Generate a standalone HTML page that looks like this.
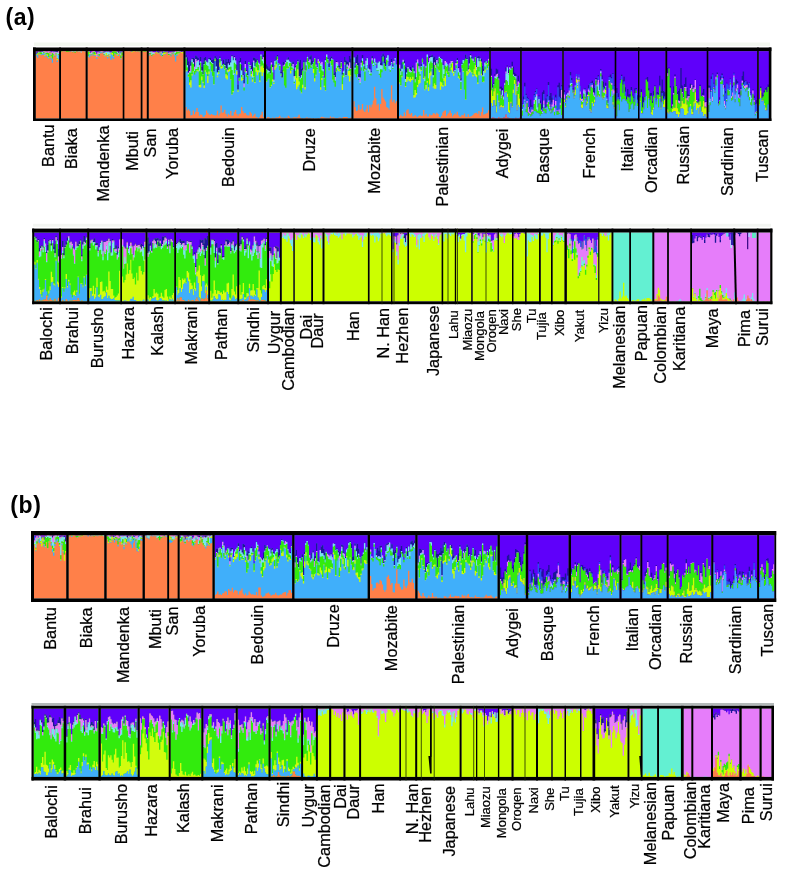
<!DOCTYPE html>
<html><head><meta charset="utf-8"><style>
html,body{margin:0;padding:0;background:#fff;width:785px;height:876px;overflow:hidden}
svg{display:block}
</style></head><body>
<svg width="785" height="876" viewBox="0 0 785 876">
<defs>
<filter id="bl" x="-2%" y="-10%" width="104%" height="120%"><feGaussianBlur stdDeviation="0.55"/></filter>
<filter id="bt" x="-5%" y="-5%" width="110%" height="110%"><feGaussianBlur stdDeviation="0.3"/></filter>
<filter id="bl2" x="-2%" y="-10%" width="104%" height="120%"><feGaussianBlur stdDeviation="0.3"/></filter>
</defs>
<g filter="url(#bl)">
<rect x="35.5" y="51.1" width="23.9" height="67.3" fill="#ff8048"/>
<rect x="60.7" y="51.1" width="25.2" height="67.3" fill="#ff8048"/>
<rect x="87.4" y="51.1" width="35.6" height="67.3" fill="#ff8048"/>
<rect x="124.1" y="51.1" width="16.9" height="67.3" fill="#ff8048"/>
<rect x="142.2" y="51.1" width="4.9" height="67.3" fill="#ff8048"/>
<rect x="148.5" y="51.1" width="35.2" height="67.3" fill="#ff8048"/>
<rect x="185.2" y="51.1" width="79.1" height="67.3" fill="#41affa"/>
<rect x="265.7" y="51.1" width="86.0" height="67.3" fill="#41affa"/>
<rect x="353.1" y="51.1" width="44.2" height="67.3" fill="#41affa"/>
<rect x="398.7" y="51.1" width="90.8" height="67.3" fill="#41affa"/>
<rect x="490.5" y="51.1" width="29.9" height="67.3" fill="#5f00fa"/>
<rect x="521.5" y="51.1" width="41.0" height="67.3" fill="#5f00fa"/>
<rect x="563.5" y="51.1" width="51.5" height="67.3" fill="#5f00fa"/>
<rect x="616.0" y="51.1" width="22.3" height="67.3" fill="#5f00fa"/>
<rect x="639.2" y="51.1" width="26.4" height="67.3" fill="#5f00fa"/>
<rect x="666.9" y="51.1" width="40.1" height="67.3" fill="#5f00fa"/>
<rect x="708.1" y="51.1" width="49.3" height="67.3" fill="#5f00fa"/>
<rect x="758.5" y="51.1" width="10.6" height="67.3" fill="#5f00fa"/>
<path d="M36.4 51.1v0.3M37.6 51.1v0.5M41.3 51.1v0.4M46.2 51.1v0.2M49.9 51.1v0.3M51.1 51.1v1.2M52.4 51.1v0.3M72.7 51.1v0.2M81.3 51.1v0.2M89.5 51.1v0.3M90.7 51.1v1.2M91.9 51.1v0.4M95.5 51.1v0.4M96.8 51.1v2.3M98.0 51.1v0.5M104.0 51.1v0.2M105.2 51.1v0.4M106.4 51.1v0.5M107.6 51.1v0.4M108.8 51.1v0.4M110.0 51.1v1.3M111.2 51.1v1.4M112.4 51.1v0.2M117.3 51.1v0.3M118.5 51.1v0.2M122.1 51.1v0.4M153.0 51.1v0.3M154.2 51.1v1.1M155.4 51.1v1.0M156.6 51.1v0.4M157.7 51.1v1.1M158.9 51.1v0.5M164.9 51.1v0.3M166.1 51.1v0.4M167.3 51.1v0.3M168.5 51.1v1.0M169.7 51.1v0.4M170.9 51.1v1.0M172.1 51.1v0.2M173.3 51.1v0.2M174.5 51.1v0.7M175.6 51.1v0.2M181.6 51.1v0.5M182.8 51.1v0.2M186.1 51.1v3.8M187.3 51.1v6.2M188.5 51.1v10.1M189.7 51.1v13.4M190.9 51.1v9.5M192.1 51.1v7.1M193.3 51.1v6.8M194.6 51.1v7.7M195.8 51.1v4.5M197.0 51.1v5.5M198.2 51.1v7.0M199.4 51.1v11.6M200.6 51.1v5.8M201.8 51.1v15.9M203.0 51.1v11.7M204.2 51.1v6.9M205.4 51.1v5.9M206.6 51.1v9.3M207.8 51.1v11.2M209.0 51.1v6.9M210.3 51.1v6.5M211.5 51.1v8.8M212.7 51.1v8.9M213.9 51.1v8.0M215.1 51.1v4.8M216.3 51.1v6.5M217.5 51.1v7.9M218.7 51.1v8.1M219.9 51.1v5.1M221.1 51.1v9.5M222.3 51.1v13.1M223.5 51.1v8.4M224.8 51.1v12.3M226.0 51.1v8.0M227.2 51.1v10.8M228.4 51.1v8.0M229.6 51.1v10.8M230.8 51.1v9.3M232.0 51.1v4.0M233.2 51.1v5.7M234.4 51.1v4.7M235.6 51.1v7.1M236.8 51.1v13.3M238.0 51.1v33.3M239.2 51.1v9.8M240.4 51.1v6.6M241.7 51.1v13.4M242.9 51.1v19.5M244.1 51.1v23.5M245.3 51.1v10.0M246.5 51.1v19.0M247.7 51.1v19.4M248.9 51.1v10.5M250.1 51.1v13.3M251.3 51.1v14.7M252.5 51.1v11.1M253.7 51.1v6.4M254.9 51.1v7.0M256.2 51.1v8.2M257.4 51.1v8.2M258.6 51.1v11.4M259.8 51.1v12.4M261.0 51.1v2.9M262.2 51.1v7.0M263.4 51.1v3.4M266.6 51.1v13.2M267.8 51.1v15.2M269.0 51.1v17.4M270.2 51.1v15.4M271.4 51.1v10.2M272.6 51.1v13.1M273.8 51.1v28.0M275.0 51.1v8.6M276.2 51.1v5.4M277.4 51.1v3.9M278.6 51.1v11.8M279.8 51.1v13.1M281.0 51.1v20.9M282.2 51.1v18.8M283.4 51.1v11.0M284.6 51.1v12.8M285.8 51.1v9.7M287.0 51.1v7.7M288.3 51.1v6.2M289.5 51.1v9.5M290.7 51.1v10.4M291.9 51.1v12.6M293.1 51.1v10.7M294.3 51.1v17.3M295.5 51.1v14.6M296.7 51.1v13.2M297.9 51.1v8.4M299.1 51.1v11.5M300.3 51.1v8.6M301.5 51.1v17.7M302.7 51.1v16.4M303.9 51.1v9.2M305.1 51.1v19.0M306.3 51.1v10.2M307.5 51.1v4.7M308.7 51.1v8.9M309.9 51.1v5.3M311.1 51.1v4.2M312.3 51.1v9.4M313.5 51.1v10.6M314.7 51.1v6.8M315.9 51.1v13.0M317.1 51.1v15.5M318.3 51.1v7.3M319.5 51.1v10.3M320.7 51.1v12.2M321.9 51.1v10.7M323.1 51.1v17.0M324.3 51.1v26.0M325.5 51.1v8.2M326.7 51.1v3.3M327.9 51.1v6.8M329.1 51.1v12.2M330.4 51.1v6.5M331.6 51.1v5.5M332.8 51.1v7.8M334.0 51.1v22.1M335.2 51.1v20.2M336.4 51.1v9.6M337.6 51.1v10.8M338.8 51.1v14.1M340.0 51.1v15.0M341.2 51.1v9.9M342.4 51.1v21.4M343.6 51.1v18.3M344.8 51.1v5.8M346.0 51.1v9.3M347.2 51.1v10.3M348.4 51.1v11.1M349.6 51.1v5.0M350.8 51.1v7.5M354.0 51.1v6.4M355.2 51.1v14.8M356.4 51.1v5.4M357.6 51.1v3.3M358.8 51.1v11.6M360.1 51.1v22.5M361.3 51.1v9.0M362.5 51.1v4.0M363.7 51.1v12.2M364.9 51.1v15.0M366.1 51.1v7.7M367.3 51.1v6.4M368.5 51.1v16.7M369.8 51.1v13.1M371.0 51.1v19.8M372.2 51.1v4.8M373.4 51.1v10.6M374.6 51.1v6.8M375.8 51.1v11.1M377.0 51.1v16.8M378.2 51.1v10.7M379.4 51.1v9.8M380.6 51.1v11.6M381.9 51.1v4.6M383.1 51.1v2.4M384.3 51.1v4.5M385.5 51.1v10.9M386.7 51.1v5.8M387.9 51.1v4.0M389.1 51.1v14.4M390.3 51.1v13.9M391.6 51.1v7.6M392.8 51.1v14.2M394.0 51.1v9.7M395.2 51.1v6.4M396.4 51.1v13.5M399.6 51.1v13.7M400.8 51.1v17.9M402.0 51.1v11.3M403.2 51.1v7.7M404.4 51.1v9.5M405.6 51.1v15.4M406.8 51.1v16.6M408.0 51.1v15.2M409.2 51.1v17.2M410.4 51.1v16.0M411.6 51.1v18.1M412.8 51.1v14.4M414.0 51.1v17.9M415.2 51.1v21.8M416.4 51.1v10.2M417.6 51.1v8.0M418.8 51.1v12.1M420.0 51.1v16.6M421.2 51.1v12.9M422.5 51.1v6.7M423.7 51.1v12.7M424.9 51.1v25.4M426.1 51.1v14.7M427.3 51.1v3.3M428.5 51.1v10.1M429.7 51.1v4.9M430.9 51.1v5.0M432.1 51.1v3.7M433.3 51.1v6.5M434.5 51.1v5.4M435.7 51.1v8.4M436.9 51.1v7.7M438.1 51.1v10.6M439.3 51.1v5.1M440.5 51.1v6.2M441.7 51.1v7.6M442.9 51.1v13.6M444.1 51.1v17.8M445.3 51.1v9.5M446.5 51.1v11.3M447.7 51.1v13.3M448.9 51.1v20.3M450.1 51.1v12.0M451.3 51.1v9.5M452.5 51.1v10.0M453.7 51.1v20.2M454.9 51.1v18.8M456.1 51.1v10.8M457.3 51.1v7.0M458.5 51.1v15.5M459.7 51.1v20.3M460.9 51.1v26.8M462.1 51.1v11.2M463.3 51.1v8.3M464.5 51.1v8.5M465.7 51.1v3.5M467.0 51.1v6.8M468.2 51.1v16.7M469.4 51.1v5.5M470.6 51.1v2.6M471.8 51.1v5.3M473.0 51.1v6.6M474.2 51.1v11.0M475.4 51.1v5.5M476.6 51.1v14.4M477.8 51.1v5.4M479.0 51.1v5.0M480.2 51.1v6.5M481.4 51.1v7.8M482.6 51.1v14.7M483.8 51.1v17.5M485.0 51.1v9.9M486.2 51.1v10.1M487.4 51.1v11.8M488.6 51.1v7.7" stroke="#5f00fa" stroke-width="1.35"/>
<path d="M36.4 51.4v1.2M37.6 51.6v0.9M38.9 51.2v0.4M40.1 51.2v0.7M41.3 51.5v0.3M46.2 51.3v0.2M47.5 51.1v0.2M54.8 51.1v0.3M56.0 51.1v0.7M57.3 51.1v1.0M58.5 51.1v0.2M70.2 51.1v0.2M90.7 52.3v0.3M98.0 51.6v0.2M99.2 51.1v0.2M100.4 51.1v0.2M116.1 51.2v0.2M117.3 51.4v0.3M118.5 51.3v1.4M119.7 51.1v0.4M149.4 51.2v0.2M153.0 51.4v0.6M157.7 52.2v0.2M158.9 51.6v1.1M160.1 51.2v0.6M161.3 51.1v0.4M162.5 51.1v0.5M163.7 51.1v0.2M169.7 51.5v0.7M170.9 52.1v0.2M172.1 51.3v0.4M173.3 51.3v0.4M176.8 51.1v0.2M181.6 51.6v0.4M182.8 51.3v0.3M186.1 54.9v2.7M187.3 57.3v7.7M188.5 61.2v11.5M189.7 64.5v6.5M190.9 60.6v5.1M192.1 58.2v1.1M193.3 57.9v4.2M194.6 58.8v7.9M195.8 55.6v3.5M197.0 56.6v4.3M198.2 58.1v2.1M199.4 62.7v2.6M200.6 56.9v4.5M201.8 67.0v3.5M203.0 62.8v11.3M204.2 58.0v6.0M205.4 57.0v3.7M206.6 60.4v1.3M207.8 62.3v0.3M209.0 58.0v1.0M210.3 57.6v2.5M211.5 59.9v2.2M212.7 60.0v3.1M213.9 59.1v12.3M215.1 55.9v2.5M216.3 57.6v8.9M217.5 59.0v13.5M218.7 59.2v11.2M219.9 56.2v1.7M221.1 60.6v0.3M222.3 64.2v1.0M223.5 59.5v4.4M224.8 63.4v1.7M226.0 59.1v9.0M227.2 61.9v7.8M228.4 59.1v4.4M229.6 61.9v3.1M230.8 60.4v2.1M232.0 55.1v1.1M233.2 56.8v3.5M234.4 55.8v1.3M235.6 58.2v2.4M236.8 64.4v5.7M238.0 84.4v5.0M239.2 60.9v16.8M240.4 57.7v4.9M241.7 64.5v6.0M242.9 70.6v4.3M244.1 74.6v9.0M245.3 61.1v3.0M246.5 70.1v1.0M247.7 70.5v4.7M248.9 61.6v0.8M250.1 64.4v0.5M251.3 65.8v3.4M252.5 62.2v9.2M253.7 57.5v3.1M254.9 58.1v7.9M256.2 59.3v3.3M257.4 59.3v1.3M258.6 62.5v0.3M259.8 63.5v0.6M261.0 54.0v0.5M262.2 58.1v0.8M263.4 54.5v2.8M266.6 64.3v4.5M267.8 66.3v3.8M269.0 68.5v2.6M270.2 66.5v6.9M271.4 61.3v1.2M272.6 64.2v2.8M273.8 79.1v0.5M275.0 59.7v1.0M276.2 56.5v4.0M277.4 55.0v1.5M278.6 62.9v0.4M279.8 64.2v0.3M281.0 72.0v1.6M282.2 69.9v7.6M283.4 62.1v3.6M284.6 63.9v0.5M285.8 60.8v1.3M287.0 58.8v1.0M288.3 57.3v2.5M289.5 60.6v0.8M290.7 61.5v0.9M291.9 63.7v2.6M293.1 61.8v2.2M294.3 68.4v7.7M295.5 65.7v1.7M297.9 59.5v1.8M299.1 62.6v13.6M300.3 59.7v18.0M301.5 68.8v6.2M302.7 67.5v3.2M303.9 60.3v1.8M305.1 70.1v0.4M306.3 61.3v0.5M307.5 55.8v1.0M308.7 60.0v0.8M309.9 56.4v3.1M311.1 55.3v9.9M312.3 60.5v4.0M313.5 61.7v0.7M314.7 57.9v0.3M315.9 64.1v0.4M317.1 66.6v0.5M318.3 58.4v0.9M319.5 61.4v0.2M323.1 68.1v1.0M324.3 77.1v0.7M325.5 59.3v0.7M326.7 54.4v0.2M327.9 57.9v1.3M329.1 63.3v3.8M330.4 57.6v3.7M331.6 56.6v1.9M332.8 58.9v0.6M334.0 73.2v1.8M335.2 71.3v5.6M336.4 60.7v1.2M337.6 61.9v0.4M338.8 65.2v2.3M340.0 66.1v2.8M341.2 61.0v1.0M342.4 72.5v2.2M343.6 69.4v1.3M344.8 56.9v5.1M346.0 60.4v14.5M347.2 61.4v3.2M348.4 62.2v3.6M349.6 56.1v6.4M350.8 58.6v9.4M355.2 65.9v1.8M356.4 56.5v6.8M357.6 54.4v10.9M358.8 62.7v14.4M360.1 73.6v3.9M361.3 60.1v2.6M362.5 55.1v3.1M363.7 63.3v1.0M364.9 66.1v2.9M366.1 58.8v2.0M367.3 57.5v0.6M368.5 67.8v0.8M369.8 64.2v5.3M371.0 70.9v1.5M372.2 55.9v2.5M373.4 61.7v1.0M374.6 57.9v0.6M375.8 62.2v0.2M377.0 67.9v0.4M378.2 61.8v0.9M379.4 60.9v0.7M380.6 62.7v2.4M381.9 55.7v9.7M383.1 53.5v3.1M384.3 55.6v8.0M385.5 62.0v3.9M386.7 56.9v0.9M389.1 65.5v0.4M390.3 65.0v0.6M391.6 58.7v3.4M392.8 65.3v1.1M394.0 60.8v0.3M395.2 57.5v0.6M400.8 69.0v1.9M402.0 62.4v6.3M403.2 58.8v1.0M404.4 60.6v2.6M405.6 66.5v12.5M406.8 67.7v4.8M408.0 66.3v0.8M409.2 68.3v0.5M410.4 67.1v3.1M411.6 69.2v1.9M412.8 65.5v2.2M414.0 69.0v2.2M415.2 72.9v6.3M416.4 61.3v1.3M417.6 59.1v0.4M418.8 63.2v3.0M420.0 67.7v1.0M421.2 64.0v2.2M422.5 57.8v0.8M423.7 63.8v0.6M428.5 61.2v1.1M429.7 56.0v2.1M430.9 56.1v1.0M432.1 54.8v2.3M433.3 57.6v17.5M434.5 56.5v6.0M435.7 59.5v5.4M436.9 58.8v1.3M438.1 61.7v1.7M439.3 56.2v0.5M440.5 57.3v0.9M441.7 58.7v0.3M442.9 64.7v0.2M444.1 68.9v0.2M445.3 60.6v0.4M446.5 62.4v0.2M448.9 71.4v0.2M450.1 63.1v0.2M451.3 60.6v0.3M453.7 71.3v0.2M454.9 69.9v0.2M456.1 61.9v1.3M457.3 58.1v1.8M458.5 66.6v1.7M459.7 71.4v0.8M460.9 77.9v2.6M462.1 62.3v1.8M463.3 59.4v0.5M464.5 59.6v1.1M465.7 54.6v4.1M467.0 57.9v1.0M468.2 67.8v1.7M469.4 56.6v7.1M470.6 53.7v1.5M471.8 56.4v2.3M473.0 57.7v0.9M475.4 56.6v0.3M476.6 65.5v1.6M477.8 56.5v1.4M479.0 56.1v5.1M480.2 57.6v1.0M481.4 58.9v2.8M482.6 65.8v9.5M483.8 68.6v2.4M485.0 61.0v1.6M486.2 61.2v0.2M491.4 68.7v7.1M492.6 84.2v3.5M493.9 82.6v1.5M495.1 73.9v2.0M496.3 68.8v5.7M497.5 69.4v4.5M498.7 73.9v4.6M500.0 86.8v1.9M501.2 86.4v8.4M502.4 88.1v2.1M503.6 95.9v0.6M504.8 81.5v1.3M506.1 67.5v4.1M507.3 65.5v1.2M508.5 70.1v3.0M509.7 66.4v0.6M510.9 67.3v1.3M512.2 61.8v4.8M513.4 66.8v7.7M514.6 72.8v3.3M515.8 73.9v2.1M517.0 84.7v1.3M518.3 75.7v5.8M519.5 82.2v0.6M522.4 103.5v0.5M523.6 96.4v3.1M524.8 82.8v3.6M526.0 93.8v1.3M527.1 96.8v1.6M528.3 97.9v0.9M529.5 106.9v2.1M530.7 99.8v7.5M531.9 105.5v1.3M533.1 107.6v0.6M534.3 94.0v1.2M535.5 91.1v0.8M536.7 88.6v0.4M537.8 99.1v0.7M539.0 95.4v1.0M540.2 100.6v2.3M541.4 104.2v4.7M542.6 92.3v15.9M543.8 90.3v3.8M545.0 106.9v0.9M546.2 98.4v8.5M547.3 94.7v1.8M548.5 82.0v3.1M549.7 95.9v4.1M550.9 92.9v14.7M552.1 97.7v4.7M554.5 104.5v0.7M555.7 94.7v2.9M556.9 100.1v0.6M558.0 85.3v1.9M559.2 82.8v14.0M560.4 88.8v9.3M561.6 85.3v1.2M564.4 90.3v1.9M565.6 96.9v0.7M566.8 92.4v1.2M568.0 91.5v0.9M569.3 85.2v2.5M570.5 72.0v3.6M571.7 77.9v2.3M572.9 88.1v1.4M574.1 91.4v0.2M581.4 95.3v0.2M582.6 96.4v1.5M583.8 88.9v0.3M585.0 88.3v0.7M586.2 93.6v2.9M587.4 91.6v2.5M588.6 85.2v2.9M589.9 82.9v0.7M591.1 82.4v0.7M592.3 80.7v2.2M593.5 83.1v8.9M594.7 87.9v5.7M595.9 78.1v0.9M597.1 78.3v3.9M598.3 75.0v1.5M599.6 81.8v0.7M600.8 69.0v1.2M602.0 75.4v3.5M603.2 81.7v5.5M604.4 86.2v2.1M605.6 82.7v3.0M606.8 96.4v0.6M608.0 100.6v0.4M609.2 76.6v0.5M610.5 74.5v2.9M611.7 76.9v1.6M612.9 73.3v0.7M614.1 85.1v0.6M616.9 87.9v5.0M618.1 93.2v3.8M619.3 98.6v0.5M620.5 79.2v0.6M621.7 74.8v1.2M622.9 79.7v5.0M624.1 76.7v4.8M625.3 87.2v4.6M626.5 96.5v2.7M627.8 88.9v7.7M629.0 94.4v2.8M630.2 94.1v2.3M631.4 86.9v3.0M632.6 94.7v0.7M633.8 96.6v1.4M635.0 88.4v4.9M636.2 88.0v1.3M637.4 95.2v4.6M640.1 95.6v1.9M641.3 89.2v2.9M642.6 96.5v11.0M643.8 97.6v4.5M645.0 96.3v0.5M646.3 78.6v0.9M647.5 77.0v4.4M648.7 88.3v1.9M649.9 93.2v6.5M651.2 93.1v2.6M652.4 101.3v1.6M653.6 91.2v4.3M654.9 85.3v0.6M656.1 99.5v0.4M657.3 92.1v2.2M658.5 92.7v1.9M659.8 75.8v9.7M661.0 91.2v10.5M662.2 79.5v13.4M663.5 90.9v7.5M664.7 92.3v4.2M667.8 68.1v5.2M669.0 67.6v0.9M670.2 86.0v1.8M671.4 105.8v2.1M672.6 94.5v9.9M673.8 86.2v6.7M675.0 74.5v2.0M676.2 85.3v0.7M677.4 92.3v2.0M678.6 91.0v9.6M679.8 88.4v12.7M681.0 67.9v20.7M682.2 85.6v6.5M683.4 96.8v0.5M684.6 84.1v3.1M685.8 77.6v9.4M687.0 88.0v10.1M688.1 94.2v2.1M689.3 95.1v1.1M690.5 83.7v4.3M691.7 83.9v0.8M692.9 85.7v3.4M694.1 85.6v2.0M695.3 79.5v0.5M697.7 101.8v0.6M698.9 98.4v3.2M700.1 84.7v1.3M701.3 95.7v0.3M702.5 92.8v2.7M703.7 88.9v6.7M704.9 100.9v1.7M706.1 101.8v0.3M709.0 85.4v1.9M710.2 85.7v6.4M711.4 76.6v2.4M712.6 73.5v1.0M713.7 82.7v1.1M714.9 88.7v0.9M716.1 75.5v1.0M717.3 72.4v2.1M718.5 102.3v1.1M719.7 97.2v2.6M720.9 76.2v3.7M722.1 73.6v1.3M723.2 76.7v1.9M724.4 85.6v2.1M725.6 91.1v2.3M726.8 82.7v0.8M729.2 87.8v0.2M730.4 78.5v0.4M731.6 89.7v0.5M732.8 85.6v1.9M733.9 72.8v0.8M735.1 89.3v2.2M736.3 79.6v5.0M737.5 81.2v1.7M738.7 92.7v1.3M739.9 92.2v4.8M741.1 87.3v1.9M742.3 75.9v4.7M743.4 71.5v12.5M744.6 80.5v2.0M745.8 80.5v0.6M747.0 81.7v2.3M748.2 84.0v3.8M749.4 82.4v0.7M750.6 92.4v0.9M751.8 97.2v0.4M752.9 89.6v0.7M754.1 95.7v2.4M755.3 103.6v1.0M756.5 100.1v3.6M760.7 86.6v1.5M761.9 92.7v5.3M763.2 94.8v1.6M764.4 90.5v2.1M765.7 88.3v1.5M766.9 86.9v5.1M768.2 84.6v2.3" stroke="#1c1498" stroke-width="1.35"/>
<path d="M36.4 52.6v1.7M37.6 52.5v0.3M38.9 51.6v0.2M42.5 51.3v0.8M43.8 51.1v0.2M47.5 51.3v0.2M48.7 51.2v0.2M51.1 52.3v0.3M52.4 51.4v0.3M53.6 51.2v1.2M54.8 51.4v0.5M57.3 52.1v0.2M75.1 51.1v0.2M88.3 51.2v0.3M89.5 51.4v0.2M90.7 52.5v0.6M95.5 51.6v0.4M96.8 53.5v0.7M98.0 51.8v0.4M99.2 51.3v1.4M100.4 51.3v0.2M102.8 51.2v0.3M104.0 51.3v1.5M105.2 51.5v0.4M107.6 51.5v0.2M108.8 51.5v0.2M110.0 52.4v0.2M119.7 51.6v0.3M120.9 51.2v2.0M122.1 51.5v0.4M130.8 51.1v0.2M132.0 51.1v0.3M145.2 51.1v0.2M149.4 51.4v0.6M150.6 51.2v0.9M151.8 51.3v0.4M161.3 51.5v0.3M162.5 51.6v1.6M163.7 51.4v0.3M164.9 51.4v0.5M166.1 51.5v0.8M167.3 51.4v0.4M168.5 52.3v0.9M169.7 52.3v0.3M170.9 52.3v0.2M172.1 51.7v0.7M173.3 51.7v0.3M179.2 51.2v0.5M180.4 51.3v0.4M182.8 51.6v0.2M522.4 104.0v4.9M523.6 99.5v4.4M524.8 86.4v13.0M526.0 95.1v8.3M527.1 98.3v2.7M528.3 98.7v8.3M529.5 109.0v2.7M530.7 107.3v5.0M531.9 106.8v2.7M533.1 108.2v1.6M534.3 95.2v4.7M535.5 91.9v5.2M536.7 89.0v5.2M537.8 99.8v7.3M539.0 96.5v2.4M540.2 102.9v0.2M541.4 109.0v1.2M542.6 108.2v3.1M543.8 94.1v6.6M545.0 107.7v0.8M546.2 106.8v0.9M547.3 96.6v5.9M548.5 85.0v15.6M549.7 100.0v4.2M550.9 107.6v2.2M552.1 102.5v1.9M553.3 95.6v4.0M554.5 105.2v2.9M555.7 97.6v3.3M556.9 100.7v9.6M558.0 87.2v23.5M559.2 96.7v12.7M560.4 98.0v4.8M561.6 86.4v3.6M564.4 92.2v2.3M565.6 97.6v4.6M566.8 93.7v1.1M568.0 92.5v0.2M569.3 87.7v2.9M570.5 75.6v7.3M571.7 80.2v2.7M572.9 89.5v0.4M574.1 91.6v0.9M575.3 84.9v0.5M576.5 74.1v2.2M577.7 78.8v1.2M578.9 74.5v3.2M580.2 85.7v5.9M581.4 95.5v3.4M582.6 97.9v1.2M583.8 89.2v0.3M585.0 89.0v1.6M586.2 96.5v4.1M587.4 94.1v1.0M588.6 88.1v1.4M589.9 83.6v7.2M591.1 83.1v2.3M592.3 82.9v1.8M593.5 92.0v0.6M594.7 93.6v1.7M595.9 79.0v0.5M597.1 82.2v2.3M598.3 76.6v3.3M599.6 82.5v7.4M600.8 70.2v0.9M602.0 78.9v0.7M603.2 87.2v3.3M604.4 88.3v0.9M605.6 85.7v0.3M606.8 97.0v1.4M608.0 101.0v1.7M609.2 77.1v2.8M610.5 77.4v5.5M611.7 78.5v4.5M612.9 74.0v15.2M614.1 85.7v4.9M616.9 93.0v7.5M618.1 97.1v1.7M619.3 99.1v1.2M620.5 79.9v3.1M621.7 76.0v3.6M622.9 84.7v8.2M624.1 81.5v2.8M625.3 91.8v4.2M626.5 99.2v0.8M627.8 96.7v0.2M629.0 97.2v0.6M630.2 96.4v5.4M631.4 89.9v1.5M632.6 95.4v1.0M633.8 98.0v4.1M635.0 93.3v6.1M636.2 89.3v1.3M637.4 99.8v3.5M643.8 102.2v0.4M647.5 81.4v0.2M649.9 99.7v0.4M651.2 95.7v0.2M652.4 102.9v0.2M653.6 95.5v0.9M654.9 86.0v0.5M656.1 99.9v1.5M657.3 94.3v0.4M658.5 94.7v0.2M659.8 85.4v1.2M661.0 101.7v0.7M662.2 92.9v2.9M663.5 98.4v2.5M664.7 96.5v2.6M709.0 87.3v0.7M710.2 92.1v6.6M711.4 79.0v10.9M712.6 74.4v22.2M713.7 83.8v3.7M714.9 89.6v1.0M716.1 76.5v0.3M718.5 103.5v0.2M719.7 99.8v0.6M720.9 79.8v0.6M722.1 74.9v3.2M723.2 78.5v6.5M724.4 87.7v13.4M725.6 93.4v12.0M726.8 83.4v15.5M728.0 84.8v4.3M729.2 87.9v1.9M730.4 79.0v3.8M731.6 90.2v5.8M732.8 87.6v4.9M733.9 73.6v1.7M735.1 91.4v2.9M736.3 84.5v3.9M737.5 82.9v1.6M738.7 94.0v0.7M739.9 97.0v0.5M742.3 80.6v0.2M743.4 84.0v1.3M744.6 82.5v3.4M745.8 81.2v4.0M747.0 84.0v1.0M748.2 87.8v0.9M749.4 83.1v4.7M750.6 93.3v1.8M751.8 97.6v0.3M752.9 90.2v0.4M754.1 98.0v2.0M755.3 104.5v7.8M756.5 103.7v7.2" stroke="#2a50f0" stroke-width="1.35"/>
<path d="M40.1 52.0v0.2M43.8 51.4v0.3M45.0 51.4v1.4M46.2 51.6v0.7M47.5 51.5v1.2M48.7 51.3v1.9M49.9 51.5v0.9M51.1 52.5v2.5M52.4 51.7v1.0M53.6 52.3v1.2M54.8 52.0v3.7M56.0 51.9v0.6M57.3 52.3v0.2M58.5 51.4v1.6M81.3 51.4v0.2M90.7 53.1v0.3M91.9 51.7v1.4M93.1 51.2v0.7M95.5 51.9v0.4M96.8 54.1v2.6M98.0 52.3v1.8M99.2 52.7v0.2M100.4 51.6v0.2M101.6 51.2v0.8M102.8 51.5v0.2M105.2 51.9v0.7M117.3 51.8v0.2M118.5 52.8v0.8M119.7 51.9v0.2M149.4 51.9v1.0M150.6 52.1v0.5M151.8 51.6v0.2M153.0 52.0v0.9M154.2 52.3v1.1M155.4 52.2v0.2M157.7 52.4v0.3M160.1 51.9v0.6M161.3 51.8v0.8M162.5 53.3v0.2M168.5 53.2v0.4M169.7 52.6v1.1M170.9 52.5v1.0M172.1 52.4v0.6M173.3 52.0v0.2M174.5 52.0v0.2M175.6 51.4v0.5M180.4 51.7v0.2M181.6 52.1v0.4M186.1 57.6v0.4M187.3 65.0v0.8M188.5 72.8v1.1M189.7 71.0v0.9M190.9 65.7v5.3M192.1 59.3v0.9M193.3 62.1v0.8M194.6 66.8v3.5M195.8 59.1v8.5M197.0 60.9v1.3M198.2 60.1v0.8M199.4 65.3v2.4M200.6 61.4v0.5M201.8 70.4v0.6M203.0 74.1v0.3M205.4 60.6v0.3M207.8 62.7v0.2M209.0 59.0v0.3M212.7 63.1v0.3M213.9 71.4v0.2M215.1 58.3v0.3M216.3 66.5v0.2M218.7 70.3v0.2M219.9 57.9v0.4M221.1 60.9v0.3M226.0 68.1v0.6M227.2 69.7v1.8M228.4 63.5v0.9M230.8 62.4v0.3M232.0 56.3v0.8M233.2 60.3v0.2M234.4 57.1v1.0M235.6 60.6v0.6M238.0 89.4v0.4M239.2 77.7v0.4M240.4 62.6v0.6M241.7 70.4v0.4M242.9 74.9v1.7M244.1 83.6v3.5M245.3 64.1v3.1M246.5 71.1v1.3M247.7 75.2v0.6M248.9 62.4v0.2M250.1 64.9v1.2M251.3 69.2v1.0M252.5 71.3v2.6M253.7 60.7v1.8M254.9 65.9v0.5M258.6 62.8v0.5M259.8 64.1v3.8M261.0 54.5v1.1M262.2 58.9v0.8M263.4 57.3v2.5M267.8 70.1v0.4M269.0 71.1v0.3M270.2 73.4v0.9M271.4 62.5v1.4M272.6 67.0v3.6M273.8 79.7v1.0M279.8 64.5v0.6M281.0 73.6v0.2M283.4 65.6v0.4M284.6 64.4v1.7M285.8 62.2v1.0M287.0 59.8v0.6M288.3 59.8v0.4M289.5 61.4v0.2M291.9 66.3v0.7M293.1 64.0v2.4M294.3 76.2v1.2M295.5 67.4v2.5M296.7 64.4v0.7M297.9 61.3v0.4M299.1 76.2v0.2M301.5 75.0v0.8M306.3 61.9v0.3M307.5 56.7v0.6M308.7 60.9v0.9M309.9 59.6v2.3M311.1 65.2v0.6M312.3 64.4v0.2M313.5 62.4v0.2M314.7 58.3v0.4M315.9 64.5v1.5M317.1 67.1v0.8M318.3 59.3v1.5M319.5 61.6v1.0M320.7 63.3v1.0M321.9 61.9v2.8M323.1 69.1v0.7M325.5 60.0v0.5M326.7 54.6v0.3M330.4 61.3v0.2M331.6 58.5v0.4M332.8 59.5v0.2M334.0 75.0v0.4M335.2 76.9v2.9M336.4 61.9v1.3M337.6 62.3v2.2M338.8 67.5v0.6M340.0 68.9v0.8M341.2 62.1v0.6M342.4 74.7v0.3M343.6 70.7v0.8M344.8 61.9v0.2M346.0 74.9v0.5M347.2 64.6v0.6M348.4 65.8v3.7M349.6 62.5v5.2M350.8 67.9v1.0M355.2 67.7v0.4M356.4 63.2v0.8M357.6 65.3v0.3M358.8 77.2v1.0M360.1 77.6v4.6M361.3 62.7v2.1M362.5 58.3v0.2M363.7 64.3v0.2M364.9 69.0v1.5M366.1 60.7v2.7M367.3 58.1v0.6M368.5 68.5v0.4M369.8 69.5v0.9M371.0 72.4v0.5M372.2 58.3v1.4M373.4 62.7v0.5M374.6 58.5v0.4M379.4 61.6v0.4M380.6 65.0v0.4M381.9 65.4v0.7M385.5 65.9v0.5M386.7 57.8v0.3M387.9 55.2v0.4M389.1 65.9v0.5M390.3 65.6v0.6M391.6 62.1v0.2M392.8 66.4v0.7M394.0 61.1v1.9M395.2 58.1v0.3M396.4 64.7v0.2M399.6 64.8v3.1M400.8 71.0v0.9M402.0 68.7v0.4M403.2 59.8v1.6M404.4 63.2v0.4M408.0 67.1v1.2M409.2 68.8v2.6M410.4 70.2v0.8M411.6 71.1v0.8M415.2 79.3v2.0M416.4 62.7v10.3M417.6 59.5v2.5M418.8 66.2v2.0M420.0 68.6v1.1M421.2 66.2v0.2M422.5 58.7v0.6M423.7 64.3v1.4M424.9 76.6v1.5M426.1 65.9v0.9M427.3 54.6v0.2M428.5 62.3v0.9M429.7 58.0v3.1M430.9 57.1v0.7M433.3 75.1v0.4M434.5 62.5v2.2M435.7 65.0v2.7M436.9 60.1v2.0M438.1 63.4v0.6M439.3 56.7v0.4M440.5 58.2v0.2M444.1 69.1v1.0M445.3 61.0v3.8M446.5 62.6v0.5M447.7 64.5v0.2M448.9 71.6v0.3M450.1 63.3v2.1M451.3 60.9v2.2M452.5 61.2v0.7M454.9 70.2v0.6M456.1 63.1v2.2M457.3 59.9v0.6M458.5 68.3v1.4M459.7 72.2v0.4M460.9 80.5v0.5M463.3 59.9v0.2M467.0 58.9v0.3M468.2 69.6v1.7M469.4 63.6v0.9M470.6 55.2v1.0M471.8 58.7v0.4M473.0 58.7v2.0M474.2 62.2v0.3M475.4 56.9v0.4M476.6 67.1v1.8M477.8 57.9v0.4M479.0 61.2v0.2M480.2 58.6v0.7M481.4 61.7v0.7M485.0 62.7v0.4M486.2 61.4v0.2M487.4 63.0v1.2M488.6 58.9v1.3M491.4 75.8v1.3M492.6 87.7v0.8M495.1 75.9v0.6M496.3 74.5v2.4M497.5 73.8v2.0M498.7 78.6v0.9M500.0 88.7v2.1M501.2 94.8v1.5M502.4 90.3v0.3M503.6 96.6v1.5M504.8 82.8v0.9M506.1 71.6v2.0M507.3 66.8v1.0M508.5 73.0v1.3M509.7 67.0v0.7M510.9 68.6v0.3M512.2 66.6v1.1M513.4 74.5v0.5M515.8 76.0v0.5M517.0 86.0v3.2M518.3 81.6v3.1M519.5 82.8v0.3M523.6 104.0v0.2M524.8 99.4v0.6M526.0 103.4v4.7M527.1 101.0v1.8M528.3 107.0v5.6M529.5 111.7v1.7M530.7 112.4v1.9M531.9 109.5v2.8M533.1 109.8v1.2M534.3 100.0v1.9M535.5 97.1v0.6M536.7 94.2v1.7M537.8 107.1v0.4M539.0 98.9v0.2M541.4 110.2v0.7M542.6 111.4v0.7M543.8 100.6v3.6M545.0 108.5v0.5M546.2 107.7v0.3M547.3 102.4v1.5M548.5 100.6v1.0M549.7 104.2v2.4M550.9 109.8v1.2M552.1 104.4v2.2M553.3 99.7v7.1M554.5 108.1v3.7M555.7 100.9v4.1M556.9 110.3v0.8M558.0 110.7v0.4M559.2 109.4v2.8M560.4 102.8v2.5M561.6 90.0v7.7M564.4 94.5v4.1M565.6 102.2v0.6M568.0 92.7v0.7M569.3 90.6v4.1M570.5 82.9v0.4M572.9 89.9v0.2M574.1 92.5v1.0M575.3 85.4v1.0M576.5 76.4v1.1M577.7 80.0v3.2M578.9 77.6v0.6M580.2 91.6v2.4M581.4 98.9v2.4M582.6 99.1v1.5M583.8 89.5v1.2M585.0 90.6v2.0M586.2 100.6v0.5M587.4 95.1v0.8M588.6 89.5v2.1M589.9 90.8v2.6M591.1 85.4v1.1M592.3 84.7v3.1M593.5 92.5v1.9M594.7 95.3v1.6M595.9 79.6v0.8M597.1 84.5v0.9M598.3 79.9v5.1M599.6 89.9v1.3M600.8 71.1v0.6M602.0 79.6v0.5M603.2 90.5v2.1M604.4 89.2v2.7M605.6 86.0v0.5M606.8 98.4v0.3M610.5 82.8v0.2M611.7 83.0v2.0M612.9 89.2v5.6M614.1 90.6v2.5M667.8 73.2v3.1M669.0 68.5v0.3M671.4 107.9v0.3M672.6 104.4v1.5M673.8 92.9v1.8M675.0 76.5v1.7M676.2 86.0v0.4M677.4 94.3v0.4M678.6 100.6v2.2M679.8 101.1v2.6M681.0 88.6v0.4M682.2 92.1v1.3M683.4 97.3v0.9M684.6 87.2v0.9M685.8 87.0v4.0M687.0 98.2v1.7M688.1 96.3v5.2M689.3 96.2v1.3M690.5 88.0v2.2M691.7 84.7v3.7M692.9 89.0v3.3M694.1 87.6v4.3M695.3 80.1v9.1M696.5 99.9v1.2M700.1 85.9v0.4M702.5 95.6v0.5M703.7 95.6v1.3M704.9 102.6v3.8M706.1 102.1v5.0M709.0 88.0v10.1M710.2 98.7v2.0M711.4 89.9v0.9M712.6 96.7v4.6M713.7 87.5v0.8M714.9 90.6v1.0M716.1 76.8v2.4M717.3 74.6v0.4M718.5 103.7v0.4M719.7 100.4v0.2M720.9 80.4v0.2M722.1 78.1v1.0M723.2 85.0v3.5M724.4 101.1v3.0M725.6 105.5v2.2M726.8 98.9v0.2M730.4 82.7v0.3M731.6 96.0v2.2M732.8 92.5v2.9M733.9 75.4v1.9M735.1 94.4v3.7M736.3 88.4v2.8M737.5 84.5v4.0M738.7 94.6v3.0M739.9 97.5v0.4M741.1 89.3v0.8M742.3 80.8v1.7M743.4 85.3v0.6M744.6 86.0v1.9M745.8 85.2v2.9M747.0 85.0v2.1M748.2 88.7v0.6M751.8 97.8v0.6M752.9 90.6v3.0M754.1 100.0v1.7M755.3 112.3v1.3M756.5 110.9v0.7" stroke="#e67dfa" stroke-width="1.35"/>
<path d="M37.6 52.9v0.5M38.9 52.0v0.9M40.1 52.1v0.2M41.3 52.0v0.4M42.5 52.1v1.6M43.8 51.7v0.5M45.0 52.7v1.7M46.2 52.2v0.7M51.1 55.1v0.2M52.4 52.7v0.5M53.6 53.5v0.8M54.8 55.6v0.2M56.0 52.5v1.0M57.3 52.5v5.8M58.5 53.0v1.1M71.5 51.2v0.2M72.7 51.3v0.6M73.9 51.2v0.4M75.1 51.3v0.7M78.8 51.3v0.5M80.1 51.3v0.3M81.3 51.6v0.8M89.5 51.6v0.3M90.7 53.5v0.4M91.9 53.1v1.4M93.1 51.9v0.7M94.3 51.6v0.5M95.5 52.4v0.3M96.8 56.8v0.2M98.0 54.1v0.3M99.2 52.9v1.2M100.4 51.7v0.3M101.6 52.0v0.2M102.8 51.8v0.2M104.0 52.9v1.2M105.2 52.6v3.1M106.4 51.8v1.2M107.6 51.7v3.3M108.8 51.7v2.3M110.0 52.7v3.3M111.2 52.6v0.6M116.1 51.4v0.3M117.3 52.0v1.5M118.5 53.6v0.3M119.7 52.1v0.4M120.9 53.2v2.3M122.1 51.9v0.5M128.5 51.2v0.2M132.0 51.4v0.3M150.6 52.5v0.7M151.8 51.9v3.3M153.0 53.0v0.9M154.2 53.5v0.7M155.4 52.5v0.2M157.7 52.7v0.4M160.1 52.5v0.2M161.3 52.7v0.7M162.5 53.4v1.4M163.7 51.7v0.6M166.1 52.4v0.2M168.5 53.6v0.3M169.7 53.7v0.4M170.9 53.4v1.2M172.1 53.0v0.3M173.3 52.1v0.3M174.5 52.2v1.5M175.6 51.9v1.3M176.8 51.4v0.4M178.0 51.4v0.9M179.2 51.7v0.2M186.1 58.0v0.5M187.3 65.7v1.7M188.5 73.8v0.7M189.7 71.9v0.9M190.9 71.0v1.7M192.1 60.2v2.0M193.3 62.9v1.2M194.6 70.3v0.7M195.8 67.5v1.5M197.0 62.2v6.8M198.2 60.9v6.1M199.4 67.7v3.6M200.6 61.9v0.8M201.8 71.1v0.9M203.0 74.4v0.3M204.2 64.1v0.6M205.4 61.0v0.5M206.6 61.8v3.0M207.8 62.9v3.3M209.0 59.3v10.0M210.3 60.2v1.9M211.5 62.2v1.1M212.7 63.4v0.6M213.9 71.6v0.2M216.3 66.8v1.2M217.5 72.5v3.2M218.7 70.5v0.8M219.9 58.3v0.8M221.1 61.2v4.3M222.3 65.2v0.7M223.5 63.9v0.3M224.8 65.1v1.0M226.0 68.7v0.3M227.2 71.5v0.9M228.4 64.4v3.2M229.6 65.1v2.1M230.8 62.7v4.1M232.0 57.1v12.8M233.2 60.5v14.6M234.4 58.1v4.7M235.6 61.2v3.2M236.8 70.2v0.5M239.2 78.0v0.2M240.4 63.2v0.8M241.7 70.8v4.1M242.9 76.6v1.1M244.1 87.1v0.4M245.3 67.2v1.1M246.5 72.4v1.2M247.7 75.8v0.3M248.9 62.6v0.3M251.3 70.2v0.9M252.5 74.0v3.8M253.7 62.5v5.0M254.9 66.4v1.3M256.2 62.7v0.3M257.4 60.6v0.2M258.6 63.3v1.4M259.8 67.9v4.6M261.0 55.6v0.7M262.2 59.7v1.6M263.4 59.8v3.8M266.6 68.9v0.6M267.8 70.5v3.1M269.0 71.3v1.0M270.2 74.3v0.2M271.4 63.9v0.7M272.6 70.5v2.0M273.8 80.7v1.6M275.0 60.9v4.7M276.2 60.6v0.7M278.6 63.4v0.3M279.8 65.1v0.8M281.0 73.8v0.6M283.4 66.0v0.2M284.6 66.0v0.3M285.8 63.2v0.2M287.0 60.3v1.8M288.3 60.2v6.2M289.5 61.6v1.4M290.7 62.6v0.5M291.9 67.0v0.5M293.1 66.4v2.3M294.3 77.3v4.4M295.5 69.9v0.8M296.7 65.1v0.2M299.1 76.4v0.6M300.3 77.8v1.7M301.5 75.8v2.1M302.7 70.8v0.3M305.1 70.6v0.7M306.3 62.2v3.4M307.5 57.3v1.0M308.7 61.7v0.4M309.9 61.9v0.9M311.1 65.8v0.6M312.3 64.6v0.8M313.5 62.6v0.3M314.7 58.6v0.2M315.9 66.0v0.5M319.5 62.6v0.3M320.7 64.3v1.6M321.9 64.7v5.7M323.1 69.8v1.8M324.3 77.8v0.8M325.5 60.5v1.5M326.7 54.9v2.2M327.9 59.2v0.7M329.1 67.2v0.2M330.4 61.5v0.3M331.6 58.9v0.9M332.8 59.8v0.2M335.2 79.8v1.0M336.4 63.2v5.1M337.6 64.5v1.3M338.8 68.1v0.5M342.4 75.0v0.3M343.6 71.5v1.5M344.8 62.1v0.2M346.0 75.4v0.3M347.2 65.3v1.4M348.4 69.4v0.9M349.6 67.8v0.7M354.0 57.6v4.9M355.2 68.1v1.5M356.4 64.1v0.3M357.6 65.6v0.2M358.8 78.1v0.7M360.1 82.1v1.4M361.3 64.8v2.8M362.5 58.5v2.5M363.7 64.5v2.0M364.9 70.5v1.1M366.1 63.4v5.0M367.3 58.7v6.2M368.5 68.9v1.9M369.8 70.4v3.7M371.0 72.9v0.8M372.2 59.7v0.7M373.4 63.2v1.8M374.6 58.9v3.5M375.8 62.5v1.3M377.0 68.3v1.9M378.2 62.8v7.3M379.4 62.0v11.8M380.6 65.4v3.8M381.9 66.0v3.4M383.1 56.7v0.6M384.3 63.7v0.2M385.5 66.4v0.2M386.7 58.1v1.7M387.9 55.6v5.4M389.1 66.4v2.9M390.3 66.2v3.9M391.6 62.3v1.1M392.8 67.1v0.9M394.0 63.0v0.4M395.2 58.4v1.0M396.4 64.9v0.2M399.6 67.9v0.5M400.8 71.8v3.2M402.0 69.1v2.5M403.2 61.4v0.5M404.4 63.6v1.7M405.6 79.1v2.8M406.8 72.6v1.6M408.0 68.3v0.5M409.2 71.3v0.8M410.4 71.1v1.5M411.6 71.9v0.4M412.8 67.8v0.6M414.0 71.3v2.1M415.2 81.2v1.2M416.4 73.0v4.2M417.6 62.0v1.4M418.8 68.2v3.6M420.0 69.7v4.5M421.2 66.4v0.8M423.7 65.7v0.9M424.9 78.1v3.2M426.1 66.8v1.0M427.3 54.7v2.5M428.5 63.2v15.4M429.7 61.1v2.3M430.9 57.8v3.8M432.1 57.2v5.8M433.3 75.4v2.2M434.5 64.7v0.3M435.7 67.7v0.3M436.9 62.1v1.5M438.1 64.1v2.6M439.3 57.1v1.0M440.5 58.4v0.7M441.7 59.1v3.5M442.9 64.9v13.6M444.1 70.1v4.0M445.3 64.8v1.0M446.5 63.1v3.6M447.7 64.7v0.9M448.9 71.8v0.3M450.1 65.4v2.0M451.3 63.1v0.7M452.5 61.9v0.3M453.7 71.7v1.4M454.9 70.7v0.6M457.3 60.5v0.7M458.5 69.7v2.7M459.7 72.6v2.7M460.9 81.0v1.1M462.1 64.2v0.9M463.3 60.1v3.1M464.5 60.8v0.3M467.0 59.2v0.7M468.2 71.2v0.3M469.4 64.5v1.1M470.6 56.1v1.5M471.8 59.1v0.4M473.0 60.6v0.4M474.2 62.5v0.6M476.6 68.8v1.4M477.8 58.3v8.8M479.0 61.4v5.3M480.2 59.4v0.5M482.6 75.4v1.0M483.8 71.1v5.3M485.0 63.1v3.5M486.2 61.6v0.7M487.4 64.2v0.3M488.6 60.2v0.6M492.6 88.5v0.2M493.9 84.2v1.3M495.1 76.5v1.8M496.3 77.0v1.9M497.5 75.8v1.0M498.7 79.5v0.3M500.0 90.8v0.4M501.2 96.3v2.1M502.4 90.6v5.0M503.6 98.0v1.7M504.8 83.7v1.5M506.1 73.6v6.4M507.3 67.7v13.9M508.5 74.3v10.8M509.7 67.7v1.7M510.9 68.9v1.0M512.2 67.7v0.3M513.4 75.0v1.3M514.6 76.3v0.8M515.8 76.5v2.3M517.0 89.3v1.6M518.3 84.7v2.3M519.5 83.1v0.3M522.4 109.0v1.7M523.6 104.2v0.5M524.8 100.0v0.8M526.0 108.1v1.3M527.1 102.8v0.5M529.5 113.4v0.3M530.7 114.2v0.3M533.1 111.0v0.4M534.3 101.8v2.2M535.5 97.7v2.5M536.7 95.9v13.8M537.8 107.5v3.4M539.0 99.1v4.3M540.2 103.2v0.4M541.4 110.9v0.4M542.6 112.0v1.6M543.8 104.2v3.3M545.0 109.0v0.5M546.2 108.1v0.7M547.3 104.0v0.6M548.5 101.6v0.5M549.7 106.6v1.9M550.9 111.1v1.3M552.1 106.6v2.1M553.3 106.8v0.3M554.5 111.7v0.2M555.7 105.0v0.8M559.2 112.2v0.7M560.4 105.3v0.2M561.6 97.7v0.6M564.4 98.7v0.4M565.6 102.8v0.5M566.8 94.8v1.5M568.0 93.3v2.1M569.3 94.7v1.1M570.5 83.3v2.1M571.7 82.9v1.1M572.9 90.1v0.2M575.3 86.3v0.4M576.5 77.5v1.0M577.7 83.2v1.9M578.9 78.3v1.0M580.2 94.0v0.2M581.4 101.3v0.3M582.6 100.6v1.5M583.8 90.7v3.1M585.0 92.6v4.1M586.2 101.1v0.7M587.4 96.0v0.3M588.6 91.6v0.5M589.9 93.4v0.3M591.1 86.5v0.2M592.3 87.8v0.4M593.5 94.5v1.3M594.7 96.8v0.3M595.9 80.4v0.3M597.1 85.4v1.1M598.3 84.9v6.1M599.6 91.2v3.1M600.8 71.7v1.9M602.0 80.2v0.7M603.2 92.6v0.2M604.4 91.9v1.4M605.6 86.5v1.1M606.8 98.7v1.7M608.0 102.8v1.2M609.2 80.0v1.1M610.5 83.1v0.3M611.7 85.0v0.2M612.9 94.8v1.3M614.1 93.2v1.4M709.0 98.1v6.9M710.2 100.7v1.7M711.4 90.9v0.2M716.1 79.2v0.5M717.3 74.9v0.7M718.5 104.1v0.3M719.7 100.5v0.6M720.9 80.5v1.5M722.1 79.1v1.3M723.2 88.5v6.3M724.4 104.1v1.8M725.6 107.6v0.9M726.8 99.1v0.9M728.0 89.1v0.3M729.2 89.9v1.2M730.4 83.1v0.2M732.8 95.3v1.1M733.9 77.2v5.2M735.1 98.1v0.9M736.3 91.3v0.2M738.7 97.7v0.4M739.9 97.9v1.2M741.1 90.1v0.4M742.3 82.5v0.7M743.4 85.9v0.2M744.6 87.9v0.2M745.8 88.0v1.0M747.0 87.0v0.6M748.2 89.3v1.8M749.4 87.8v9.1M750.6 95.2v7.3M751.8 98.5v0.8M752.9 93.6v0.6M754.1 101.8v0.3M755.3 113.6v0.5" stroke="#78e6ee" stroke-width="1.35"/>
<path d="M36.4 54.3v0.3M37.6 53.4v1.0M38.9 52.8v0.7M40.1 52.3v1.9M41.3 52.4v1.7M42.5 53.8v0.4M43.8 52.2v0.7M45.0 54.4v0.3M46.2 52.9v1.1M47.5 52.8v1.7M48.7 53.3v4.0M49.9 52.5v0.7M51.1 55.2v1.2M52.4 53.2v5.6M53.6 54.4v1.2M54.8 55.8v0.4M56.0 53.5v0.8M57.3 58.3v0.4M58.5 54.1v0.6M61.6 51.3v0.5M66.5 51.3v0.8M67.8 51.3v0.7M69.0 51.3v0.5M72.7 51.9v0.3M73.9 51.5v0.2M75.1 52.0v0.7M76.4 51.3v0.3M77.6 51.4v0.3M81.3 52.4v0.2M88.3 51.6v4.6M89.5 51.9v0.7M90.7 53.9v0.4M91.9 54.5v0.5M93.1 52.6v0.8M94.3 52.0v2.4M95.5 52.7v1.0M96.8 56.9v0.4M98.0 54.4v0.4M99.2 54.1v1.6M100.4 52.0v0.3M102.8 52.0v0.2M104.0 54.1v0.7M105.2 55.6v0.2M106.4 53.1v0.2M107.6 55.0v0.5M108.8 54.1v0.2M110.0 56.0v0.3M111.2 53.3v0.4M112.4 51.5v1.4M113.6 51.3v5.1M114.9 51.2v1.6M116.1 51.7v2.6M117.3 53.5v0.8M118.5 53.9v0.3M119.7 52.5v0.5M120.9 55.6v2.5M122.1 52.4v3.2M132.0 51.7v0.2M135.5 51.2v0.3M137.8 51.2v0.4M139.0 51.3v0.2M140.1 51.4v0.3M143.0 51.2v0.2M144.1 51.3v0.4M145.2 51.4v0.5M146.3 51.2v0.2M149.4 52.9v1.4M150.6 53.2v0.9M151.8 55.2v0.7M153.0 53.9v0.7M154.2 54.1v0.2M155.4 52.7v0.2M156.6 51.8v0.8M157.7 53.2v0.2M160.1 52.7v0.5M161.3 53.3v0.3M162.5 54.9v1.0M163.7 52.2v0.8M164.9 52.1v0.7M167.3 52.0v0.2M168.5 53.9v1.1M169.7 54.1v0.4M170.9 54.7v0.7M172.1 53.3v0.5M173.3 52.4v0.5M174.5 53.7v0.4M175.6 53.2v2.1M176.8 51.8v2.3M178.0 52.3v1.1M179.2 51.9v1.0M180.4 51.9v0.4M186.1 58.4v11.8M187.3 67.4v3.4M188.5 74.5v2.0M189.7 72.8v9.8M190.9 72.8v7.4M192.1 62.2v12.0M193.3 64.1v7.1M194.6 71.1v3.4M195.8 69.1v3.5M197.0 68.9v1.2M198.2 67.0v3.2M199.4 71.3v13.7M200.6 62.7v22.0M201.8 72.0v4.5M203.0 74.7v7.0M204.2 64.8v20.8M205.4 61.5v8.9M206.6 64.9v7.5M207.8 66.1v9.8M209.0 69.3v2.1M210.3 62.0v2.6M211.5 63.3v8.1M212.7 64.0v11.8M213.9 71.9v12.1M215.1 58.7v1.5M216.3 67.9v0.2M217.5 75.7v0.3M218.7 71.3v1.3M219.9 59.1v3.4M221.1 65.5v1.5M222.3 65.9v0.3M223.5 64.1v1.6M224.8 66.1v2.8M226.0 69.0v5.3M227.2 72.4v3.1M228.4 67.6v2.4M229.6 67.2v2.0M230.8 66.8v12.8M232.0 69.9v24.4M233.2 75.1v15.9M234.4 62.8v10.1M235.6 64.3v4.5M236.8 70.7v0.6M238.0 89.8v0.8M239.2 78.2v2.5M240.4 64.0v5.7M241.7 74.9v2.3M242.9 77.7v1.0M244.1 87.5v3.0M245.3 68.2v3.2M246.5 73.6v3.5M247.7 76.1v8.0M248.9 62.8v1.4M250.1 66.2v0.8M251.3 71.1v3.0M252.5 77.8v1.6M253.7 67.6v8.6M254.9 67.7v14.4M256.2 63.0v4.3M257.4 60.8v9.4M258.6 64.7v5.8M259.8 72.5v8.1M261.0 56.3v10.1M262.2 61.3v4.2M263.4 63.6v4.5M266.6 69.5v11.7M267.8 73.7v5.7M269.0 72.3v5.9M270.2 74.5v12.4M271.4 64.7v20.2M272.6 72.5v6.9M273.8 82.3v0.4M275.0 65.6v0.8M276.2 61.4v3.0M277.4 56.7v2.2M278.6 63.7v1.1M279.8 65.9v4.1M281.0 74.4v0.5M282.2 77.6v0.2M283.4 66.2v5.4M284.6 66.3v19.2M285.8 63.4v24.4M287.0 62.1v6.0M288.3 66.4v1.6M289.5 63.1v2.8M290.7 63.1v7.6M291.9 67.5v1.9M293.1 68.7v0.8M294.3 81.7v1.3M295.5 70.7v5.2M296.7 65.3v13.0M297.9 61.8v7.4M299.1 77.1v4.4M300.3 79.5v11.1M301.5 77.9v14.5M302.7 71.1v13.6M303.9 62.2v7.3M305.1 71.3v15.6M306.3 65.6v5.0M307.5 58.3v6.1M308.7 62.1v6.8M309.9 62.7v4.6M311.1 66.5v1.5M312.3 65.4v0.5M313.5 62.9v6.1M314.7 58.8v19.4M315.9 66.4v8.3M317.1 68.0v1.1M318.3 60.9v0.6M319.5 62.9v8.9M320.7 65.9v21.4M321.9 70.4v7.6M323.1 71.6v3.6M324.3 78.6v7.1M325.5 61.9v28.3M326.7 57.1v4.6M327.9 59.9v3.2M329.1 67.4v2.8M330.4 61.8v0.8M331.6 59.8v5.3M332.8 60.0v19.8M334.0 75.5v6.9M335.2 80.8v5.9M336.4 68.3v3.3M337.6 65.9v1.8M338.8 68.6v0.9M340.0 69.8v1.2M341.2 62.7v4.1M342.4 75.3v9.0M343.6 73.0v2.8M344.8 62.4v1.4M346.0 75.7v0.7M347.2 66.7v1.8M348.4 70.4v0.5M349.6 68.5v2.6M350.8 69.0v6.2M354.0 62.5v0.8M355.2 69.6v4.7M356.4 64.4v12.8M357.6 65.8v8.1M358.8 78.8v1.1M360.1 83.6v0.7M361.3 67.6v2.8M362.5 61.0v4.7M363.7 66.5v4.5M364.9 71.6v9.1M366.1 68.5v1.5M367.3 64.9v0.4M368.5 70.8v0.8M369.8 74.1v0.5M371.0 73.6v1.9M372.2 60.4v3.5M373.4 65.0v1.0M374.6 62.4v0.5M375.8 63.8v0.9M377.0 70.2v0.5M378.2 70.1v0.3M379.4 73.8v1.1M380.6 69.2v8.2M381.9 69.5v2.8M383.1 57.3v4.3M384.3 63.9v5.1M385.5 66.6v4.2M386.7 59.8v5.0M387.9 61.0v0.8M389.1 69.4v0.3M390.3 70.2v1.6M391.6 63.5v0.5M392.8 68.1v0.9M394.0 63.4v1.1M395.2 59.4v0.2M399.6 68.4v14.1M400.8 75.0v10.1M402.0 71.6v4.7M403.2 61.9v2.5M404.4 65.4v3.9M405.6 81.9v4.1M406.8 74.2v2.4M408.0 68.8v8.2M409.2 72.1v6.8M410.4 72.6v4.6M411.6 72.3v6.8M412.8 68.5v8.4M414.0 73.3v21.9M415.2 82.4v7.5M416.4 77.2v15.8M417.6 63.4v21.6M418.8 71.8v8.2M420.0 74.3v1.6M421.2 67.1v2.9M422.5 59.3v2.9M423.7 66.6v11.3M424.9 81.2v8.2M426.1 67.8v17.3M427.3 57.2v23.7M428.5 78.5v8.8M429.7 63.4v9.7M430.9 61.6v10.1M432.1 63.0v4.9M433.3 77.6v9.0M434.5 65.0v18.6M435.7 68.0v17.0M436.9 63.5v4.2M438.1 66.6v3.2M439.3 58.1v12.3M440.5 59.1v22.6M441.7 62.6v19.9M442.9 78.5v6.8M444.1 74.1v3.8M445.3 65.8v10.2M446.5 66.7v4.8M447.7 65.6v8.5M448.9 72.2v4.7M450.1 67.4v4.0M451.3 63.8v3.9M452.5 62.3v0.7M453.7 73.0v0.3M454.9 71.3v1.1M456.1 65.4v2.5M457.3 61.2v1.9M458.5 72.4v4.0M459.7 75.3v3.0M460.9 82.1v7.2M462.1 65.1v3.1M463.3 63.2v7.9M464.5 61.1v28.5M465.7 58.8v40.8M467.0 59.8v11.1M468.2 71.6v0.7M469.4 65.6v3.4M470.6 57.7v12.7M471.8 59.5v12.8M473.0 61.1v13.6M474.2 63.1v6.2M475.4 57.4v7.8M476.6 70.2v4.6M477.8 67.1v15.5M479.0 66.7v4.7M480.2 59.9v1.3M481.4 62.4v11.4M482.6 76.5v5.4M483.8 76.4v5.1M485.0 66.7v2.8M486.2 62.4v1.8M487.4 64.5v3.7M488.6 60.8v5.2M491.4 77.1v13.1M492.6 88.7v7.3M493.9 85.5v5.8M495.1 78.3v10.0M496.3 78.8v27.4M497.5 76.9v16.5M498.7 79.8v20.8M500.0 91.1v15.1M501.2 98.4v6.6M502.4 95.6v10.6M503.6 99.7v6.0M504.8 85.2v7.0M506.1 80.0v11.1M507.3 81.6v12.2M508.5 85.1v16.9M509.7 69.4v40.8M510.9 70.0v31.9M512.2 68.0v38.1M513.4 76.2v13.3M514.6 77.0v2.8M515.8 78.8v4.9M517.0 90.9v13.9M518.3 87.0v7.0M519.5 83.4v15.1M522.4 110.7v5.0M523.6 104.7v2.5M524.8 100.9v0.6M526.0 109.4v2.6M527.1 103.3v9.4M528.3 112.7v3.3M529.5 113.7v1.1M530.7 114.5v2.1M531.9 112.3v3.3M533.1 111.4v2.7M534.3 104.1v6.8M535.5 100.2v11.0M536.7 109.6v2.7M537.8 110.9v2.0M539.0 103.4v10.2M540.2 103.6v12.1M541.4 111.2v2.6M542.6 113.7v0.4M543.8 107.5v3.5M545.0 109.5v3.7M546.2 108.7v4.9M547.3 104.6v2.0M548.5 102.1v7.0M549.7 108.5v2.7M550.9 112.3v1.1M552.1 108.7v3.8M553.3 107.0v3.3M554.5 111.9v3.4M555.7 105.8v2.5M556.9 111.2v3.5M558.0 111.2v3.7M559.2 112.9v1.1M560.4 105.5v2.9M561.6 98.4v16.6M564.4 99.1v0.4M565.6 103.3v2.5M566.8 96.3v2.3M568.0 95.4v0.7M569.3 95.9v2.2M570.5 85.4v1.1M571.7 84.1v1.7M572.9 90.3v2.3M574.1 93.6v2.6M575.3 86.8v2.7M576.5 78.5v0.7M577.7 85.1v0.7M578.9 79.2v0.6M580.2 94.2v3.5M581.4 101.6v2.9M582.6 102.0v2.2M583.8 93.8v6.6M585.0 96.7v1.9M586.2 101.7v3.3M587.4 96.2v5.3M588.6 92.1v3.0M589.9 93.7v15.4M591.1 86.7v23.6M592.3 88.2v13.6M593.5 95.8v7.7M594.7 97.1v2.4M595.9 80.6v4.4M597.1 86.5v9.9M598.3 91.1v3.8M599.6 94.3v2.0M600.8 73.6v2.3M602.0 80.9v15.7M603.2 92.8v5.5M604.4 93.3v2.3M605.6 87.6v2.3M606.8 100.4v4.6M608.0 104.0v2.3M609.2 81.1v6.7M610.5 83.4v13.2M611.7 85.2v4.7M612.9 96.2v6.0M614.1 94.6v12.7M616.9 100.5v15.7M618.1 98.8v5.8M619.3 100.4v9.8M620.5 83.0v13.6M621.7 79.6v22.0M622.9 92.9v6.4M624.1 84.2v14.5M625.3 96.0v4.5M626.5 100.0v1.3M627.8 96.8v6.6M629.0 97.8v14.1M630.2 101.7v7.2M631.4 91.4v13.3M632.6 96.4v7.2M633.8 102.0v7.4M635.0 99.4v6.1M636.2 90.6v2.5M637.4 103.3v2.8M640.1 97.6v3.2M641.3 92.1v18.8M642.6 107.6v5.3M643.8 102.5v6.3M645.0 96.8v3.1M646.3 79.5v16.4M647.5 81.7v26.3M648.7 90.4v7.5M649.9 100.1v5.7M651.2 95.9v16.4M652.4 103.1v6.6M653.6 96.4v11.2M654.9 86.5v11.6M656.1 101.4v2.6M657.3 94.8v3.9M658.5 94.9v12.2M659.8 86.6v10.5M661.0 102.4v5.0M662.2 95.8v5.5M663.5 100.9v3.4M664.7 99.1v1.1M667.8 76.3v32.9M669.0 68.8v43.7M670.2 87.8v23.6M671.4 108.3v3.8M672.6 105.8v2.9M673.8 94.8v12.6M675.0 78.2v29.6M676.2 86.5v13.6M677.4 94.7v13.5M678.6 102.7v8.7M679.8 103.7v8.8M681.0 89.1v17.3M682.2 93.4v7.2M683.4 98.2v5.2M684.6 88.1v15.4M685.8 91.0v7.3M687.0 99.8v4.6M688.1 101.5v9.7M689.3 97.5v9.8M690.5 90.2v13.7M691.7 88.4v20.6M692.9 92.3v19.8M694.1 91.8v9.7M695.3 89.2v3.1M696.5 101.1v1.3M697.7 102.4v0.8M698.9 101.7v3.0M700.1 86.3v15.0M701.3 96.2v14.6M702.5 96.0v10.5M703.7 96.9v4.2M704.9 106.4v1.8M706.1 107.1v0.2M709.0 105.0v7.0M710.2 102.3v3.0M711.4 91.0v0.6M712.6 101.3v0.5M713.7 88.3v0.9M714.9 91.7v1.3M716.1 79.6v5.8M717.3 75.7v1.8M718.5 104.4v1.3M719.7 101.1v3.5M720.9 82.0v1.9M722.1 80.4v3.9M723.2 94.7v1.8M724.4 105.9v0.7M725.6 108.6v0.7M726.8 100.0v1.4M728.0 89.4v6.2M729.2 91.1v4.4M730.4 83.2v1.3M731.6 98.3v2.4M732.8 96.4v3.3M733.9 82.4v3.0M735.1 99.0v3.2M736.3 91.5v1.0M737.5 88.6v0.9M738.7 98.1v4.2M739.9 99.1v7.1M741.1 90.5v5.0M742.3 83.2v2.4M743.4 86.0v1.8M744.6 88.0v0.6M745.8 89.0v2.5M747.0 87.6v2.1M748.2 91.1v5.7M749.4 96.9v3.3M750.6 102.5v2.3M751.8 99.3v6.5M752.9 94.2v6.2M754.1 102.0v2.9M755.3 114.1v1.5M756.5 111.7v1.4M759.4 99.0v5.7M760.7 88.1v2.3M761.9 98.0v1.8M763.2 96.4v3.7M764.4 92.6v10.7M765.7 89.8v17.7M766.9 92.0v17.8M768.2 87.0v17.5" stroke="#32eb0a" stroke-width="1.35"/>
<path d="M36.4 54.6v0.2M37.6 54.3v0.8M38.9 53.5v0.4M40.1 54.2v0.7M43.8 52.9v0.2M45.0 54.7v1.2M46.2 54.1v0.6M47.5 54.5v1.5M48.7 57.3v1.0M49.9 53.2v1.0M51.1 56.4v1.2M52.4 58.8v0.3M53.6 55.6v0.3M56.0 54.3v0.5M57.3 58.7v1.7M58.5 54.7v0.3M88.3 56.2v0.3M89.5 52.7v1.6M90.7 54.3v0.3M91.9 55.0v0.2M93.1 53.4v0.2M94.3 54.5v0.5M95.5 53.7v1.9M96.8 57.3v0.4M98.0 54.8v0.2M105.2 55.8v0.4M106.4 53.3v1.8M107.6 55.4v1.4M108.8 54.3v0.4M110.0 56.2v0.5M111.2 53.6v0.6M112.4 52.9v2.4M113.6 56.4v0.5M116.1 54.2v0.2M117.3 54.3v1.5M118.5 54.2v0.6M120.9 58.1v0.3M122.1 55.6v0.5M132.0 51.9v0.5M133.1 51.4v0.6M134.3 51.3v0.2M140.1 51.7v0.3M150.6 54.2v0.2M151.8 55.9v0.2M154.2 54.3v0.3M155.4 52.9v0.2M156.6 52.6v0.4M157.7 53.4v0.5M158.9 53.2v0.3M160.1 53.2v0.5M162.5 55.9v0.3M163.7 53.0v1.3M164.9 52.8v1.2M166.1 52.7v0.6M168.5 55.0v0.2M174.5 54.1v0.5M175.6 55.3v0.2M176.8 54.0v0.2M178.0 53.4v1.3M179.2 52.8v0.5M180.4 52.4v0.3M181.6 52.6v0.4M182.8 51.9v1.7M186.1 70.2v1.2M187.3 70.8v0.3M188.5 76.5v0.5M189.7 82.6v2.5M190.9 80.2v7.3M192.1 74.2v1.4M193.3 71.2v1.1M194.6 74.4v0.2M195.8 72.6v0.2M197.0 70.2v0.7M198.2 70.2v1.3M199.4 85.0v2.3M200.6 84.7v2.8M201.8 76.4v3.9M203.0 81.7v1.3M204.2 85.6v2.5M205.4 70.4v1.0M206.6 72.4v1.7M207.8 75.9v7.1M209.0 71.4v2.9M210.3 64.7v0.9M211.5 71.4v0.7M212.7 75.9v0.3M213.9 84.0v0.4M215.1 60.3v0.8M216.3 68.1v0.4M217.5 76.0v1.2M218.7 72.6v1.3M219.9 62.5v4.3M221.1 67.0v1.7M222.3 66.2v1.9M223.5 65.7v0.3M224.8 68.9v0.5M226.0 74.3v4.0M227.2 75.5v4.1M228.4 70.0v2.1M229.6 69.2v1.8M230.8 79.6v0.5M232.0 94.3v0.4M233.2 91.0v1.3M234.4 72.9v0.7M235.6 68.8v1.0M236.8 71.3v3.5M238.0 90.6v1.1M239.2 80.7v0.3M240.4 69.7v0.6M241.7 77.2v3.6M242.9 78.8v1.0M244.1 90.4v0.2M245.3 71.4v0.7M250.1 67.0v0.8M251.3 74.1v2.3M252.5 79.5v2.3M253.7 76.1v0.7M254.9 82.1v0.8M256.2 67.3v4.4M257.4 70.2v5.1M258.6 70.5v1.8M259.8 80.6v1.5M261.0 66.4v5.5M262.2 65.5v10.4M263.4 68.1v4.4M266.6 81.2v0.5M269.0 78.2v0.2M270.2 86.9v0.7M271.4 84.8v1.0M272.6 79.5v1.9M273.8 82.7v1.4M275.0 66.4v3.3M276.2 64.3v3.1M277.4 58.9v0.9M279.8 70.0v0.2M281.0 74.9v0.5M282.2 77.8v0.3M283.4 71.6v0.6M287.0 68.1v0.5M288.3 68.0v0.2M289.5 65.9v0.8M290.7 70.7v2.8M291.9 69.3v0.7M294.3 83.0v0.5M295.5 76.0v3.5M296.7 78.2v11.1M297.9 69.2v17.5M299.1 81.5v3.2M301.5 92.4v0.9M302.7 84.7v3.2M303.9 69.5v1.1M305.1 86.9v2.6M306.3 70.7v0.5M307.5 64.4v0.3M309.9 67.4v0.2M312.3 65.9v0.4M313.5 68.9v4.0M314.7 78.2v3.3M315.9 74.8v0.6M317.1 69.1v0.4M318.3 61.5v1.6M319.5 71.8v0.9M320.7 87.3v2.4M321.9 77.9v2.1M323.1 75.2v0.7M324.3 85.7v1.2M325.5 90.2v0.6M327.9 63.1v0.2M329.1 70.2v0.2M330.4 62.6v0.4M331.6 65.1v0.3M332.8 79.7v0.5M336.4 71.6v0.5M337.6 67.7v1.9M338.8 69.5v1.5M340.0 71.0v0.5M341.2 66.8v1.1M342.4 84.3v5.8M343.6 75.8v1.4M344.8 63.8v0.7M346.0 76.4v0.2M347.2 68.4v0.7M348.4 70.9v4.8M349.6 71.1v10.3M350.8 75.2v1.1M399.6 82.5v0.9M400.8 85.1v0.5M402.0 76.3v1.0M403.2 64.4v0.2M405.6 86.0v0.9M406.8 76.6v5.4M408.0 77.0v2.5M409.2 78.9v2.2M410.4 77.2v4.9M411.6 79.1v1.2M412.8 76.8v3.0M414.0 95.3v2.5M415.2 90.0v7.2M416.4 93.0v1.7M417.6 85.1v1.8M418.8 80.0v4.4M420.0 75.8v7.1M421.2 70.0v1.1M422.5 62.2v0.3M423.7 77.9v1.0M424.9 89.4v0.8M426.1 85.1v4.0M427.3 80.9v1.9M428.5 87.3v3.6M429.7 73.1v11.5M430.9 71.6v3.8M432.1 67.9v0.5M433.3 86.6v0.8M434.5 83.6v5.2M435.7 85.0v3.7M436.9 67.8v0.5M438.1 69.8v0.2M439.3 70.4v1.5M440.5 81.7v8.1M441.7 82.6v3.4M442.9 85.3v1.7M444.1 78.0v3.1M445.3 76.1v9.9M446.5 71.5v1.3M447.7 74.2v0.7M448.9 76.9v0.2M450.1 71.5v0.3M451.3 67.7v2.1M452.5 63.0v10.1M453.7 73.3v2.4M454.9 72.4v0.3M456.1 67.9v0.3M457.3 63.0v0.7M458.5 76.4v1.6M459.7 78.3v0.9M460.9 89.3v0.6M462.1 68.2v0.2M463.3 71.1v0.6M465.7 99.5v0.6M467.0 71.0v4.7M468.2 72.3v1.9M469.4 69.0v3.4M470.6 70.4v1.3M471.8 72.3v1.0M473.0 74.7v1.8M474.2 69.3v4.6M475.4 65.2v10.9M476.6 74.8v2.4M477.8 82.6v1.3M479.0 71.4v3.8M480.2 61.2v5.8M481.4 73.8v1.6M483.8 81.5v0.8M485.0 69.5v3.2M486.2 64.2v0.7M487.4 68.2v1.6M488.6 66.0v0.3M491.4 90.2v12.8M492.6 96.0v10.3M493.9 91.3v8.6M495.1 88.3v17.1M496.3 106.3v6.5M497.5 93.4v1.5M498.7 100.5v2.1M500.0 106.2v3.1M501.2 105.0v1.9M502.4 106.2v1.6M503.6 105.8v1.9M504.8 92.2v0.9M506.1 91.1v1.2M507.3 93.8v3.5M508.5 102.0v10.3M509.7 110.2v3.1M510.9 101.8v1.7M512.2 106.1v1.4M513.4 89.5v3.9M514.6 79.9v4.4M515.8 83.7v11.3M517.0 104.8v5.7M518.3 94.0v11.3M519.5 98.5v8.6M564.4 99.5v2.8M565.6 105.8v1.7M566.8 98.6v1.3M568.0 96.1v0.7M571.7 85.7v0.6M572.9 92.6v0.5M574.1 96.2v2.4M575.3 89.4v5.9M576.5 79.2v3.6M577.7 85.7v2.3M578.9 79.8v1.9M580.2 97.7v2.2M581.4 104.5v3.2M582.6 104.2v4.0M583.8 100.4v2.2M585.0 98.6v0.5M586.2 105.0v0.9M587.4 101.6v1.8M588.6 95.1v1.1M589.9 109.1v1.4M591.1 110.3v2.3M592.3 101.8v1.3M593.5 103.4v3.1M594.7 99.5v3.1M595.9 85.1v0.5M597.1 96.4v0.7M598.3 94.9v0.7M599.6 96.3v0.6M600.8 75.9v0.6M602.0 96.6v1.1M603.2 98.3v1.3M604.4 95.6v1.9M605.6 89.9v4.0M606.8 105.0v3.1M608.0 106.2v2.6M609.2 87.8v0.6M610.5 96.6v0.2M611.7 89.9v0.9M612.9 102.1v2.6M614.1 107.3v1.4M640.1 100.8v1.4M641.3 110.9v2.6M642.6 112.9v0.4M643.8 108.8v0.5M645.0 99.9v0.7M646.3 95.9v0.2M647.5 107.9v0.2M648.7 97.9v0.9M649.9 105.8v0.5M651.2 112.2v2.0M652.4 109.7v5.4M653.6 107.6v1.6M654.9 98.1v0.2M656.1 104.0v0.4M658.5 107.1v0.2M659.8 97.1v1.6M661.0 107.5v2.1M662.2 101.4v0.9M663.5 104.3v2.9M664.7 100.1v7.4M667.8 109.2v3.6M669.0 112.6v1.3M670.2 111.4v0.3M671.4 112.0v0.6M672.6 108.7v3.4M673.8 107.4v3.9M675.0 107.7v3.5M676.2 100.1v14.3M677.4 108.2v6.2M678.6 111.4v5.8M679.8 112.5v1.8M681.0 106.4v2.4M682.2 100.7v7.5M683.4 103.4v5.6M684.6 103.4v11.7M685.8 98.3v16.8M687.0 104.4v10.3M688.1 111.2v1.9M689.3 107.3v0.3M690.5 103.9v2.2M691.7 109.0v5.6M692.9 112.1v2.4M694.1 101.5v5.2M695.3 92.3v11.0M696.5 102.4v7.5M697.7 103.2v4.9M698.9 104.7v9.2M700.1 101.3v5.5M701.3 110.8v0.9M702.5 106.5v6.0M703.7 101.1v15.0M704.9 108.2v6.1M706.1 107.3v9.7M759.4 104.6v1.0M760.7 90.4v7.7M761.9 99.8v1.7M763.2 100.0v0.6M764.4 103.2v2.0M765.7 107.5v3.0M766.9 109.9v0.7" stroke="#ccff00" stroke-width="1.35"/>
<path d="M36.4 54.8v1.3M37.6 55.2v2.6M38.9 53.9v0.7M40.1 54.9v0.2M41.3 54.2v1.1M42.5 54.2v0.8M43.8 53.1v1.8M45.0 56.0v0.8M46.2 54.6v1.5M47.5 56.0v1.8M48.7 58.3v0.8M49.9 54.3v1.6M51.1 57.6v1.9M52.4 59.1v3.6M53.6 55.9v0.7M56.0 54.8v0.6M57.3 60.4v1.7M58.5 55.1v4.2M64.1 51.2v0.2M69.0 51.9v0.2M70.2 51.4v0.7M71.5 51.4v0.2M77.6 51.6v0.2M85.0 51.4v0.6M88.3 56.5v0.6M89.5 54.3v3.3M90.7 54.6v1.0M91.9 55.1v0.4M93.1 53.6v0.9M94.3 54.9v1.1M95.5 55.5v0.4M96.8 57.7v1.2M98.0 55.0v0.7M99.2 55.8v0.8M100.4 52.3v0.9M101.6 52.3v0.9M102.8 52.2v0.3M104.0 54.7v0.3M105.2 56.2v0.2M106.4 55.1v0.5M107.6 56.8v1.6M108.8 54.7v0.5M110.0 56.7v1.1M111.2 54.2v5.9M112.4 55.3v2.4M113.6 56.9v2.1M114.9 52.9v1.1M116.1 54.5v0.4M117.3 55.8v0.3M118.5 54.8v1.2M119.7 53.0v1.0M120.9 58.4v1.0M122.1 56.2v0.8M136.6 51.3v0.2M139.0 51.5v0.2M140.1 51.9v0.3M149.4 54.5v1.1M150.6 54.3v0.2M151.8 56.0v0.3M158.9 53.5v0.2M160.1 53.6v0.6M161.3 53.7v2.0M162.5 56.2v0.4M164.9 54.1v0.7M166.1 53.3v0.2M169.7 54.5v0.2M170.9 55.4v1.0M172.1 53.9v0.6M173.3 53.0v0.7M174.5 54.6v1.7M175.6 55.5v6.0M176.8 54.3v1.6M178.0 54.7v0.2M179.2 53.4v0.5M491.4 103.0v15.0M492.6 106.4v11.2M493.9 99.9v17.8M495.1 105.4v12.6M496.3 112.7v5.6M497.5 94.8v23.3M498.7 102.6v14.7M500.0 109.3v8.6M501.2 106.9v11.0M502.4 107.8v10.2M503.6 107.7v9.9M504.8 93.1v24.5M506.1 92.3v22.1M507.3 97.3v20.1M508.5 112.2v5.5M509.7 113.3v4.7M510.9 103.6v14.5M512.2 107.5v10.9M513.4 93.4v25.0M514.6 84.3v33.9M515.8 94.9v22.8M517.0 110.5v7.7M518.3 105.3v12.9M519.5 107.1v10.7M522.4 115.8v2.6M523.6 107.2v11.2M524.8 101.5v16.9M526.0 112.1v6.3M527.1 112.7v5.7M528.3 116.0v2.4M529.5 114.8v3.6M530.7 116.6v1.8M531.9 115.6v2.8M533.1 114.1v4.3M534.3 110.9v7.5M535.5 111.2v7.2M536.7 112.4v6.0M537.8 112.9v5.5M539.0 113.7v4.7M540.2 115.7v2.7M541.4 113.9v4.5M542.6 114.1v4.3M543.8 111.0v7.4M545.0 113.2v5.2M546.2 113.6v4.8M547.3 106.6v11.8M548.5 109.2v9.2M549.7 111.2v7.2M550.9 113.4v5.0M552.1 112.5v5.9M553.3 110.3v8.1M554.5 115.3v3.1M555.7 108.3v10.1M556.9 114.7v3.7M558.0 114.9v3.5M559.2 114.0v4.4M560.4 108.4v10.0M561.6 115.0v3.4M564.4 102.3v16.1M565.6 107.5v10.9M566.8 99.9v18.5M568.0 96.8v21.6M569.3 98.2v20.2M570.5 86.6v31.8M571.7 86.4v32.0M572.9 93.1v25.3M574.1 98.6v19.8M575.3 95.3v23.1M576.5 82.7v35.7M577.7 88.0v30.4M578.9 81.7v36.7M580.2 99.9v18.5M581.4 107.7v10.7M582.6 108.2v10.2M583.8 102.6v15.8M585.0 99.2v19.2M586.2 106.0v12.4M587.4 103.4v15.0M588.6 96.2v22.2M589.9 110.5v7.9M591.1 112.7v5.7M592.3 103.1v15.3M593.5 106.5v11.9M594.7 102.7v15.7M595.9 85.6v32.8M597.1 97.0v21.4M598.3 95.6v22.8M599.6 97.0v21.4M600.8 76.5v41.9M602.0 97.7v20.7M603.2 99.6v18.8M604.4 97.5v20.9M605.6 93.8v24.6M606.8 108.1v10.3M608.0 108.8v9.6M609.2 88.3v30.1M610.5 96.8v21.6M611.7 90.8v27.6M612.9 104.7v13.7M614.1 108.7v9.7M616.9 116.2v2.2M618.1 104.5v13.9M619.3 110.2v8.2M620.5 96.6v21.8M621.7 101.6v16.8M622.9 99.3v19.1M624.1 98.8v19.6M625.3 100.5v17.9M626.5 101.2v17.2M627.8 103.5v14.9M629.0 112.0v6.4M630.2 108.9v9.5M631.4 104.6v13.8M632.6 103.6v14.8M633.8 109.4v9.0M635.0 105.5v12.9M636.2 93.1v25.3M637.4 106.1v12.3M640.1 102.2v16.2M641.3 113.5v4.9M642.6 113.4v5.0M643.8 109.3v9.1M645.0 100.5v17.9M646.3 96.0v22.4M647.5 108.1v10.3M648.7 98.8v19.6M649.9 106.3v12.1M651.2 114.2v4.2M652.4 115.1v3.3M653.6 109.2v9.2M654.9 98.3v20.1M656.1 104.5v13.9M657.3 98.8v19.6M658.5 107.4v11.0M659.8 98.7v19.7M661.0 109.5v8.9M662.2 102.3v16.1M663.5 107.2v11.2M664.7 107.5v10.9M667.8 112.8v5.6M669.0 113.9v4.5M670.2 111.8v6.6M671.4 112.6v5.8M672.6 112.2v6.2M673.8 111.2v7.2M675.0 111.2v7.2M676.2 114.4v4.0M677.4 114.3v4.1M678.6 117.2v1.2M679.8 114.2v4.2M681.0 108.8v9.6M682.2 108.2v10.2M683.4 109.0v9.4M684.6 115.2v3.2M685.8 115.1v3.3M687.0 114.7v3.7M688.1 113.1v5.3M689.3 107.6v10.8M690.5 106.1v12.3M691.7 114.6v3.8M692.9 114.5v3.9M694.1 106.7v11.7M695.3 103.3v15.1M696.5 110.0v8.4M697.7 108.1v10.3M698.9 113.9v4.5M700.1 106.9v11.5M701.3 111.7v6.7M702.5 112.5v5.9M703.7 116.2v2.2M704.9 114.3v4.1M706.1 117.0v1.4M709.0 111.9v6.5M710.2 105.3v13.1M711.4 91.6v26.8M712.6 101.8v16.6M713.7 89.1v29.3M714.9 93.0v25.4M716.1 85.4v33.0M717.3 77.5v40.9M718.5 105.6v12.8M719.7 104.6v13.8M720.9 83.9v34.5M722.1 84.3v34.1M723.2 96.6v21.8M724.4 106.5v11.9M725.6 109.2v9.2M726.8 101.4v17.0M728.0 95.6v22.8M729.2 95.6v22.8M730.4 84.5v33.9M731.6 100.8v17.6M732.8 99.7v18.7M733.9 85.4v33.0M735.1 102.2v16.2M736.3 92.5v25.9M737.5 89.5v28.9M738.7 102.3v16.1M739.9 106.2v12.2M741.1 95.5v22.9M742.3 85.6v32.8M743.4 87.9v30.5M744.6 88.7v29.7M745.8 91.5v26.9M747.0 89.6v28.8M748.2 96.7v21.7M749.4 100.2v18.2M750.6 104.8v13.6M751.8 105.7v12.7M752.9 100.3v18.1M754.1 104.9v13.5M755.3 115.5v2.9M756.5 113.1v5.3M759.4 105.6v12.8M760.7 98.0v20.4M761.9 101.5v16.9M763.2 100.7v17.7M764.4 105.3v13.1M765.7 110.5v7.9M766.9 110.6v7.8M768.2 104.5v13.9" stroke="#41affa" stroke-width="1.35"/>
<path d="M186.1 107.0v11.4M187.3 110.6v7.8M188.5 109.3v9.1M189.7 110.9v7.5M190.9 115.6v2.8M192.1 114.9v3.5M193.3 110.4v8.0M194.6 114.2v4.2M195.8 111.9v6.5M197.0 108.1v10.3M198.2 112.0v6.4M199.4 115.8v2.6M200.6 114.5v3.9M201.8 114.8v3.6M203.0 116.7v1.7M204.2 116.9v1.5M205.4 115.1v3.3M206.6 110.6v7.8M207.8 112.8v5.6M209.0 114.4v4.0M210.3 114.9v3.5M211.5 114.1v4.3M212.7 114.8v3.6M213.9 114.9v3.5M215.1 115.8v2.6M216.3 114.9v3.5M217.5 110.8v7.6M218.7 115.4v3.0M219.9 113.6v4.8M221.1 105.6v12.8M222.3 112.8v5.6M223.5 112.3v6.1M224.8 109.7v8.7M226.0 114.1v4.3M227.2 116.5v1.9M228.4 113.7v4.7M229.6 114.9v3.5M230.8 111.0v7.4M232.0 115.8v2.6M233.2 115.5v2.9M234.4 112.0v6.4M235.6 109.9v8.5M236.8 114.0v4.4M238.0 115.8v2.6M239.2 114.0v4.4M240.4 113.4v5.0M241.7 107.1v11.3M242.9 111.0v7.4M244.1 113.2v5.2M245.3 113.0v5.4M246.5 114.8v3.6M247.7 115.6v2.8M248.9 115.6v2.8M250.1 112.0v6.4M251.3 113.4v5.0M252.5 116.4v2.0M253.7 115.3v3.1M254.9 113.8v4.6M256.2 117.0v1.4M257.4 117.4v1.0M258.6 117.9v0.5M259.8 117.0v1.4M261.0 114.7v3.7M262.2 111.8v6.6M263.4 117.1v1.3M266.6 117.9v0.5M267.8 116.9v1.5M269.0 117.3v1.1M270.2 118.0v0.4M271.4 118.0v0.4M272.6 117.5v0.9M273.8 118.1v0.3M275.0 117.9v0.5M276.2 117.3v1.1M277.4 117.5v0.9M278.6 117.1v1.3M279.8 115.8v2.6M281.0 117.8v0.6M282.2 117.5v0.9M283.4 117.7v0.7M284.6 118.1v0.3M285.8 117.6v0.8M287.0 117.7v0.7M288.3 115.8v2.6M289.5 116.8v1.6M290.7 118.1v0.3M291.9 117.7v0.7M293.1 117.8v0.6M294.3 116.9v1.5M295.5 117.4v1.0M296.7 117.4v1.0M297.9 116.8v1.6M299.1 114.8v3.6M300.3 117.6v0.8M301.5 117.9v0.5M302.7 118.0v0.4M303.9 118.2v0.2M305.1 118.1v0.3M306.3 117.6v0.8M307.5 117.5v0.9M308.7 118.0v0.4M309.9 117.8v0.6M311.1 118.2v0.2M312.3 118.2v0.2M313.5 117.9v0.5M315.9 118.2v0.2M317.1 118.2v0.2M318.3 118.1v0.3M319.5 118.2v0.2M320.7 117.5v0.9M321.9 116.8v1.6M323.1 117.3v1.1M324.3 117.5v0.9M325.5 117.8v0.6M326.7 117.8v0.6M327.9 117.8v0.6M329.1 117.9v0.5M330.4 116.5v1.9M331.6 117.7v0.7M332.8 117.3v1.1M334.0 117.6v0.8M335.2 118.0v0.4M336.4 117.9v0.5M337.6 118.0v0.4M338.8 117.7v0.7M340.0 117.6v0.8M341.2 118.1v0.3M342.4 117.8v0.6M343.6 117.0v1.4M344.8 117.1v1.3M346.0 117.0v1.4M347.2 117.3v1.1M348.4 117.9v0.5M349.6 117.9v0.5M350.8 117.4v1.0M354.0 101.3v17.1M355.2 107.1v11.3M356.4 110.9v7.5M357.6 110.4v8.0M358.8 104.8v13.6M360.1 110.0v8.4M361.3 109.0v9.4M362.5 104.0v14.4M363.7 110.6v7.8M364.9 112.1v6.3M366.1 109.3v9.1M367.3 105.2v13.2M368.5 112.2v6.2M369.8 105.1v13.3M371.0 107.2v11.2M372.2 104.6v13.8M373.4 100.6v17.8M374.6 86.8v31.6M375.8 98.2v20.2M377.0 105.3v13.1M378.2 103.8v14.6M379.4 110.4v8.0M380.6 104.0v14.4M381.9 88.9v29.5M383.1 97.4v21.0M384.3 99.4v19.0M385.5 101.4v17.0M386.7 107.0v11.4M387.9 108.1v10.3M389.1 109.8v8.6M390.3 99.5v18.9M391.6 85.2v33.2M392.8 102.0v16.4M394.0 99.7v18.7M395.2 103.3v15.1M396.4 101.3v17.1M399.6 116.2v2.2M400.8 114.8v3.6M402.0 116.2v2.2M403.2 116.3v2.1M404.4 112.5v5.9M405.6 116.2v2.2M406.8 110.2v8.2M408.0 109.3v9.1M409.2 113.8v4.6M410.4 114.5v3.9M411.6 113.0v5.4M412.8 116.5v1.9M414.0 116.2v2.2M415.2 114.9v3.5M416.4 116.6v1.8M417.6 117.3v1.1M418.8 116.0v2.4M420.0 115.1v3.3M421.2 116.1v2.3M422.5 115.8v2.6M423.7 109.9v8.5M424.9 115.6v2.8M426.1 113.7v4.7M427.3 116.5v1.9M428.5 116.4v2.0M429.7 114.2v4.2M430.9 115.5v2.9M432.1 115.0v3.4M433.3 113.3v5.1M434.5 113.4v5.0M435.7 114.6v3.8M436.9 112.8v5.6M438.1 114.0v4.4M439.3 117.0v1.4M440.5 117.4v1.0M441.7 115.7v2.7M442.9 112.4v6.0M444.1 111.0v7.4M445.3 110.2v8.2M446.5 115.9v2.5M447.7 114.3v4.1M448.9 112.8v5.6M450.1 110.6v7.8M451.3 113.2v5.2M452.5 116.6v1.8M453.7 115.0v3.4M454.9 113.4v5.0M456.1 114.4v4.0M457.3 111.7v6.7M458.5 115.3v3.1M459.7 116.7v1.7M460.9 116.4v2.0M462.1 114.9v3.5M463.3 115.4v3.0M464.5 113.6v4.8M465.7 116.7v1.7M467.0 116.9v1.5M468.2 114.3v4.1M469.4 116.8v1.6M470.6 116.6v1.8M471.8 116.0v2.4M473.0 115.0v3.4M474.2 113.5v4.9M475.4 112.9v5.5M476.6 112.8v5.6M477.8 114.1v4.3M479.0 111.0v7.4M480.2 115.8v2.6M481.4 112.0v6.4M482.6 107.6v10.8M483.8 114.7v3.7M485.0 114.1v4.3M486.2 113.6v4.8M487.4 112.7v5.7M488.6 110.2v8.2M491.4 118.0v0.4M492.6 117.6v0.8M493.9 117.7v0.7M495.1 118.0v0.4M497.5 118.2v0.2M498.7 117.3v1.1M500.0 117.9v0.5M501.2 117.8v0.6M502.4 118.0v0.4M503.6 117.6v0.8M504.8 117.6v0.8M506.1 114.4v4.0M507.3 117.4v1.0M508.5 117.7v0.7M509.7 118.0v0.4M510.9 118.0v0.4M515.8 117.7v0.7M517.0 118.2v0.2M518.3 118.2v0.2M519.5 117.8v0.6" stroke="#ff8048" stroke-width="1.35"/>
</g>
<g filter="url(#bl2)"><rect x="33.0" y="47.5" width="738.4" height="3.6" fill="#000"/><rect x="33.0" y="118.4" width="738.4" height="2.6" fill="#000"/><rect x="33.0" y="47.5" width="2.8" height="73.5" fill="#000"/><rect x="768.8" y="47.5" width="2.6" height="73.5" fill="#000"/><rect x="59.1" y="47.5" width="1.9" height="73.5" fill="#000"/><rect x="85.6" y="47.5" width="2.1" height="73.5" fill="#000"/><rect x="122.7" y="47.5" width="1.7" height="73.5" fill="#000"/><rect x="140.7" y="47.5" width="1.8" height="73.5" fill="#000"/><rect x="146.8" y="47.5" width="2.0" height="73.5" fill="#000"/><rect x="183.4" y="47.5" width="2.1" height="73.5" fill="#000"/><rect x="264.0" y="47.5" width="2.0" height="73.5" fill="#000"/><rect x="351.4" y="47.5" width="2.0" height="73.5" fill="#000"/><rect x="397.0" y="47.5" width="2.0" height="73.5" fill="#000"/><rect x="489.2" y="47.5" width="1.6" height="73.5" fill="#000"/><rect x="520.1" y="47.5" width="1.7" height="73.5" fill="#000"/><rect x="562.2" y="47.5" width="1.6" height="73.5" fill="#000"/><rect x="614.7" y="47.5" width="1.6" height="73.5" fill="#000"/><rect x="638.0" y="47.5" width="1.5" height="73.5" fill="#000"/><rect x="665.3" y="47.5" width="1.9" height="73.5" fill="#000"/><rect x="706.7" y="47.5" width="1.7" height="73.5" fill="#000"/><rect x="757.1" y="47.5" width="1.7" height="73.5" fill="#000"/></g>
<g filter="url(#bl)">
<rect x="33.9" y="232.5" width="25.5" height="68.8" fill="#32eb0a"/>
<rect x="60.6" y="232.5" width="26.9" height="68.8" fill="#32eb0a"/>
<rect x="88.9" y="232.5" width="31.7" height="68.8" fill="#32eb0a"/>
<rect x="121.7" y="232.5" width="24.1" height="68.8" fill="#d2fc10"/>
<rect x="147.1" y="232.5" width="27.4" height="68.8" fill="#32eb0a"/>
<rect x="175.7" y="232.5" width="32.8" height="68.8" fill="#32eb0a"/>
<rect x="209.8" y="232.5" width="27.8" height="68.8" fill="#32eb0a"/>
<rect x="238.9" y="232.5" width="28.5" height="68.8" fill="#32eb0a"/>
<rect x="268.7" y="232.5" width="11.5" height="68.8" fill="#ccff00"/>
<rect x="281.5" y="232.5" width="12.1" height="68.8" fill="#ccff00"/>
<rect x="294.5" y="232.5" width="17.0" height="68.8" fill="#ccff00"/>
<rect x="312.7" y="232.5" width="10.1" height="68.8" fill="#ccff00"/>
<rect x="324.2" y="232.5" width="44.0" height="68.8" fill="#ccff00"/>
<rect x="369.3" y="232.5" width="22.0" height="68.8" fill="#ccff00"/>
<rect x="392.2" y="232.5" width="15.5" height="68.8" fill="#ccff00"/>
<rect x="408.7" y="232.5" width="33.2" height="68.8" fill="#ccff00"/>
<rect x="442.9" y="232.5" width="12.2" height="68.8" fill="#ccff00"/>
<rect x="455.9" y="232.5" width="15.6" height="68.8" fill="#ccff00"/>
<rect x="472.4" y="232.5" width="25.5" height="68.8" fill="#ccff00"/>
<rect x="498.6" y="232.5" width="13.7" height="68.8" fill="#ccff00"/>
<rect x="513.2" y="232.5" width="12.2" height="68.8" fill="#ccff00"/>
<rect x="526.3" y="232.5" width="13.0" height="68.8" fill="#ccff00"/>
<rect x="540.5" y="232.5" width="10.8" height="68.8" fill="#ccff00"/>
<rect x="552.4" y="232.5" width="12.3" height="68.8" fill="#ccff00"/>
<rect x="566.6" y="232.5" width="31.9" height="68.8" fill="#ccff00"/>
<rect x="599.1" y="232.5" width="12.7" height="68.8" fill="#ccff00"/>
<rect x="613.1" y="232.5" width="16.4" height="68.8" fill="#64f0d2"/>
<rect x="630.7" y="232.5" width="21.9" height="68.8" fill="#64f0d2"/>
<rect x="654.0" y="232.5" width="13.4" height="68.8" fill="#e67dfa"/>
<rect x="668.6" y="232.5" width="21.9" height="68.8" fill="#e67dfa"/>
<rect x="691.7" y="232.5" width="42.8" height="68.8" fill="#e67dfa"/>
<rect x="733.9" y="232.5" width="23.2" height="68.8" fill="#e67dfa"/>
<rect x="758.2" y="232.5" width="12.3" height="68.8" fill="#e67dfa"/>
<path d="M34.8 232.5v3.8M36.0 232.5v4.4M37.2 232.5v8.3M38.4 232.5v6.4M39.5 232.5v15.4M40.7 232.5v13.7M41.9 232.5v13.0M43.1 232.5v14.0M44.3 232.5v5.5M45.5 232.5v10.7M46.7 232.5v18.9M47.8 232.5v12.4M49.0 232.5v7.6M50.2 232.5v7.1M51.4 232.5v11.1M52.6 232.5v6.8M53.8 232.5v14.0M55.0 232.5v11.7M56.1 232.5v3.2M57.3 232.5v6.8M58.5 232.5v16.6M61.5 232.5v21.3M62.7 232.5v8.6M63.9 232.5v15.8M65.1 232.5v13.2M66.3 232.5v8.7M67.5 232.5v4.9M68.7 232.5v3.4M69.9 232.5v10.1M71.1 232.5v9.2M72.3 232.5v10.7M73.5 232.5v15.9M74.6 232.5v16.9M75.8 232.5v9.2M77.0 232.5v12.5M78.2 232.5v11.3M79.4 232.5v9.0M80.6 232.5v7.1M81.8 232.5v22.2M83.0 232.5v9.3M84.2 232.5v3.4M85.4 232.5v8.0M86.6 232.5v4.6M89.8 232.5v14.2M91.0 232.5v7.5M92.2 232.5v7.1M93.4 232.5v8.5M94.6 232.5v6.1M95.8 232.5v11.1M97.0 232.5v10.6M98.2 232.5v17.9M99.4 232.5v14.2M100.6 232.5v10.0M101.8 232.5v8.1M103.0 232.5v18.6M104.2 232.5v9.0M105.3 232.5v9.2M106.5 232.5v8.5M107.7 232.5v7.2M108.9 232.5v6.0M110.1 232.5v8.1M111.3 232.5v19.4M112.5 232.5v6.4M113.7 232.5v7.6M114.9 232.5v16.1M116.1 232.5v12.9M117.3 232.5v17.9M118.5 232.5v14.2M119.7 232.5v6.8M122.6 232.5v6.8M123.8 232.5v14.1M124.9 232.5v15.8M126.1 232.5v15.0M127.3 232.5v9.2M128.5 232.5v16.3M129.6 232.5v12.9M130.8 232.5v9.8M132.0 232.5v13.1M133.2 232.5v22.4M134.3 232.5v13.1M135.5 232.5v11.3M136.7 232.5v12.8M137.9 232.5v12.6M139.0 232.5v12.2M140.2 232.5v12.9M141.4 232.5v11.2M142.6 232.5v12.5M143.7 232.5v14.7M144.9 232.5v8.6M148.0 232.5v4.9M149.2 232.5v11.3M150.4 232.5v9.9M151.7 232.5v16.7M152.9 232.5v8.2M154.1 232.5v6.9M155.3 232.5v6.1M156.5 232.5v6.3M157.8 232.5v5.8M159.0 232.5v9.1M160.2 232.5v6.8M161.4 232.5v11.4M162.6 232.5v4.3M163.8 232.5v4.5M165.1 232.5v3.8M166.3 232.5v5.6M167.5 232.5v12.6M168.7 232.5v6.9M169.9 232.5v13.2M171.2 232.5v6.5M172.4 232.5v7.5M173.6 232.5v13.4M176.6 232.5v10.4M177.8 232.5v10.2M179.0 232.5v8.6M180.2 232.5v6.5M181.4 232.5v8.8M182.6 232.5v8.7M183.8 232.5v8.6M184.9 232.5v12.6M186.1 232.5v12.2M187.3 232.5v8.1M188.5 232.5v9.2M189.7 232.5v9.2M190.9 232.5v8.4M192.1 232.5v13.9M193.3 232.5v22.5M194.5 232.5v19.7M195.7 232.5v33.6M196.9 232.5v19.2M198.1 232.5v16.7M199.3 232.5v13.0M200.4 232.5v7.3M201.6 232.5v8.1M202.8 232.5v7.6M204.0 232.5v11.1M205.2 232.5v5.7M206.4 232.5v7.1M207.6 232.5v3.4M210.7 232.5v13.9M211.9 232.5v6.9M213.1 232.5v7.2M214.2 232.5v7.2M215.4 232.5v11.6M216.6 232.5v10.4M217.8 232.5v27.1M219.0 232.5v15.6M220.2 232.5v14.8M221.3 232.5v11.5M222.5 232.5v23.6M223.7 232.5v23.6M224.9 232.5v11.4M226.1 232.5v7.3M227.2 232.5v7.3M228.4 232.5v7.7M229.6 232.5v9.2M230.8 232.5v17.8M232.0 232.5v9.4M233.2 232.5v7.8M234.3 232.5v13.3M235.5 232.5v11.2M236.7 232.5v11.6M239.8 232.5v10.4M241.0 232.5v8.0M242.2 232.5v4.1M243.4 232.5v5.7M244.7 232.5v15.5M245.9 232.5v13.3M247.1 232.5v5.2M248.3 232.5v11.9M249.5 232.5v8.8M250.7 232.5v17.1M251.9 232.5v18.2M253.2 232.5v12.5M254.4 232.5v3.8M255.6 232.5v7.4M256.8 232.5v9.9M258.0 232.5v19.1M259.2 232.5v12.6M260.4 232.5v12.4M261.6 232.5v8.1M262.9 232.5v7.4M264.1 232.5v6.0M265.3 232.5v11.6M266.5 232.5v5.0M269.6 232.5v15.1M270.8 232.5v15.0M272.0 232.5v26.8M273.2 232.5v22.5M274.4 232.5v14.5M275.7 232.5v13.8M276.9 232.5v14.3M278.1 232.5v15.1M279.3 232.5v24.7M393.1 232.5v16.2M394.4 232.5v3.5M395.6 232.5v3.7M396.8 232.5v10.7M398.1 232.5v2.7M399.3 232.5v0.5M400.6 232.5v0.8M401.8 232.5v0.9M403.1 232.5v0.7M404.3 232.5v2.7M405.5 232.5v1.5M406.8 232.5v1.4M456.8 232.5v0.9M458.1 232.5v3.7M459.3 232.5v1.9M460.6 232.5v6.3M461.8 232.5v2.3M463.1 232.5v1.6M464.3 232.5v1.5M465.6 232.5v0.8M469.3 232.5v0.5M470.6 232.5v0.4M473.3 232.5v1.6M474.5 232.5v0.2M476.9 232.5v0.5M478.0 232.5v2.8M479.2 232.5v4.1M480.4 232.5v1.0M481.6 232.5v1.0M482.8 232.5v4.8M484.0 232.5v1.3M485.2 232.5v1.7M486.3 232.5v0.4M487.5 232.5v1.5M488.7 232.5v3.2M489.9 232.5v2.2M491.1 232.5v8.4M492.3 232.5v8.2M493.5 232.5v7.7M494.6 232.5v1.9M495.8 232.5v1.0M497.0 232.5v5.4M514.1 232.5v3.9M515.2 232.5v1.5M516.4 232.5v0.8M517.6 232.5v1.7M518.7 232.5v4.8M519.9 232.5v1.6M521.0 232.5v0.2M523.4 232.5v0.2M524.5 232.5v1.1M567.5 232.5v1.2M568.7 232.5v1.0M569.9 232.5v1.6M571.1 232.5v6.5M572.3 232.5v13.2M573.5 232.5v7.4M574.7 232.5v2.6M575.9 232.5v1.5M577.1 232.5v5.1M578.3 232.5v10.7M579.5 232.5v7.5M580.7 232.5v8.5M581.9 232.5v15.8M583.2 232.5v9.3M584.4 232.5v3.1M585.6 232.5v6.4M586.8 232.5v16.3M588.0 232.5v4.7M589.2 232.5v4.8M590.4 232.5v8.1M591.6 232.5v10.5M592.8 232.5v5.8M594.0 232.5v16.4M595.2 232.5v8.1M596.4 232.5v13.7M597.6 232.5v4.7M692.6 232.5v2.5M693.8 232.5v8.0M695.0 232.5v5.7M696.2 232.5v2.3M697.4 232.5v3.8M698.6 232.5v3.7M699.8 232.5v3.1M701.0 232.5v4.1M702.2 232.5v6.7M703.5 232.5v3.6M704.7 232.5v7.0M705.9 232.5v4.2M707.1 232.5v0.9M708.3 232.5v1.4M709.5 232.5v2.7M710.7 232.5v0.7M711.9 232.5v2.2M713.1 232.5v1.4M714.3 232.5v0.6M715.5 232.5v3.1M716.7 232.5v1.3M717.9 232.5v0.6M719.1 232.5v3.6M720.3 232.5v7.1M721.5 232.5v2.6M722.7 232.5v1.8M724.0 232.5v0.6M725.2 232.5v0.3M726.4 232.5v1.0M727.6 232.5v0.5M728.8 232.5v1.8M730.0 232.5v6.7M731.2 232.5v1.4M732.4 232.5v1.4M733.6 232.5v0.7" stroke="#5f00fa" stroke-width="1.35"/>
<path d="M34.8 236.3v0.4M36.0 236.9v1.4M37.2 240.8v1.0M38.4 238.9v1.4M39.5 247.9v3.7M40.7 246.2v1.8M41.9 245.5v0.8M43.1 246.5v1.1M44.3 238.0v1.2M45.5 243.2v0.4M46.7 251.4v1.8M47.8 244.9v5.7M49.0 240.1v1.3M50.2 239.6v0.5M51.4 243.6v2.0M52.6 239.3v0.8M53.8 246.5v2.9M55.0 244.2v8.9M56.1 235.7v1.4M57.3 239.3v1.1M58.5 249.1v7.5M61.5 253.8v1.1M62.7 241.1v6.0M63.9 248.3v6.9M65.1 245.7v1.2M66.3 241.2v3.5M67.5 237.4v3.3M68.7 235.9v0.3M72.3 243.2v0.5M73.5 248.4v0.2M77.0 245.0v0.7M78.2 243.8v2.5M79.4 241.5v2.5M80.6 239.6v1.0M81.8 254.7v1.6M83.0 241.8v2.6M84.2 235.9v5.8M85.4 240.5v2.3M86.6 237.1v0.3M89.8 246.7v1.2M91.0 240.0v0.3M93.4 241.0v0.9M94.6 238.6v3.5M95.8 243.6v1.3M97.0 243.1v2.0M98.2 250.4v0.5M99.4 246.7v0.5M100.6 242.5v0.5M104.2 241.5v0.4M105.3 241.7v0.4M106.5 241.0v0.3M107.7 239.7v1.0M108.9 238.5v0.2M110.1 240.6v0.5M111.3 251.9v0.5M112.5 238.9v1.7M113.7 240.1v0.4M114.9 248.6v0.7M116.1 245.4v3.3M117.3 250.4v4.3M118.5 246.7v1.9M124.9 248.3v0.2M126.1 247.5v1.2M127.3 241.7v0.8M128.5 248.8v0.2M129.6 245.4v0.5M130.8 242.3v0.5M132.0 245.6v0.9M133.2 254.9v0.2M134.3 245.6v0.2M135.5 243.8v0.7M136.7 245.3v0.8M137.9 245.1v0.5M139.0 244.7v0.2M140.2 245.4v1.3M141.4 243.7v5.1M142.6 245.0v1.2M143.7 247.2v0.8M144.9 241.1v0.6M148.0 237.4v15.6M149.2 243.8v7.7M150.4 242.4v3.3M151.7 249.2v1.6M152.9 240.7v0.4M154.1 239.4v0.4M155.3 238.6v2.5M156.5 238.8v5.8M157.8 238.3v2.2M159.0 241.6v4.6M160.2 239.3v1.5M161.4 243.9v2.1M162.6 236.8v7.1M163.8 237.0v3.5M165.1 236.3v1.1M166.3 238.1v0.5M167.5 245.1v1.5M168.7 239.4v0.4M172.4 240.0v0.5M173.6 245.9v1.3M176.6 242.9v1.2M177.8 242.7v0.3M179.0 241.1v0.6M180.2 239.0v4.0M181.4 241.3v3.6M182.6 241.2v2.2M183.8 241.1v2.0M184.9 245.1v0.3M186.1 244.7v0.2M187.3 240.6v0.7M188.5 241.7v0.2M189.7 241.7v0.4M190.9 240.9v1.1M192.1 246.4v0.2M193.3 255.0v0.7M194.5 252.2v2.4M195.7 266.1v0.9M196.9 251.7v1.1M198.1 249.2v0.5M199.3 245.5v1.8M200.4 239.8v8.9M201.6 240.6v2.3M202.8 240.1v5.0M204.0 243.6v5.9M205.2 238.2v20.0M206.4 239.6v8.3M207.6 235.9v9.8M210.7 246.4v1.1M211.9 239.4v0.4M213.1 239.7v0.2M214.2 239.7v1.3M215.4 244.1v13.4M216.6 242.9v4.9M217.8 259.6v3.5M219.0 248.1v4.6M220.2 247.3v5.6M221.3 244.0v1.4M222.5 256.1v1.6M223.7 256.1v1.0M224.9 243.9v1.3M226.1 239.8v1.8M227.2 239.8v5.4M228.4 240.2v3.9M229.6 241.7v0.9M230.8 250.3v0.6M232.0 241.9v1.8M233.2 240.3v1.2M234.3 245.8v4.7M235.5 243.7v2.7M236.7 244.1v0.5M239.8 242.9v3.3M241.0 240.5v3.7M242.2 236.6v0.7M243.4 238.2v1.3M244.7 248.0v0.9M245.9 245.8v3.1M247.1 237.7v0.7M248.3 244.4v1.0M249.5 241.3v0.2M253.2 245.0v0.5M254.4 236.3v0.3M255.6 239.9v0.8M256.8 242.4v3.4M258.0 251.6v1.2M259.2 245.1v1.1M260.4 244.9v0.5M262.9 239.9v0.4M264.1 238.5v0.2M265.3 244.1v1.2M266.5 237.5v1.5M269.6 247.6v3.4M270.8 247.5v6.0M272.0 259.3v1.1M275.7 246.3v2.3M276.9 246.8v11.3M278.1 247.6v3.8M279.3 257.2v0.6M393.1 248.7v0.5M394.4 236.0v0.5M395.6 236.2v0.6M396.8 243.2v1.4M398.1 235.2v0.2M399.3 233.0v0.3M400.6 233.3v0.5M403.1 233.2v0.6M404.3 235.2v3.0M405.5 234.0v8.3M406.8 233.9v1.6M692.6 235.0v8.3M693.8 240.5v2.3M695.0 238.2v0.2M696.2 234.8v1.1M697.4 236.3v4.9M698.6 236.2v1.4M699.8 235.6v1.1M701.0 236.6v1.4M702.2 239.2v0.6M703.5 236.1v0.8M704.7 239.5v3.4M705.9 236.7v0.8M707.1 233.4v1.0M708.3 233.9v3.2M709.5 235.2v2.0M710.7 233.2v1.2M711.9 234.7v0.2M714.3 233.1v1.3M715.5 235.6v7.1M716.7 233.8v1.9M717.9 233.1v0.5M719.1 236.1v0.7M720.3 239.6v2.7M721.5 235.1v0.7M722.7 234.3v0.5M724.0 233.1v0.6M725.2 232.8v0.2M727.6 233.0v0.6M728.8 234.3v2.3M730.0 239.2v0.6M731.2 233.9v0.3M732.4 233.9v2.3M733.6 233.2v12.3M734.8 232.5v2.3M736.0 232.5v0.6M737.2 232.5v0.4M738.4 232.5v1.5M739.6 232.5v3.7M740.7 232.5v1.5M741.9 232.5v0.3M746.7 232.5v0.2M747.9 232.5v0.7M753.8 232.5v0.8M755.0 232.5v0.2M756.2 232.5v0.2" stroke="#1c1498" stroke-width="1.35"/>
<path d="M567.5 233.7v0.6M571.1 239.0v1.8M572.3 245.7v7.8M573.5 239.9v1.5M574.7 235.1v0.4M575.9 234.0v0.8M577.1 237.6v3.5M578.3 243.2v1.0M579.5 240.0v3.2M580.7 241.0v6.0M581.9 248.3v1.5M583.2 241.8v6.9M584.4 235.6v5.2M585.6 238.9v6.1M586.8 248.8v2.2M588.0 237.2v3.6M589.2 237.3v1.4M592.8 238.3v0.6M594.0 248.9v4.2M595.2 240.6v11.4M596.4 246.2v8.5M597.6 237.2v2.6" stroke="#2a50f0" stroke-width="1.35"/>
<path d="M34.8 236.7v0.2M36.0 238.4v1.1M37.2 241.9v0.4M38.4 240.3v0.6M39.5 251.5v4.6M40.7 248.0v3.2M41.9 246.4v1.1M43.1 247.6v2.3M44.3 239.3v1.8M45.5 243.6v3.0M46.7 253.1v8.0M47.8 250.6v1.5M49.0 241.4v0.6M50.2 240.1v1.1M51.4 245.6v0.4M52.6 240.1v0.9M53.8 249.3v0.5M55.0 253.2v2.0M56.1 237.2v2.8M57.3 240.4v1.2M58.5 256.6v4.7M61.5 254.8v3.6M62.7 247.0v3.8M63.9 255.2v1.1M65.1 246.9v0.7M66.3 244.7v0.5M67.5 240.7v0.8M68.7 236.2v1.7M69.9 242.7v1.9M71.1 241.8v6.6M72.3 243.7v1.8M73.5 248.6v5.9M74.6 249.4v13.9M75.8 241.7v5.4M77.0 245.7v0.8M79.4 244.0v0.5M80.6 240.7v0.5M81.8 256.4v3.2M83.0 244.4v1.5M84.2 241.7v1.9M85.4 242.8v1.8M86.6 237.5v1.0M89.8 247.9v1.1M91.0 240.4v2.7M92.2 239.7v1.6M93.4 241.9v0.8M94.6 242.1v0.3M95.8 245.0v0.9M97.0 245.1v0.8M98.2 250.8v1.6M99.4 247.3v0.7M100.6 243.0v1.6M101.8 240.7v1.3M103.0 251.2v5.3M104.2 242.0v9.4M105.3 242.0v10.8M106.5 241.3v4.1M107.7 240.8v10.6M108.9 238.8v3.8M110.1 241.1v0.7M111.3 252.4v0.8M112.5 240.5v2.8M113.7 240.6v1.2M114.9 249.3v1.6M116.1 248.7v3.1M117.3 254.7v4.1M118.5 248.6v3.7M119.7 239.4v9.2M122.6 239.4v5.9M123.8 246.7v21.0M124.9 248.5v8.5M126.1 248.7v13.0M127.3 242.5v2.4M128.5 248.9v2.1M129.6 245.9v1.0M130.8 242.8v3.5M132.0 246.5v6.6M133.2 255.0v4.7M134.3 245.9v9.0M135.5 244.5v5.5M136.7 246.1v0.9M137.9 245.6v2.3M139.0 244.9v1.5M140.2 246.7v4.0M141.4 248.8v0.9M142.6 246.2v0.7M143.7 248.0v2.2M144.9 241.8v3.0M148.0 253.0v3.7M149.2 251.5v0.9M150.4 245.7v1.5M151.7 250.7v1.6M152.9 241.2v1.7M154.1 239.8v5.4M155.3 241.2v2.2M156.5 244.6v2.6M157.8 240.5v1.0M159.0 246.2v0.4M160.2 240.8v2.3M161.4 246.0v1.0M162.6 243.9v1.8M163.8 240.5v4.0M165.1 237.4v4.8M166.3 238.6v2.1M167.5 246.6v1.5M168.7 239.8v1.7M169.9 245.8v3.2M171.2 239.1v2.1M172.4 240.5v1.7M173.6 247.2v0.4M176.6 244.1v1.7M177.8 243.0v1.0M179.0 241.7v0.9M180.2 243.0v1.3M181.4 244.8v1.6M182.6 243.5v1.3M183.8 243.1v6.9M184.9 245.4v5.2M186.1 244.9v3.9M187.3 241.3v1.2M188.5 241.8v1.8M189.7 242.1v10.6M190.9 242.0v2.7M192.1 246.6v0.7M193.3 255.6v0.5M194.5 254.6v1.0M195.7 267.1v5.5M196.9 252.8v6.0M198.1 249.6v2.7M199.3 247.3v0.8M200.4 248.7v3.6M201.6 242.8v7.9M202.8 245.0v1.5M204.0 249.5v2.2M205.2 258.2v6.7M206.4 247.9v2.1M207.6 245.7v0.5M210.7 247.5v0.2M211.9 239.7v0.8M213.1 239.9v1.3M214.2 241.0v4.9M215.4 257.5v3.4M216.6 247.7v3.8M217.8 263.1v0.7M219.0 252.7v0.2M220.2 252.9v1.4M221.3 245.4v2.0M222.5 257.6v0.9M223.7 257.1v0.7M224.9 245.2v0.8M226.1 241.6v3.9M227.2 245.2v1.2M228.4 244.1v1.6M229.6 242.6v3.9M230.8 250.9v1.2M232.0 243.7v1.0M233.2 241.5v3.9M234.3 250.5v0.7M235.5 246.4v0.8M236.7 244.7v1.1M239.8 246.1v2.4M241.0 244.3v6.4M242.2 237.3v1.6M243.4 239.5v0.6M244.7 248.9v1.7M245.9 248.9v1.4M247.1 238.4v2.3M248.3 245.4v2.3M249.5 241.6v0.9M250.7 249.6v2.4M251.9 250.8v3.8M253.2 245.5v2.4M254.4 236.6v5.5M255.6 240.7v3.6M256.8 245.8v5.5M258.0 252.8v5.5M259.2 246.2v5.5M260.4 245.4v13.2M261.6 240.7v3.9M262.9 240.3v2.7M264.1 238.7v2.9M265.3 245.3v4.3M266.5 239.1v2.1M269.6 251.0v7.0M270.8 253.5v1.8M272.0 260.3v0.9M273.2 255.1v1.5M274.4 247.1v4.1M275.7 248.5v9.1M276.9 258.1v2.4M282.4 232.5v4.3M283.5 232.5v1.2M284.7 232.5v3.3M285.8 232.5v3.0M287.0 232.5v0.7M288.1 232.5v1.0M289.3 232.5v3.4M290.4 232.5v7.6M291.6 232.5v7.5M292.7 232.5v5.5M295.4 232.5v1.8M296.6 232.5v7.4M297.7 232.5v2.5M298.9 232.5v3.0M300.1 232.5v0.7M301.2 232.5v0.4M302.4 232.5v2.0M303.6 232.5v3.4M304.8 232.5v1.0M305.9 232.5v2.1M307.1 232.5v1.5M308.3 232.5v0.3M309.4 232.5v1.0M310.6 232.5v5.3M313.6 232.5v4.5M314.8 232.5v5.5M316.0 232.5v1.5M317.2 232.5v2.4M318.3 232.5v5.1M319.5 232.5v8.4M320.7 232.5v3.1M321.9 232.5v6.4M325.1 232.5v0.3M326.3 232.5v1.6M327.5 232.5v2.3M328.7 232.5v10.3M329.9 232.5v2.5M331.1 232.5v0.6M332.3 232.5v0.2M336.0 232.5v0.7M337.2 232.5v2.0M338.4 232.5v0.5M339.6 232.5v0.8M340.8 232.5v1.3M342.0 232.5v6.6M343.2 232.5v1.3M346.8 232.5v0.3M348.0 232.5v0.9M349.2 232.5v0.9M350.4 232.5v1.0M351.6 232.5v0.7M352.8 232.5v1.9M354.0 232.5v2.8M355.2 232.5v1.6M356.4 232.5v0.8M357.7 232.5v0.7M358.9 232.5v1.8M360.1 232.5v3.3M361.3 232.5v2.7M362.5 232.5v9.1M363.7 232.5v3.0M364.9 232.5v0.2M366.1 232.5v0.4M370.2 232.5v1.7M371.4 232.5v0.6M372.6 232.5v1.6M373.8 232.5v0.5M374.9 232.5v0.2M376.1 232.5v0.6M378.5 232.5v0.3M379.7 232.5v1.5M380.9 232.5v0.7M382.1 232.5v0.2M383.3 232.5v0.7M384.5 232.5v0.5M385.6 232.5v1.2M386.8 232.5v0.3M390.4 232.5v0.5M393.1 249.2v0.2M394.4 236.6v2.5M395.6 236.8v4.6M396.8 244.6v6.9M398.1 235.4v24.3M399.3 233.3v9.7M400.6 233.9v3.7M401.8 233.5v1.6M403.1 233.9v0.3M405.5 242.2v0.9M406.8 235.4v4.4M413.2 232.5v0.5M414.4 232.5v1.4M415.6 232.5v2.8M416.8 232.5v12.4M418.1 232.5v2.5M419.3 232.5v1.4M420.5 232.5v1.8M421.7 232.5v5.1M422.9 232.5v1.2M424.1 232.5v0.9M425.3 232.5v0.2M427.7 232.5v0.8M428.9 232.5v4.5M430.1 232.5v6.8M431.3 232.5v1.9M432.5 232.5v1.5M433.8 232.5v6.8M435.0 232.5v2.2M436.2 232.5v1.0M437.4 232.5v4.2M438.6 232.5v10.8M439.8 232.5v3.1M441.0 232.5v1.8M473.3 234.1v7.2M474.5 232.7v1.1M476.9 233.0v1.6M478.0 235.3v6.1M479.2 236.6v2.0M480.4 233.5v2.2M481.6 233.5v6.8M482.8 237.3v1.5M484.0 233.8v0.4M485.2 234.2v2.5M486.3 232.9v8.2M487.5 234.0v1.6M488.7 235.7v0.6M489.9 234.7v2.3M491.1 240.9v1.3M492.3 240.7v5.5M493.5 240.2v10.3M494.6 234.4v4.5M495.8 233.5v3.9M497.0 237.9v0.6M499.5 232.5v1.1M500.7 232.5v2.1M501.9 232.5v1.1M503.1 232.5v2.3M504.3 232.5v10.4M505.4 232.5v2.5M506.6 232.5v0.9M507.8 232.5v0.2M509.0 232.5v0.3M514.1 236.4v1.7M515.2 234.0v4.6M516.4 233.3v4.7M517.6 234.2v5.4M518.7 237.3v2.8M519.9 234.1v1.5M521.0 232.7v0.4M522.2 232.6v0.5M523.4 232.7v0.4M527.2 232.5v0.4M528.5 232.5v1.0M529.7 232.5v0.8M530.9 232.5v2.2M532.2 232.5v2.5M533.4 232.5v3.8M534.7 232.5v1.1M535.9 232.5v1.6M537.1 232.5v2.4M538.4 232.5v0.4M553.3 232.5v10.6M554.5 232.5v7.6M555.6 232.5v2.6M556.8 232.5v0.7M558.0 232.5v0.6M559.1 232.5v2.4M560.3 232.5v2.9M561.5 232.5v2.8M562.6 232.5v4.6M563.8 232.5v0.9M567.5 234.3v11.1M568.7 233.6v14.2M569.9 234.2v4.2M571.1 240.7v8.4M572.3 253.5v5.1M573.5 241.4v6.1M574.7 235.5v3.3M575.9 234.8v12.7M577.1 241.1v11.5M578.3 244.2v31.2M579.5 243.2v26.4M580.7 246.9v20.7M581.9 249.8v7.1M583.2 248.7v12.5M584.4 240.8v19.2M585.6 245.1v23.5M586.8 251.1v13.5M588.0 240.8v14.8M589.2 238.7v8.7M590.4 240.6v11.0M591.6 243.0v4.4M592.8 238.8v10.4M594.0 253.1v10.9M595.2 252.0v13.0M596.4 254.6v20.5M597.6 239.8v12.3M600.0 232.5v0.2M601.2 232.5v0.2M602.4 232.5v0.8M603.6 232.5v0.5M604.8 232.5v2.7M606.1 232.5v3.5M607.3 232.5v0.7M608.5 232.5v0.2" stroke="#e67dfa" stroke-width="1.35"/>
<path d="M34.8 236.9v0.6M36.0 239.5v0.6M38.4 240.9v0.3M39.5 256.1v1.2M40.7 251.2v5.4M41.9 247.5v1.4M43.1 249.9v2.3M44.3 241.1v5.6M45.5 246.6v5.4M46.7 261.1v1.2M47.8 252.1v0.4M49.0 242.0v0.3M50.2 241.2v2.3M51.4 245.9v5.3M52.6 241.1v2.2M53.8 249.8v0.8M55.0 255.2v2.1M56.1 239.9v0.8M57.3 241.6v2.5M58.5 261.3v1.1M61.5 258.5v0.4M62.7 250.8v2.1M63.9 256.3v1.9M65.1 247.7v0.2M67.5 241.5v1.0M68.7 237.9v2.5M69.9 244.6v3.1M71.1 248.4v0.9M72.3 245.5v1.0M73.5 254.5v1.1M74.6 263.3v0.8M75.8 247.1v2.8M77.0 246.5v1.3M78.2 246.4v0.9M79.4 244.5v0.3M80.6 241.2v0.2M81.8 259.5v1.7M83.0 245.8v2.9M84.2 243.6v2.2M85.4 244.6v0.7M86.6 238.4v1.5M89.8 249.1v1.3M91.0 243.0v0.3M92.2 241.3v1.2M93.4 242.6v2.8M94.6 242.4v1.1M95.8 245.9v3.6M97.0 245.9v1.4M98.2 252.4v4.1M99.4 247.9v2.3M100.6 244.6v5.1M101.8 242.0v12.3M103.0 256.6v3.7M104.2 251.4v1.2M105.3 252.9v1.0M106.5 245.4v4.1M107.7 251.4v8.9M108.9 242.5v10.3M110.1 241.8v4.0M111.3 253.2v2.6M112.5 243.3v12.1M113.7 241.8v6.2M114.9 250.9v1.4M116.1 251.9v1.0M117.3 258.7v0.7M118.5 252.4v4.9M119.7 248.6v1.1M122.6 245.3v1.4M123.8 267.7v1.1M124.9 257.0v7.0M126.1 261.6v2.0M127.3 244.9v2.9M128.5 251.1v1.9M129.6 246.9v7.8M130.8 246.3v1.9M132.0 253.1v1.2M133.2 259.7v0.6M134.3 254.9v2.7M135.5 250.0v0.6M136.7 247.0v0.4M137.9 247.9v3.7M139.0 246.5v2.2M140.2 250.7v1.7M141.4 249.7v1.9M142.6 246.9v9.3M143.7 250.2v10.6M144.9 244.8v2.1M148.0 256.7v0.2M149.2 252.4v1.9M150.4 247.2v3.6M151.7 252.3v0.6M152.9 242.8v0.2M154.1 245.3v3.1M155.3 243.4v4.1M156.5 247.2v0.8M157.8 241.5v0.2M159.0 246.6v0.2M160.2 243.2v0.4M161.4 247.0v2.2M162.6 245.7v2.0M163.8 244.6v1.0M165.1 242.2v2.5M166.3 240.7v2.7M167.5 248.1v1.0M168.7 241.5v2.4M169.9 249.0v4.2M171.2 241.2v0.6M173.6 247.6v0.9M176.6 245.8v2.1M177.8 244.1v9.0M179.0 242.6v6.8M180.2 244.4v3.0M181.4 246.5v2.1M182.6 244.8v2.1M183.8 250.0v4.7M184.9 250.6v7.9M186.1 248.8v1.8M187.3 242.5v1.8M188.5 243.7v0.4M190.9 244.8v0.5M192.1 247.3v1.7M193.3 256.1v2.6M194.5 255.6v7.3M195.7 272.5v2.0M196.9 258.7v0.3M198.1 252.3v1.7M199.3 248.1v4.4M200.4 252.4v3.7M201.6 250.7v2.7M202.8 246.6v3.2M204.0 251.8v3.2M205.2 264.9v0.8M206.4 250.0v1.0M207.6 246.2v0.3M210.7 247.7v7.0M211.9 240.6v3.7M213.1 241.2v3.0M214.2 245.9v7.2M215.4 260.9v6.5M216.6 251.5v1.9M217.8 263.8v0.7M219.0 252.8v2.0M220.2 254.3v1.3M221.3 247.4v1.2M222.5 258.5v0.6M223.7 257.8v2.0M224.9 246.0v0.7M226.1 245.5v0.3M227.2 246.5v0.5M228.4 245.7v1.1M229.6 246.5v0.5M230.8 252.2v1.2M232.0 244.7v3.2M233.2 245.4v5.5M234.3 251.2v2.0M235.5 247.2v4.5M236.7 245.8v4.2M239.8 248.5v2.3M241.0 250.7v0.9M242.2 239.0v0.3M243.4 240.0v1.5M244.7 250.7v5.0M245.9 250.3v2.1M247.1 240.7v3.3M248.3 247.6v10.7M249.5 242.4v3.1M250.7 252.0v2.4M251.9 254.6v5.8M253.2 247.9v8.2M254.4 242.1v10.6M255.6 244.3v5.0M256.8 251.4v3.6M258.0 258.3v0.6M259.2 251.7v1.5M260.4 258.6v9.0M261.6 244.6v23.4M262.9 243.0v4.5M264.1 241.6v1.8M265.3 249.6v1.1M266.5 241.1v0.8M269.6 258.0v23.5M270.8 255.3v5.9M272.0 261.3v4.9M273.2 256.5v10.4M274.4 251.2v2.4M275.7 257.6v1.4M276.9 260.5v3.2M278.1 251.5v11.7M279.3 257.8v2.9M282.4 236.8v1.2M283.5 233.7v3.9M284.7 235.8v3.2M285.8 235.5v3.7M287.0 233.2v8.5M288.1 233.5v2.7M289.3 235.9v2.5M290.4 240.1v3.5M291.6 240.0v5.9M292.7 238.0v13.0M297.7 235.0v0.4M298.9 235.5v1.8M300.1 233.2v5.4M301.2 232.9v1.3M302.4 234.5v0.7M303.6 235.9v2.0M304.8 233.5v2.2M305.9 234.6v2.6M307.1 234.0v0.7M309.4 233.5v0.4M310.6 237.8v2.3M313.6 237.0v5.1M314.8 238.0v4.4M316.0 234.0v0.9M317.2 234.9v0.9M318.3 237.6v4.6M319.5 240.9v3.5M320.7 235.6v2.7M321.9 238.9v9.5M325.1 232.8v1.2M326.3 234.1v2.4M327.5 234.8v6.5M328.7 242.8v1.6M329.9 235.0v0.8M331.1 233.1v0.9M332.3 232.7v1.7M333.5 232.6v0.7M334.7 232.6v2.3M336.0 233.2v2.6M337.2 234.5v1.4M338.4 233.0v4.8M339.6 233.3v3.2M340.8 233.8v0.6M342.0 239.1v0.5M343.2 233.8v0.2M344.4 232.6v1.0M345.6 232.6v2.8M346.8 232.8v0.6M349.2 233.4v0.2M350.4 233.5v0.8M351.6 233.2v1.0M352.8 234.4v3.1M354.0 235.3v0.7M355.2 234.1v0.2M356.4 233.3v0.6M357.7 233.2v2.6M358.9 234.3v5.7M360.1 235.8v2.0M361.3 235.2v1.3M362.5 241.6v5.4M363.7 235.5v3.9M364.9 232.7v3.3M366.1 232.9v4.2M367.3 232.6v0.7M370.2 234.2v0.8M371.4 233.1v2.6M372.6 234.1v0.8M373.8 233.0v2.5M374.9 232.7v9.9M376.1 233.1v2.6M377.3 232.6v4.6M378.5 232.8v8.5M379.7 234.0v4.3M380.9 233.2v0.8M382.1 232.7v0.5M385.6 233.7v0.8M386.8 232.8v3.4M388.0 232.5v2.1M389.2 232.6v1.9M390.4 233.0v3.1M393.1 249.4v2.7M394.4 239.1v3.1M395.6 241.4v1.3M396.8 251.5v4.3M398.1 259.7v4.9M399.3 243.0v2.7M400.6 237.6v0.8M401.8 235.1v3.8M403.1 234.1v2.5M404.3 238.2v6.5M405.5 243.2v3.5M406.8 239.8v6.0M409.6 232.5v1.2M410.8 232.6v4.2M412.0 232.6v1.3M413.2 233.0v1.9M414.4 233.9v3.1M415.6 235.3v0.9M416.8 244.9v2.3M418.1 235.0v4.6M419.3 233.9v15.6M420.5 234.3v3.7M421.7 237.6v0.2M422.9 233.7v2.3M424.1 233.4v8.7M425.3 232.7v2.0M426.5 232.5v1.1M427.7 233.3v0.3M428.9 237.0v0.5M430.1 239.3v0.7M431.3 234.4v0.3M432.5 234.0v1.9M433.8 239.3v1.5M435.0 234.7v2.4M436.2 233.5v2.1M437.4 236.7v2.0M438.6 243.3v1.8M439.8 235.6v0.4M443.8 232.5v9.0M444.9 232.5v1.4M446.1 232.5v1.2M447.3 232.5v6.1M448.4 232.5v1.5M449.6 232.5v2.1M450.7 232.5v3.5M451.9 232.5v1.1M453.1 232.5v2.0M454.2 232.5v0.5M456.8 233.4v1.7M458.1 236.2v5.8M459.3 234.4v2.5M460.6 238.8v1.8M461.8 234.8v1.2M463.1 234.1v0.8M464.3 234.0v6.5M465.6 233.3v19.0M466.8 232.6v3.8M468.1 232.6v0.2M469.3 233.0v0.4M473.3 241.3v0.3M474.5 233.9v1.4M475.7 232.7v1.3M476.9 234.6v2.6M478.0 241.4v10.6M479.2 238.5v6.8M480.4 235.7v3.8M481.6 240.3v3.1M482.8 238.9v0.6M484.0 234.2v0.3M485.2 236.7v4.0M486.3 241.0v11.5M487.5 235.6v6.3M488.7 236.4v2.4M489.9 237.0v2.7M491.1 242.1v1.0M492.3 246.2v3.0M493.5 250.5v1.3M494.6 238.8v1.7M495.8 237.4v1.0M497.0 238.5v1.5M499.5 233.6v0.9M500.7 234.6v1.5M501.9 233.6v3.6M503.1 234.8v0.7M505.4 235.0v0.7M506.6 233.4v0.8M509.0 232.8v0.6M510.2 232.6v1.9M511.4 232.6v1.5M527.2 232.9v23.5M528.5 233.5v6.9M529.7 233.3v8.7M530.9 234.7v7.5M532.2 235.0v2.1M533.4 236.3v4.8M534.7 233.6v2.1M535.9 234.1v4.6M537.1 234.9v4.5M538.4 232.9v1.1M541.4 232.5v3.3M542.5 232.5v3.1M543.6 232.5v0.7M544.8 232.5v1.2M545.9 232.5v5.3M547.0 232.5v19.8M548.2 232.5v6.4M549.3 232.5v0.7M550.4 232.5v0.2M553.3 243.1v2.0M554.5 240.1v1.2M555.6 235.1v5.3M556.8 233.2v4.0M558.0 233.1v7.7M559.1 234.9v3.7M560.3 235.4v5.9M561.5 235.3v1.6M562.6 237.1v3.0M563.8 233.4v7.6M568.7 247.8v1.2M569.9 238.5v5.2M571.1 249.1v1.4M572.3 258.6v0.5M573.5 247.5v1.5M574.7 238.8v2.7M575.9 247.5v1.1M577.1 252.6v2.5M578.3 275.4v0.8M579.5 269.7v3.1M580.7 267.7v3.6M581.9 256.9v8.8M583.2 261.2v5.2M584.4 260.0v3.7M585.6 268.6v1.1M586.8 264.6v0.2M590.4 251.6v0.2M591.6 247.5v0.7M592.8 249.2v0.5M594.0 264.0v1.2M595.2 265.1v1.1M596.4 275.1v2.9M597.6 252.1v0.9M601.2 232.7v1.0M602.4 233.3v2.7M603.6 233.0v0.7M604.8 235.2v0.6M606.1 236.0v0.8M607.3 233.2v2.2M608.5 232.7v7.8M609.7 232.6v2.3M610.9 232.6v0.2M669.5 301.1v0.2M673.0 301.1v0.2M676.6 300.8v0.5M677.8 301.1v0.2M679.0 300.3v1.0M680.1 299.1v2.2M681.3 300.8v0.5M683.7 301.1v0.2M693.8 296.1v0.8M695.0 292.6v0.8M696.2 296.2v2.4M697.4 299.1v1.5M698.6 295.5v0.5M699.8 288.5v0.2M701.0 297.1v1.1M702.2 300.1v0.3M703.5 300.3v0.2M704.7 298.4v1.6M705.9 293.4v3.6M707.1 288.0v2.2M708.3 296.8v1.8M709.5 297.2v0.7M710.7 297.2v0.2M711.9 295.7v0.4M713.1 289.8v0.2M714.3 292.4v0.3M715.5 291.3v0.8M716.7 289.6v0.4M721.5 290.4v0.7M722.7 292.0v3.0M724.0 295.8v1.5M725.2 293.0v3.4M726.4 287.9v5.0M727.6 295.9v2.1M728.8 298.3v0.3M734.8 292.3v8.6M736.0 296.2v2.3M737.2 297.4v0.2M740.7 300.7v0.5M741.9 300.6v0.6M743.1 298.4v2.6M744.3 294.5v6.7M745.5 299.4v1.8M746.7 298.6v0.9M747.9 295.3v0.2M750.3 300.3v0.2M751.4 297.2v2.0M752.6 293.0v7.7M753.8 298.7v2.4M755.0 301.0v0.3M756.2 300.9v0.4" stroke="#78e6ee" stroke-width="1.35"/>
<path d="M122.6 246.7v29.8M123.8 268.8v13.6M124.9 264.0v16.1M126.1 263.6v11.0M127.3 247.8v15.8M128.5 252.9v20.8M129.6 254.7v15.4M130.8 248.3v11.4M132.0 254.3v19.2M133.2 260.4v18.7M134.3 257.6v19.9M135.5 250.6v34.0M136.7 247.4v25.4M137.9 251.6v29.0M139.0 248.6v17.6M140.2 252.5v13.5M141.4 251.7v19.2M142.6 256.3v18.3M143.7 260.8v11.3M144.9 246.9v12.7M269.6 281.4v6.9M270.8 261.2v13.1M272.0 266.2v15.3M273.2 266.9v7.2M274.4 253.6v10.7M275.7 259.0v11.0M276.9 263.7v8.3M278.1 263.3v6.0M279.3 260.7v9.4M473.3 241.6v1.0M474.5 235.3v3.7M475.7 234.0v0.9M476.9 237.2v1.7M478.0 252.0v0.4M479.2 245.4v0.6M480.4 239.5v1.6M481.6 243.5v2.1M482.8 239.5v1.1M484.0 234.5v0.3M485.2 240.8v0.8M487.5 241.9v0.4M488.7 238.8v2.2M489.9 239.7v2.4M491.1 243.1v8.6M492.3 249.2v1.6M493.5 251.7v0.2M497.0 240.0v0.4M553.3 245.1v0.2M554.5 241.3v1.3M555.6 240.5v1.4M556.8 237.2v0.9M558.0 240.8v3.0M559.1 238.6v0.8M560.3 241.3v0.8M561.5 236.9v0.5M562.6 240.1v0.2M563.8 241.0v0.9M567.5 245.6v4.3M568.7 249.0v9.3M569.9 243.7v2.1M571.1 250.5v3.8M572.3 259.2v1.8M573.5 249.0v4.1M574.7 241.5v18.2M575.9 248.6v4.2M577.1 255.1v2.5M578.3 276.2v2.0M579.5 272.8v3.2M580.7 271.3v0.8M581.9 265.6v0.6M583.2 266.4v0.2M584.4 263.7v1.3M585.6 269.7v5.1M586.8 264.8v1.6M588.0 255.8v1.9M589.2 247.5v1.5M590.4 251.8v3.2M591.6 248.1v1.4M592.8 249.7v0.2M594.0 265.2v1.2M595.2 266.2v6.7M596.4 278.0v2.0M597.6 253.0v3.7M692.6 288.1v0.4M693.8 296.9v0.5M695.0 293.4v0.5M696.2 298.6v0.3M698.6 296.0v2.3M699.8 288.7v11.6M701.0 298.2v2.9M702.2 300.3v0.8M703.5 300.5v0.2M704.7 299.9v0.2M705.9 297.0v1.0M707.1 290.2v0.3M708.3 298.5v0.5M709.5 297.9v0.6M710.7 297.3v1.3M711.9 296.1v2.9M713.1 289.9v2.1M714.3 292.7v2.6M715.5 292.1v6.7M716.7 290.0v1.6M717.9 297.7v0.4M719.1 290.0v0.8M720.3 285.1v3.0M721.5 291.2v1.6M722.7 295.1v2.7M724.0 297.3v1.0M725.2 296.4v0.3M726.4 292.9v0.4M728.8 298.7v0.3M730.0 298.5v1.5M731.2 300.3v0.4" stroke="#32eb0a" stroke-width="1.35"/>
<path d="M614.0 300.9v0.4M615.2 299.2v2.1M616.4 300.2v1.1M617.7 301.0v0.3M618.9 298.7v2.6M620.1 291.4v9.9M621.3 298.5v2.8M622.5 296.5v4.8M623.7 282.7v18.6M624.9 296.4v4.9M626.2 295.4v5.9M627.4 297.9v3.4M628.6 299.6v1.7M631.6 300.9v0.4M632.8 299.9v1.4M634.0 300.4v0.9M635.1 301.0v0.3M636.3 300.2v1.1M637.5 299.2v2.1M638.7 299.3v2.0M639.9 301.0v0.3M641.1 301.0v0.3M642.2 299.4v1.9M643.4 299.5v1.8M644.6 298.4v2.9M645.8 300.3v1.0M647.0 298.1v3.2M648.2 298.1v3.2M649.3 298.3v3.0M650.5 298.9v2.4M651.7 300.6v0.7M654.9 299.3v0.6M656.0 299.0v1.7M657.2 293.9v5.9M658.4 287.8v7.6M659.5 290.0v7.2M660.7 298.4v2.2M661.9 299.4v1.8M663.0 300.6v0.5M664.2 300.1v1.2M665.4 299.4v1.2M666.5 296.6v0.2M692.6 288.5v12.8M693.8 297.5v3.6M695.0 294.0v7.0M696.2 298.9v2.1M697.4 300.7v0.6M698.6 298.2v3.0M699.8 300.3v1.0M703.5 300.7v0.4M704.7 300.2v0.2M705.9 298.0v0.8M708.3 299.1v0.2M709.5 298.5v1.7M710.7 298.6v0.3M711.9 299.0v1.8M713.1 292.0v9.3M714.3 295.3v6.0M715.5 298.8v2.5M716.7 291.6v9.7M717.9 298.1v2.9M719.1 290.8v8.0M720.3 288.1v7.3M721.5 292.8v1.6M722.7 297.8v1.9M724.0 298.3v1.8M725.2 296.6v2.6M726.4 293.3v5.8M727.6 298.1v2.3M728.8 298.9v2.1M730.0 300.1v0.5M731.2 300.7v0.4M733.6 299.3v0.2" stroke="#ccff00" stroke-width="1.35"/>
<path d="M34.8 261.8v3.0M36.0 267.9v1.3M37.2 259.9v2.9M38.4 278.8v1.0M39.5 287.0v2.2M40.7 290.1v4.0M41.9 295.6v1.8M43.1 289.4v2.6M44.3 288.8v0.7M45.5 279.0v1.0M46.7 291.2v0.4M47.8 295.8v0.9M49.0 290.6v3.2M50.2 286.2v4.0M51.4 271.8v10.7M52.6 277.1v4.8M53.8 283.2v1.9M55.0 284.4v2.2M56.1 259.5v1.2M57.3 281.4v3.0M58.5 282.4v4.5M61.5 296.4v1.3M62.7 286.9v1.3M63.9 291.5v0.5M65.1 287.3v1.2M66.3 273.9v5.0M67.5 285.9v1.8M68.7 279.8v2.0M69.9 283.2v2.0M71.1 294.4v0.3M72.3 297.3v0.4M73.5 292.2v2.7M74.6 290.6v4.9M75.8 295.0v1.2M77.0 290.2v2.0M78.2 276.4v0.8M79.4 293.7v0.5M80.6 283.1v0.5M81.8 283.2v1.1M83.0 285.3v2.4M84.2 276.3v1.4M85.4 284.4v1.5M86.6 274.4v0.6M89.8 288.3v9.7M91.0 288.0v2.9M92.2 293.7v2.9M93.4 285.8v9.9M94.6 294.2v4.9M95.8 287.8v9.7M97.0 277.8v9.5M98.2 294.9v1.8M99.4 294.3v3.2M100.6 282.0v12.9M101.8 281.6v17.7M103.0 291.4v7.5M104.2 290.7v6.2M105.3 292.4v3.5M106.5 286.4v6.1M107.7 289.8v8.5M108.9 271.6v24.1M110.1 281.0v17.5M111.3 288.9v10.0M112.5 289.0v10.1M113.7 295.6v2.3M114.9 298.1v2.0M116.1 297.1v3.4M117.3 295.4v5.1M118.5 293.5v7.0M119.7 270.8v29.8M148.0 295.3v4.1M149.2 298.5v2.4M150.4 297.0v3.8M151.7 298.5v0.8M152.9 296.3v1.7M154.1 289.0v9.5M155.3 293.5v3.5M156.5 292.4v7.7M157.8 293.8v7.0M159.0 297.8v2.0M160.2 296.8v1.3M161.4 292.8v6.0M162.6 296.6v3.8M163.8 297.8v2.5M165.1 290.1v10.7M166.3 289.0v11.6M167.5 296.4v4.5M168.7 299.6v1.1M169.9 296.6v2.4M171.2 298.3v2.2M172.4 295.1v3.7M173.6 293.1v7.4M176.6 286.5v0.8M177.8 290.1v4.8M179.0 277.0v16.2M180.2 280.0v7.9M181.4 287.7v4.3M182.6 278.6v10.5M183.8 280.0v4.2M184.9 278.5v4.1M186.1 282.2v1.6M187.3 271.1v6.7M188.5 272.4v8.9M189.7 279.6v13.3M190.9 282.9v6.6M192.1 285.5v3.4M193.3 289.0v6.1M194.5 282.6v6.7M195.7 288.3v2.7M196.9 272.1v4.4M198.1 270.6v12.4M199.3 265.5v32.1M200.4 275.2v23.5M201.6 286.6v4.5M202.8 276.0v5.0M204.0 274.6v7.0M205.2 285.3v7.8M206.4 283.4v3.4M207.6 285.4v9.4M210.7 290.7v9.7M211.9 297.7v3.1M213.1 293.4v5.9M214.2 280.4v15.7M215.4 290.1v8.2M216.6 293.8v5.6M217.8 290.6v8.2M219.0 291.1v3.1M220.2 292.8v2.7M221.3 292.3v7.6M222.5 294.1v5.6M223.7 290.6v9.9M224.9 292.5v7.3M226.1 291.7v8.3M227.2 283.5v8.6M228.4 282.7v11.4M229.6 297.6v2.3M230.8 298.6v1.8M232.0 288.9v9.5M233.2 274.5v21.1M234.3 291.6v5.2M235.5 294.5v5.0M236.7 286.3v12.2M239.8 284.8v14.7M241.0 294.8v4.4M242.2 291.9v6.7M243.4 283.1v11.0M244.7 297.2v2.5M245.9 297.6v1.5M247.1 292.9v4.6M248.3 293.4v2.9M249.5 283.8v4.4M250.7 290.6v5.2M251.9 290.3v5.5M253.2 283.9v13.2M254.4 290.6v4.6M255.6 294.6v1.6M256.8 288.3v1.2M258.0 288.0v9.6M259.2 270.5v29.2M260.4 290.3v10.1M261.6 293.4v3.6M262.9 286.2v3.3M264.1 285.0v4.7M265.3 288.1v3.8M266.5 279.3v10.8" stroke="#d2fc10" stroke-width="1.35"/>
<path d="M34.8 264.8v36.0M36.0 269.2v31.7M37.2 262.8v37.2M38.4 279.8v20.9M39.5 289.1v10.3M40.7 294.1v6.7M41.9 297.3v3.3M43.1 292.0v8.2M44.3 289.5v9.8M45.5 280.0v19.5M46.7 291.6v4.0M47.8 296.7v3.3M49.0 293.8v6.7M50.2 290.3v8.1M51.4 282.5v17.5M52.6 281.8v18.6M53.8 285.0v15.7M55.0 286.5v12.2M56.1 260.7v40.2M57.3 284.4v16.4M58.5 286.9v10.9M61.5 297.7v3.4M62.7 288.2v12.0M63.9 292.1v8.9M65.1 288.5v12.5M66.3 278.9v20.1M67.5 287.7v13.0M68.7 281.8v19.4M69.9 285.2v15.5M71.1 294.7v5.9M72.3 297.7v2.7M73.5 294.9v5.2M74.6 295.6v4.4M75.8 296.2v4.1M77.0 292.2v7.9M78.2 277.2v20.9M79.4 294.2v6.1M80.6 283.7v17.4M81.8 284.3v16.1M83.0 287.6v13.5M84.2 277.6v23.6M85.4 285.9v15.0M86.6 275.0v26.0M89.8 298.0v3.3M91.0 290.9v10.4M92.2 296.6v4.7M93.4 295.8v5.5M94.6 299.1v2.2M95.8 297.5v3.8M97.0 287.3v14.0M98.2 296.7v4.6M99.4 297.5v3.8M100.6 294.8v6.5M101.8 299.3v2.0M103.0 298.8v2.5M104.2 297.0v4.3M105.3 295.9v5.4M106.5 292.5v8.8M107.7 298.3v3.0M108.9 295.7v5.6M110.1 298.4v2.9M111.3 298.9v2.4M112.5 299.2v2.1M113.7 297.9v3.4M114.9 300.1v1.2M116.1 300.4v0.9M117.3 300.5v0.8M118.5 300.5v0.8M119.7 300.6v0.7M122.6 301.1v0.2M123.8 300.8v0.5M124.9 300.2v1.1M126.1 300.8v0.5M127.3 301.0v0.3M129.6 300.8v0.5M130.8 298.8v2.5M132.0 298.8v2.5M133.2 296.8v4.5M134.3 299.9v1.4M135.5 299.9v1.4M136.7 301.0v0.3M137.9 301.1v0.2M139.0 300.9v0.4M140.2 300.8v0.5M142.6 300.6v0.7M143.7 299.4v1.9M144.9 300.7v0.6M148.0 299.5v1.8M149.2 300.9v0.4M150.4 300.8v0.5M151.7 299.3v2.0M152.9 298.0v3.3M154.1 298.5v2.8M155.3 297.0v4.3M156.5 300.1v1.2M157.8 300.8v0.5M159.0 299.9v1.4M160.2 298.0v3.3M161.4 298.8v2.5M162.6 300.5v0.8M163.8 300.3v1.0M165.1 300.9v0.4M166.3 300.6v0.7M167.5 300.9v0.4M168.7 300.7v0.6M169.9 299.0v2.3M171.2 300.6v0.7M172.4 298.7v2.6M173.6 300.5v0.8M176.6 287.2v13.3M177.8 295.0v3.3M179.0 293.2v7.4M180.2 287.9v9.3M181.4 292.0v5.6M182.6 289.1v10.8M183.8 284.2v15.6M184.9 282.7v18.4M186.1 283.8v17.5M187.3 277.8v23.2M188.5 281.3v18.5M189.7 292.9v7.8M190.9 289.4v11.3M192.1 288.9v11.1M193.3 295.1v5.1M194.5 289.3v11.7M195.7 290.9v8.7M196.9 276.5v21.1M198.1 283.0v17.0M199.3 297.6v3.4M200.4 298.7v1.9M201.6 291.1v7.5M202.8 281.0v17.7M204.0 281.5v17.9M205.2 293.1v5.1M206.4 286.8v3.6M207.6 294.9v3.5M210.7 300.4v0.9M211.9 300.7v0.6M213.1 299.4v1.9M214.2 296.2v5.1M215.4 298.3v3.0M216.6 299.4v1.9M217.8 298.9v2.4M219.0 294.2v7.1M220.2 295.5v5.8M221.3 299.9v1.4M222.5 299.7v1.6M223.7 300.5v0.8M224.9 299.9v1.4M226.1 299.9v1.4M227.2 292.1v9.2M228.4 294.2v7.1M229.6 299.9v1.4M230.8 300.5v0.8M232.0 298.3v3.0M233.2 295.6v5.7M234.3 296.9v4.4M235.5 299.5v1.8M236.7 298.5v2.8M239.8 299.5v1.2M241.0 299.2v1.8M242.2 298.5v2.0M243.4 294.2v5.9M244.7 299.7v1.3M245.9 299.2v1.8M247.1 297.5v3.7M248.3 296.3v3.9M249.5 288.2v8.4M250.7 295.8v4.0M251.9 295.7v3.5M253.2 297.1v2.3M254.4 295.2v4.5M255.6 296.2v4.0M256.8 289.6v11.0M258.0 297.6v2.6M259.2 299.7v1.5M260.4 300.4v0.7M261.6 297.0v3.0M262.9 289.5v10.3M264.1 289.7v10.5M265.3 291.9v8.6M266.5 290.1v11.0" stroke="#41affa" stroke-width="1.35"/>
<path d="M34.8 300.8v0.5M36.0 300.9v0.4M37.2 300.1v1.2M38.4 300.8v0.5M39.5 299.5v1.8M40.7 300.8v0.5M41.9 300.6v0.7M43.1 300.2v1.1M44.3 299.2v2.1M45.5 299.5v1.8M46.7 295.5v5.8M47.8 300.1v1.2M49.0 300.5v0.8M50.2 298.3v3.0M51.4 300.1v1.2M52.6 300.4v0.9M53.8 300.7v0.6M55.0 298.7v2.6M56.1 300.8v0.5M57.3 300.8v0.5M58.5 297.8v3.5M61.5 301.1v0.2M62.7 300.2v1.1M63.9 301.0v0.3M65.1 301.0v0.3M66.3 299.0v2.3M67.5 300.6v0.7M69.9 300.6v0.7M71.1 300.6v0.7M72.3 300.4v0.9M73.5 300.1v1.2M74.6 300.0v1.3M75.8 300.3v1.0M77.0 300.1v1.2M78.2 298.1v3.2M79.4 300.2v1.1M80.6 301.0v0.3M81.8 300.4v0.9M83.0 301.1v0.2M85.4 300.9v0.4M86.6 301.1v0.2M176.6 300.5v0.8M177.8 298.3v3.0M179.0 300.6v0.7M180.2 297.2v4.1M181.4 297.6v3.7M182.6 299.9v1.4M183.8 299.9v1.4M184.9 301.1v0.2M187.3 301.0v0.3M188.5 299.8v1.5M189.7 300.7v0.6M190.9 300.8v0.5M192.1 300.0v1.3M193.3 300.3v1.0M194.5 301.0v0.3M195.7 299.6v1.7M196.9 297.6v3.7M198.1 300.0v1.3M199.3 300.9v0.4M200.4 300.6v0.7M201.6 298.6v2.7M202.8 298.7v2.6M204.0 299.5v1.8M205.2 298.2v3.1M206.4 290.4v10.9M207.6 298.4v2.9M239.8 300.7v0.6M241.0 300.9v0.4M242.2 300.6v0.7M243.4 300.1v1.2M244.7 301.0v0.3M245.9 300.9v0.4M248.3 300.3v1.0M249.5 296.5v4.8M250.7 299.8v1.5M251.9 299.2v2.1M253.2 299.4v1.9M254.4 299.7v1.6M255.6 300.3v1.0M256.8 300.5v0.8M258.0 300.2v1.1M259.2 301.1v0.2M260.4 301.1v0.2M261.6 300.0v1.3M262.9 299.8v1.5M264.1 300.2v1.1M265.3 300.4v0.9M266.5 301.1v0.2M654.9 299.9v1.4M656.0 300.7v0.6M657.2 299.8v1.5M658.4 295.4v5.9M659.5 297.2v4.1M660.7 300.5v0.8M663.0 301.1v0.2M665.4 300.6v0.7M666.5 296.8v4.5M693.8 301.0v0.3M695.0 300.9v0.4M696.2 301.0v0.3M703.5 301.1v0.2M704.7 300.4v0.9M705.9 298.8v2.5M707.1 290.6v10.7M708.3 299.3v2.0M709.5 300.2v1.1M710.7 298.9v2.4M711.9 300.8v0.5M717.9 301.0v0.3M719.1 298.8v2.5M720.3 295.4v5.9M721.5 294.4v6.9M722.7 299.7v1.6M724.0 300.1v1.2M725.2 299.2v2.1M726.4 299.2v2.1M727.6 300.4v0.9M728.8 301.1v0.2M730.0 300.6v0.7M731.2 301.1v0.2M732.4 300.7v0.6M733.6 299.5v1.8M734.8 300.9v0.4M736.0 298.5v2.8M737.2 297.6v3.7M738.4 300.6v0.7M739.6 301.1v0.2M743.1 301.0v0.3M745.5 301.1v0.2M746.7 299.4v1.9M747.9 295.4v5.9M749.1 298.2v3.1M750.3 300.5v0.8M751.4 299.2v2.1M752.6 300.7v0.6M753.8 301.1v0.2M763.8 301.0v0.3M767.3 301.1v0.2" stroke="#ff8048" stroke-width="1.35"/>
<rect x="747.0" y="232.5" width="1.3" height="16.7" fill="#40108a"/>
<rect x="748.3" y="232.5" width="1.9" height="4.5" fill="#b0c8ff"/>
<rect x="752.0" y="232.5" width="4.2" height="5.5" fill="#60e8c0"/>
<rect x="726.0" y="232.5" width="2.5" height="4.0" fill="#70d8f0"/>
<rect x="730.4" y="240.0" width="1.6" height="8.0" fill="#a8e8f8"/>
<rect x="731.0" y="232.5" width="2.0" height="12.5" fill="#3020b0"/>
</g>
<g filter="url(#bl2)"><rect x="32.2" y="228.6" width="740.2" height="3.9" fill="#000"/><rect x="32.2" y="301.3" width="740.2" height="2.9" fill="#000"/><rect x="32.2" y="228.6" width="2.0" height="75.6" fill="#000"/><rect x="770.2" y="228.6" width="2.2" height="75.6" fill="#000"/><rect x="59.1" y="228.6" width="1.8" height="75.6" fill="#000"/><rect x="87.2" y="228.6" width="2.0" height="75.6" fill="#000"/><rect x="120.3" y="228.6" width="1.7" height="75.6" fill="#000"/><rect x="145.5" y="228.6" width="1.9" height="75.6" fill="#000"/><rect x="174.2" y="228.6" width="1.8" height="75.6" fill="#000"/><rect x="208.2" y="228.6" width="1.9" height="75.6" fill="#000"/><rect x="237.3" y="228.6" width="1.9" height="75.6" fill="#000"/><rect x="267.1" y="228.6" width="1.9" height="75.6" fill="#000"/><rect x="279.9" y="228.6" width="1.9" height="75.6" fill="#000"/><rect x="293.3" y="228.6" width="1.5" height="75.6" fill="#000"/><rect x="311.2" y="228.6" width="1.8" height="75.6" fill="#000"/><rect x="322.5" y="228.6" width="2.0" height="75.6" fill="#000"/><rect x="367.9" y="228.6" width="1.7" height="75.6" fill="#000"/><rect x="391.0" y="228.6" width="1.5" height="75.6" fill="#000"/><rect x="407.4" y="228.6" width="1.6" height="75.6" fill="#000"/><rect x="441.6" y="228.6" width="1.6" height="75.6" fill="#000"/><rect x="454.8" y="228.6" width="1.4" height="75.6" fill="#000"/><rect x="471.2" y="228.6" width="1.5" height="75.6" fill="#000"/><rect x="497.6" y="228.6" width="1.3" height="75.6" fill="#000"/><rect x="512.0" y="228.6" width="1.5" height="75.6" fill="#000"/><rect x="525.1" y="228.6" width="1.5" height="75.6" fill="#000"/><rect x="539.0" y="228.6" width="1.8" height="75.6" fill="#000"/><rect x="551.0" y="228.6" width="1.7" height="75.6" fill="#000"/><rect x="564.4" y="228.6" width="2.5" height="75.6" fill="#000"/><rect x="598.2" y="228.6" width="1.2" height="75.6" fill="#000"/><rect x="611.5" y="228.6" width="1.9" height="75.6" fill="#000"/><rect x="629.2" y="228.6" width="1.8" height="75.6" fill="#000"/><rect x="652.3" y="228.6" width="2.0" height="75.6" fill="#000"/><rect x="667.1" y="228.6" width="1.8" height="75.6" fill="#000"/><rect x="690.2" y="228.6" width="1.8" height="75.6" fill="#000"/><rect x="756.8" y="228.6" width="1.7" height="75.6" fill="#000"/><rect x="381.5" y="228.6" width="1" height="75.6" fill="#1a2a00" opacity="0.8"/><rect x="393.5" y="228.6" width="1" height="75.6" fill="#1a2a00" opacity="0.8"/><rect x="447.5" y="228.6" width="1" height="75.6" fill="#1a2a00" opacity="0.8"/><rect x="457.0" y="228.6" width="1" height="75.6" fill="#1a2a00" opacity="0.8"/><rect x="485.5" y="228.6" width="1" height="75.6" fill="#1a2a00" opacity="0.8"/><polygon points="733.2,228.6 735.2,228.6 737.0,304.2 735.0,304.2" fill="#000"/></g>
<g filter="url(#bl)">
<rect x="33.7" y="535.2" width="32.8" height="63.2" fill="#ff8048"/>
<rect x="68.4" y="535.2" width="36.1" height="63.2" fill="#ff8048"/>
<rect x="106.4" y="535.2" width="36.4" height="63.2" fill="#ff8048"/>
<rect x="144.6" y="535.2" width="22.9" height="63.2" fill="#ff8048"/>
<rect x="168.8" y="535.2" width="9.1" height="63.2" fill="#ff8048"/>
<rect x="179.4" y="535.2" width="33.3" height="63.2" fill="#ff8048"/>
<rect x="214.5" y="535.2" width="77.9" height="63.2" fill="#41affa"/>
<rect x="294.2" y="535.2" width="73.7" height="63.2" fill="#41affa"/>
<rect x="369.7" y="535.2" width="45.8" height="63.2" fill="#41affa"/>
<rect x="417.3" y="535.2" width="80.5" height="63.2" fill="#41affa"/>
<rect x="499.6" y="535.2" width="26.5" height="63.2" fill="#5f00fa"/>
<rect x="527.9" y="535.2" width="40.9" height="63.2" fill="#5f00fa"/>
<rect x="570.7" y="535.2" width="49.1" height="63.2" fill="#5f00fa"/>
<rect x="621.2" y="535.2" width="19.4" height="63.2" fill="#5f00fa"/>
<rect x="642.0" y="535.2" width="25.0" height="63.2" fill="#5f00fa"/>
<rect x="668.4" y="535.2" width="43.1" height="63.2" fill="#5f00fa"/>
<rect x="713.0" y="535.2" width="44.4" height="63.2" fill="#5f00fa"/>
<rect x="758.8" y="535.2" width="15.9" height="63.2" fill="#5f00fa"/>
<path d="M34.6 535.2v0.5M35.8 535.2v1.7M37.0 535.2v0.4M38.2 535.2v0.3M40.6 535.2v0.6M41.8 535.2v2.2M42.9 535.2v1.1M44.1 535.2v3.7M45.3 535.2v0.5M48.9 535.2v0.2M53.7 535.2v0.3M54.9 535.2v0.5M56.1 535.2v0.2M59.6 535.2v0.5M60.8 535.2v1.4M62.0 535.2v1.1M63.2 535.2v0.2M64.4 535.2v0.5M65.6 535.2v2.1M75.2 535.2v0.2M76.4 535.2v0.6M88.2 535.2v0.2M110.9 535.2v0.5M112.1 535.2v0.3M113.3 535.2v1.0M114.5 535.2v0.3M115.7 535.2v0.3M118.0 535.2v0.4M119.2 535.2v0.2M122.8 535.2v0.2M124.0 535.2v0.5M125.2 535.2v0.2M131.2 535.2v0.2M132.4 535.2v0.2M133.5 535.2v1.3M134.7 535.2v0.6M138.3 535.2v0.3M141.9 535.2v0.3M150.2 535.2v0.2M160.7 535.2v0.3M170.9 535.2v0.3M173.3 535.2v0.2M175.8 535.2v0.4M180.3 535.2v1.1M181.5 535.2v0.2M183.9 535.2v0.3M185.1 535.2v1.5M186.4 535.2v0.5M190.0 535.2v0.3M191.2 535.2v0.5M192.4 535.2v1.0M193.6 535.2v1.9M194.8 535.2v0.3M196.0 535.2v0.2M197.3 535.2v1.0M198.5 535.2v1.3M199.7 535.2v0.5M202.1 535.2v0.2M203.3 535.2v0.9M204.5 535.2v0.9M205.7 535.2v0.2M210.6 535.2v0.2M215.4 535.2v21.1M216.6 535.2v13.4M217.8 535.2v13.5M219.0 535.2v12.4M220.2 535.2v12.2M221.4 535.2v13.6M222.7 535.2v5.3M223.9 535.2v8.2M225.1 535.2v15.7M226.3 535.2v14.8M227.5 535.2v12.2M228.7 535.2v12.5M229.9 535.2v25.4M231.1 535.2v12.5M232.3 535.2v12.7M233.5 535.2v21.7M234.7 535.2v16.2M235.9 535.2v14.0M237.1 535.2v11.4M238.4 535.2v8.0M239.6 535.2v14.8M240.8 535.2v14.4M242.0 535.2v15.4M243.2 535.2v8.9M244.4 535.2v9.5M245.6 535.2v15.0M246.8 535.2v18.3M248.0 535.2v15.5M249.2 535.2v16.9M250.4 535.2v12.7M251.6 535.2v11.3M252.8 535.2v13.5M254.1 535.2v27.6M255.3 535.2v12.9M256.5 535.2v6.4M257.7 535.2v9.2M258.9 535.2v15.8M260.1 535.2v21.8M261.3 535.2v22.8M262.5 535.2v22.2M263.7 535.2v17.0M264.9 535.2v9.9M266.1 535.2v12.0M267.3 535.2v10.4M268.5 535.2v13.3M269.8 535.2v12.6M271.0 535.2v13.8M272.2 535.2v12.8M273.4 535.2v16.9M274.6 535.2v17.2M275.8 535.2v15.6M277.0 535.2v13.0M278.2 535.2v17.4M279.4 535.2v14.0M280.6 535.2v8.2M281.8 535.2v3.9M283.0 535.2v5.1M284.2 535.2v7.8M285.5 535.2v5.3M286.7 535.2v6.4M287.9 535.2v13.6M289.1 535.2v17.3M290.3 535.2v16.8M291.5 535.2v10.3M295.1 535.2v19.4M296.3 535.2v14.9M297.5 535.2v22.3M298.7 535.2v27.4M299.9 535.2v21.6M301.1 535.2v22.7M302.3 535.2v19.1M303.5 535.2v30.5M304.7 535.2v16.6M305.9 535.2v7.9M307.1 535.2v5.7M308.3 535.2v9.3M309.5 535.2v19.8M310.7 535.2v24.1M311.9 535.2v17.6M313.1 535.2v15.0M314.3 535.2v21.0M315.5 535.2v20.6M316.7 535.2v8.1M317.9 535.2v23.0M319.1 535.2v26.7M320.3 535.2v14.2M321.5 535.2v11.4M322.7 535.2v10.1M323.9 535.2v13.8M325.1 535.2v17.5M326.3 535.2v15.6M327.5 535.2v18.3M328.7 535.2v18.2M329.9 535.2v20.4M331.1 535.2v18.1M332.2 535.2v21.7M333.4 535.2v8.0M334.6 535.2v8.4M335.8 535.2v14.4M337.0 535.2v12.8M338.2 535.2v15.8M339.4 535.2v16.5M340.6 535.2v17.3M341.8 535.2v9.5M343.0 535.2v10.3M344.2 535.2v17.3M345.4 535.2v21.9M346.6 535.2v14.1M347.8 535.2v12.5M349.0 535.2v7.2M350.2 535.2v5.8M351.4 535.2v8.9M352.6 535.2v21.2M353.8 535.2v21.0M355.0 535.2v8.3M356.2 535.2v13.0M357.4 535.2v8.6M358.6 535.2v13.2M359.8 535.2v21.4M361.0 535.2v28.0M362.2 535.2v19.9M363.4 535.2v16.5M364.6 535.2v7.6M365.8 535.2v14.7M367.0 535.2v11.8M370.6 535.2v13.6M371.8 535.2v20.6M373.0 535.2v22.2M374.2 535.2v7.6M375.4 535.2v13.7M376.5 535.2v18.0M377.7 535.2v12.5M378.9 535.2v15.4M380.1 535.2v10.9M381.3 535.2v10.6M382.5 535.2v20.3M383.7 535.2v26.7M384.9 535.2v20.6M386.1 535.2v9.4M387.2 535.2v8.2M388.4 535.2v7.5M389.6 535.2v7.0M390.8 535.2v13.7M392.0 535.2v9.0M393.2 535.2v14.6M394.4 535.2v16.3M395.6 535.2v14.8M396.8 535.2v10.2M398.0 535.2v20.2M399.1 535.2v21.1M400.3 535.2v13.7M401.5 535.2v10.6M402.7 535.2v16.6M403.9 535.2v24.3M405.1 535.2v18.2M406.3 535.2v11.9M407.5 535.2v16.1M408.7 535.2v10.3M409.8 535.2v14.9M411.0 535.2v6.3M412.2 535.2v5.4M413.4 535.2v7.9M414.6 535.2v5.1M418.2 535.2v20.4M419.4 535.2v13.2M420.6 535.2v13.7M421.8 535.2v14.8M423.0 535.2v14.0M424.2 535.2v18.8M425.4 535.2v32.4M426.5 535.2v27.5M427.7 535.2v27.8M428.9 535.2v26.9M430.1 535.2v6.2M431.3 535.2v6.8M432.5 535.2v19.3M433.7 535.2v21.9M434.9 535.2v13.9M436.1 535.2v15.9M437.3 535.2v18.9M438.5 535.2v18.8M439.7 535.2v17.4M440.9 535.2v12.7M442.0 535.2v15.6M443.2 535.2v9.4M444.4 535.2v6.8M445.6 535.2v7.9M446.8 535.2v15.9M448.0 535.2v13.4M449.2 535.2v18.7M450.4 535.2v9.4M451.6 535.2v9.7M452.8 535.2v14.4M454.0 535.2v20.2M455.2 535.2v20.8M456.4 535.2v19.7M457.6 535.2v25.2M458.7 535.2v18.0M459.9 535.2v9.7M461.1 535.2v13.8M462.3 535.2v21.6M463.5 535.2v15.0M464.7 535.2v13.6M465.9 535.2v15.0M467.1 535.2v9.3M468.3 535.2v11.6M469.5 535.2v17.3M470.7 535.2v25.0M471.9 535.2v18.3M473.1 535.2v12.1M474.2 535.2v18.3M475.4 535.2v14.8M476.6 535.2v22.5M477.8 535.2v21.5M479.0 535.2v18.3M480.2 535.2v14.9M481.4 535.2v21.1M482.6 535.2v7.5M483.8 535.2v15.2M485.0 535.2v16.1M486.2 535.2v19.3M487.4 535.2v14.7M488.6 535.2v18.0M489.7 535.2v13.0M490.9 535.2v9.9M492.1 535.2v14.5M493.3 535.2v25.7M494.5 535.2v14.5M495.7 535.2v24.5M496.9 535.2v10.6" stroke="#5f00fa" stroke-width="1.35"/>
<path d="M40.6 535.8v0.2M41.8 537.4v1.2M42.9 536.3v0.3M44.1 538.9v0.4M45.3 535.7v0.4M46.5 535.2v0.2M50.1 535.3v0.5M51.3 535.3v0.5M52.5 535.3v2.2M53.7 535.5v0.6M57.3 535.2v0.6M60.8 536.6v0.4M63.2 535.4v0.2M64.4 535.7v1.2M65.6 537.3v4.2M70.5 535.2v0.4M75.2 535.4v0.2M77.6 535.3v0.3M78.8 535.2v0.4M79.9 535.2v0.2M81.1 535.2v0.2M90.6 535.2v0.3M94.1 535.3v0.2M109.7 535.3v0.2M110.9 535.7v1.0M112.1 535.5v0.3M113.3 536.2v0.9M114.5 535.5v0.3M115.7 535.5v0.6M119.2 535.4v0.9M120.4 535.2v0.5M124.0 535.7v0.2M126.4 535.2v0.4M127.6 535.2v2.2M128.8 535.2v0.6M130.0 535.3v0.2M131.2 535.4v0.3M132.4 535.4v0.2M133.5 536.5v0.3M135.9 535.3v0.4M141.9 535.5v0.5M145.5 535.2v0.3M151.4 535.2v0.3M157.2 535.3v0.3M161.9 535.3v0.3M163.1 535.2v0.4M164.3 535.2v0.4M172.1 535.3v0.2M173.3 535.4v0.4M174.6 535.3v0.2M180.3 536.3v0.5M182.7 535.2v0.4M183.9 535.5v1.1M185.1 536.7v2.7M186.4 535.7v0.8M187.6 535.3v0.9M188.8 535.3v0.9M190.0 535.5v0.3M191.2 535.7v0.3M192.4 536.2v0.9M193.6 537.1v0.2M197.3 536.2v0.2M198.5 536.5v0.5M199.7 535.7v1.6M200.9 535.3v0.3M204.5 536.1v0.6M205.7 535.4v2.1M206.9 535.2v0.5M208.2 535.2v0.2M209.4 535.2v0.4M210.6 535.4v0.2M215.4 556.3v0.9M216.6 548.6v3.6M217.8 548.7v4.4M219.0 547.6v0.6M220.2 547.4v0.3M221.4 548.8v0.4M222.7 540.5v1.3M223.9 543.4v2.1M225.1 550.9v1.8M226.3 550.0v0.5M227.5 547.4v1.0M228.7 547.7v0.7M229.9 560.6v0.7M231.1 547.7v3.6M232.3 547.9v1.4M237.1 546.6v1.1M238.4 543.2v3.1M239.6 550.0v1.5M242.0 550.6v2.0M243.2 544.1v10.4M244.4 544.7v2.6M245.6 550.2v0.6M246.8 553.5v2.2M248.0 550.7v9.3M249.2 552.1v1.1M250.4 547.9v0.4M251.6 546.5v1.7M252.8 548.7v3.0M254.1 562.8v0.6M256.5 541.6v0.5M257.7 544.4v0.4M258.9 551.0v0.4M261.3 558.0v0.6M262.5 557.4v2.5M263.7 552.2v6.2M264.9 545.1v5.7M266.1 547.2v1.1M269.8 547.8v1.5M271.0 549.0v4.4M272.2 548.0v1.9M273.4 552.1v1.3M274.6 552.4v1.4M275.8 550.8v0.3M277.0 548.2v0.9M278.2 552.6v5.0M279.4 549.2v6.6M280.6 543.4v1.4M281.8 539.1v0.9M283.0 540.3v0.3M284.2 543.0v0.6M285.5 540.5v0.8M286.7 541.6v0.3M287.9 548.8v0.3M289.1 552.5v0.3M290.3 552.0v1.2M291.5 545.5v0.8M295.1 554.6v8.0M296.3 550.1v5.8M297.5 557.5v4.9M298.7 562.6v4.3M299.9 556.8v1.3M301.1 557.9v2.3M302.3 554.3v2.6M303.5 565.7v9.4M304.7 551.8v2.4M308.3 544.5v0.3M310.7 559.3v0.6M311.9 552.8v5.7M313.1 550.2v2.3M314.3 556.2v4.8M315.5 555.8v2.4M316.7 543.3v7.8M317.9 558.2v2.9M320.3 549.4v0.7M321.5 546.6v6.5M322.7 545.3v7.8M323.9 549.0v6.3M325.1 552.7v6.9M326.3 550.8v1.0M327.5 553.5v0.3M328.7 553.4v1.5M329.9 555.6v0.6M331.1 553.3v1.2M332.2 556.9v0.3M333.4 543.2v0.2M334.6 543.6v0.5M335.8 549.6v0.4M337.0 548.0v1.2M338.2 551.0v1.5M339.4 551.7v4.2M340.6 552.5v1.2M341.8 544.7v2.1M343.0 545.5v7.5M344.2 552.5v1.3M345.4 557.1v0.9M346.6 549.3v0.3M347.8 547.7v0.6M349.0 542.4v0.5M350.2 541.0v1.0M351.4 544.1v3.8M352.6 556.4v4.4M353.8 556.2v3.8M355.0 543.5v2.2M356.2 548.2v2.9M357.4 543.8v13.4M358.6 548.4v5.3M359.8 556.6v0.7M361.0 563.2v0.4M362.2 555.1v0.8M363.4 551.7v0.8M364.6 542.8v0.2M370.6 548.8v0.8M371.8 555.8v0.4M373.0 557.4v0.7M374.2 542.8v0.2M376.5 553.2v2.1M377.7 547.7v9.7M378.9 550.6v5.5M380.1 546.1v10.8M381.3 545.8v1.8M383.7 561.9v1.1M384.9 555.8v4.3M386.1 544.6v6.5M387.2 543.4v1.6M388.4 542.7v1.7M389.6 542.2v0.3M390.8 548.9v0.6M392.0 544.2v4.3M393.2 549.8v5.0M394.4 551.5v13.5M395.6 550.0v2.9M396.8 545.4v1.4M398.0 555.4v7.1M399.1 556.3v2.6M400.3 548.9v8.8M401.5 545.8v5.2M402.7 551.8v1.9M403.9 559.5v0.3M406.3 547.1v1.3M407.5 551.3v4.6M408.7 545.5v1.1M409.8 550.1v1.4M411.0 541.5v2.8M412.2 540.6v7.0M413.4 543.1v2.3M414.6 540.3v3.1M418.2 555.6v7.1M419.4 548.4v7.3M420.6 548.9v4.3M421.8 550.0v2.6M423.0 549.2v0.9M424.2 554.0v0.7M425.4 567.6v4.5M426.5 562.7v4.5M427.7 563.0v1.0M428.9 562.1v0.8M430.1 541.4v0.5M431.3 542.0v0.2M433.7 557.1v0.3M434.9 549.1v1.2M436.1 551.1v6.6M437.3 554.1v12.8M438.5 554.0v2.8M439.7 552.6v2.5M440.9 547.9v7.1M442.0 550.8v24.4M443.2 544.6v8.6M444.4 542.0v3.1M445.6 543.1v0.4M449.2 553.9v0.3M450.4 544.6v0.6M451.6 544.9v3.1M452.8 549.6v10.1M454.0 555.4v2.8M455.2 556.0v0.6M456.4 554.9v0.3M457.6 560.4v1.9M458.7 553.2v7.0M459.9 544.9v1.9M461.1 549.0v0.7M462.3 556.8v1.7M463.5 550.2v0.8M464.7 548.8v4.0M465.9 550.2v0.8M467.1 544.5v2.4M468.3 546.8v9.5M469.5 552.5v1.8M470.7 560.2v0.4M471.9 553.5v1.4M473.1 547.3v0.9M474.2 553.5v3.0M475.4 550.0v5.7M476.6 557.7v2.0M477.8 556.7v0.5M479.0 553.5v1.6M480.2 550.1v1.1M481.4 556.3v5.4M482.6 542.7v0.7M483.8 550.4v0.3M486.2 554.5v0.3M487.4 549.9v0.9M488.6 553.2v2.1M489.7 548.2v0.7M490.9 545.1v0.6M492.1 549.7v0.8M493.3 560.9v0.2M494.5 549.7v0.4M495.7 559.7v0.7M496.9 545.8v0.6M500.5 567.4v11.6M501.7 577.6v3.7M502.8 577.4v7.0M504.0 572.4v6.7M505.2 569.3v1.6M506.4 571.2v1.4M507.6 555.7v6.1M508.7 554.7v5.9M509.9 559.6v2.6M511.1 560.4v0.3M512.3 566.8v2.0M513.4 565.2v6.8M514.6 558.7v3.5M515.8 549.0v8.3M517.0 550.1v2.4M518.1 551.0v1.2M519.3 552.4v9.5M520.5 557.0v8.6M521.7 568.4v2.9M522.9 561.2v2.9M524.0 552.1v1.7M525.2 542.4v2.0M528.8 587.0v2.1M530.0 569.8v1.5M531.2 573.5v8.7M532.3 576.5v4.0M533.5 569.4v4.9M534.7 573.1v11.5M535.9 580.8v4.4M537.1 575.5v9.1M538.3 561.9v1.9M539.5 568.3v3.7M540.6 568.3v1.2M541.8 571.5v5.2M543.0 569.0v16.6M544.2 579.2v5.0M545.4 577.0v4.9M546.6 571.0v4.3M547.8 569.8v4.4M548.9 564.9v7.0M550.1 575.2v4.4M551.3 580.2v0.6M552.5 577.7v1.3M553.7 572.8v7.5M554.9 572.0v7.2M556.1 571.2v12.3M557.2 569.6v3.5M558.4 562.4v0.9M559.6 573.0v0.7M560.8 580.8v1.6M562.0 577.0v8.6M563.2 577.1v2.8M564.4 577.5v2.9M565.5 573.5v6.2M566.7 582.0v2.0M567.9 568.3v7.4M571.6 568.7v3.9M572.8 567.4v0.9M574.0 568.5v0.6M575.2 562.2v2.0M576.5 565.6v6.0M577.7 562.8v1.9M580.1 581.8v0.2M581.3 565.2v0.7M582.5 565.3v3.8M583.7 567.0v3.3M584.9 567.2v1.0M586.2 569.2v2.7M587.4 568.8v5.4M588.6 572.5v5.6M589.8 568.2v3.0M591.0 571.8v1.0M592.2 572.4v1.1M593.4 582.7v0.3M594.6 580.9v0.6M595.9 580.0v0.3M597.1 586.5v0.7M598.3 571.0v0.3M599.5 561.4v0.6M600.7 568.6v0.5M601.9 579.9v2.1M603.1 570.9v2.0M604.3 570.4v0.4M605.6 573.4v0.5M606.8 577.7v0.6M608.0 575.9v2.2M609.2 569.4v2.3M610.4 555.2v2.1M611.6 570.4v1.7M612.8 564.9v2.6M614.0 570.9v0.7M616.5 569.1v0.4M617.7 568.3v0.5M618.9 566.6v1.5M622.1 579.1v1.0M623.3 561.7v1.3M624.4 559.8v0.3M628.0 574.1v0.3M629.1 568.8v2.1M630.3 562.6v7.3M631.5 569.1v1.6M632.7 567.5v2.8M633.8 565.2v0.8M635.0 563.1v1.4M636.2 557.2v1.3M637.4 564.7v2.0M638.5 567.2v0.6M642.9 580.0v0.2M644.1 582.6v1.7M645.4 571.8v4.7M646.6 569.5v3.3M647.8 560.8v1.2M649.0 566.7v0.3M650.2 575.9v0.7M651.5 572.8v4.5M652.7 577.5v3.1M653.9 577.5v0.7M655.1 574.2v0.9M656.3 565.2v0.8M657.6 576.7v2.5M658.8 587.4v0.5M660.0 569.4v0.4M661.2 568.6v0.6M662.4 563.2v0.5M663.7 562.6v0.2M666.1 566.7v0.8M669.3 574.6v1.2M670.5 561.8v1.6M671.7 564.8v0.3M673.0 564.0v0.2M674.2 571.0v2.9M675.4 573.7v8.6M676.6 571.7v1.6M677.8 568.8v0.8M679.0 575.2v2.2M680.2 588.6v0.5M681.5 586.3v0.4M682.7 574.6v0.2M683.9 576.6v0.6M685.1 571.1v1.7M686.3 559.0v4.2M687.5 571.6v1.1M688.7 565.7v0.7M690.0 571.9v1.3M691.2 562.9v0.2M692.4 562.2v0.3M693.6 562.0v0.3M694.8 569.0v0.5M696.0 569.8v0.7M697.2 574.4v0.4M698.5 564.6v0.5M699.7 579.4v0.8M700.9 571.2v1.7M702.1 573.9v2.6M703.3 562.5v0.6M704.5 565.7v1.3M705.7 576.7v0.3M713.9 561.6v0.6M715.1 571.6v0.7M716.3 578.9v0.7M717.4 569.4v0.6M718.6 577.9v0.9M719.8 576.0v1.1M721.0 570.0v0.5M723.4 571.9v0.3M724.5 564.8v0.8M725.7 570.4v0.5M726.9 580.8v0.3M728.1 580.5v1.2M729.3 578.8v3.0M730.5 581.3v6.4M731.6 583.8v1.1M732.8 582.1v0.8M734.0 575.6v3.9M735.2 564.1v1.2M736.4 568.6v5.7M737.6 581.1v1.3M738.8 573.5v1.2M739.9 571.3v3.1M741.1 578.2v1.7M742.3 571.5v5.9M743.5 572.0v1.2M745.9 573.9v0.4M747.0 580.9v1.9M748.2 572.2v8.3M749.4 566.7v4.5M750.6 578.2v2.4M751.8 570.5v3.8M753.0 575.1v0.9M754.1 562.5v0.2M755.3 576.3v0.8M756.5 577.7v1.7M759.7 581.2v1.3M760.9 567.6v0.5M763.2 568.4v1.0M764.4 575.0v4.2M765.6 573.2v1.1M766.8 558.9v1.9M767.9 558.3v4.6M769.1 576.8v0.9M770.3 577.5v0.2M771.5 575.3v1.2M772.6 568.9v0.2M773.8 563.9v0.3" stroke="#1c1498" stroke-width="1.35"/>
<path d="M34.6 535.8v4.7M35.8 536.9v0.7M37.0 535.6v0.5M38.2 535.5v2.2M39.4 535.4v0.3M42.9 536.6v0.2M44.1 539.2v0.6M45.3 536.1v0.2M46.5 535.4v1.1M47.7 535.3v0.3M52.5 537.5v0.2M58.4 535.4v0.4M59.6 535.8v1.6M60.8 537.0v0.3M62.0 536.4v0.3M63.2 535.6v1.7M64.4 536.8v0.2M74.0 535.4v0.2M88.2 535.4v0.4M90.6 535.5v0.2M91.8 535.3v0.3M107.3 535.3v0.7M108.5 535.2v0.4M113.3 537.1v0.2M114.5 535.8v0.9M115.7 536.1v0.2M119.2 536.3v0.9M120.4 535.8v0.3M121.6 535.3v0.6M122.8 535.5v0.6M124.0 535.9v0.3M125.2 535.5v0.3M126.4 535.6v0.9M127.6 537.4v0.5M128.8 535.8v0.3M130.0 535.4v1.3M131.2 535.7v0.8M133.5 536.8v0.2M134.7 535.9v1.0M135.9 535.7v0.2M137.1 535.4v0.3M138.3 535.5v1.4M139.5 535.3v0.9M140.7 535.4v0.3M141.9 536.0v0.9M145.5 535.5v0.4M146.7 535.3v0.4M149.0 535.2v0.2M158.4 535.3v0.2M163.1 535.7v0.2M164.3 535.6v0.7M165.4 535.3v0.2M169.7 535.3v0.2M175.8 535.6v0.2M177.0 535.3v0.6M180.3 536.8v1.2M181.5 535.5v0.3M182.7 535.6v0.2M187.6 536.2v0.5M188.8 536.1v0.7M191.2 536.0v0.3M192.4 537.1v1.6M193.6 537.2v0.3M196.0 535.4v0.2M197.3 536.4v0.3M200.9 535.6v0.5M202.1 535.6v1.9M203.3 536.2v1.3M205.7 537.4v0.2M206.9 535.7v1.1M208.2 535.5v0.3M209.4 535.6v0.8M210.6 535.6v0.3M528.8 589.1v2.9M530.0 571.3v12.1M531.2 582.2v5.6M532.3 580.5v1.9M533.5 574.3v2.4M534.7 584.6v0.6M535.9 585.3v1.9M537.1 584.6v3.9M538.3 563.8v9.9M539.5 572.0v7.2M540.6 569.5v19.7M541.8 576.7v4.0M543.0 585.7v2.3M544.2 584.2v0.6M545.4 581.9v0.3M546.6 575.3v1.3M547.8 574.2v5.6M548.9 571.9v4.6M550.1 579.6v1.6M551.3 580.8v1.9M552.5 579.0v5.9M553.7 580.3v1.5M554.9 579.2v0.2M556.1 583.5v0.4M557.2 573.1v0.5M558.4 563.3v2.1M559.6 573.7v1.0M560.8 582.4v0.4M562.0 585.6v0.7M563.2 579.8v1.2M564.4 580.5v1.1M565.5 579.7v6.9M566.7 584.0v2.1M567.9 575.7v6.0M571.6 572.6v1.6M572.8 568.3v0.4M574.0 569.1v0.3M575.2 564.2v0.2M576.5 571.6v0.4M577.7 564.7v0.4M578.9 563.1v0.2M580.1 581.9v0.2M581.3 565.9v1.0M582.5 569.2v0.4M583.7 570.3v0.3M584.9 568.2v1.6M586.2 572.0v1.5M587.4 574.1v0.5M588.6 578.2v0.7M589.8 571.2v0.5M591.0 572.8v0.7M592.2 573.4v3.4M593.4 583.0v0.7M594.6 581.5v0.7M595.9 580.3v1.3M597.1 587.3v0.6M598.3 571.4v2.8M599.5 561.9v2.0M600.7 569.0v1.1M601.9 582.0v0.9M603.1 572.8v0.6M604.3 570.7v2.4M605.6 573.9v2.4M606.8 578.3v1.9M608.0 578.2v1.8M609.2 571.8v1.3M610.4 557.3v3.3M611.6 572.1v0.7M615.3 571.7v0.6M616.5 569.5v1.2M617.7 568.8v0.8M618.9 568.1v2.8M713.9 562.1v0.3M716.3 579.6v0.4M717.4 570.0v2.2M718.6 578.8v1.9M719.8 577.1v1.2M721.0 570.6v1.1M722.2 573.8v3.7M723.4 572.2v3.0M724.5 565.6v4.0M725.7 570.8v1.6M726.9 581.1v4.1M728.1 581.6v2.9M729.3 581.8v2.7M730.5 587.7v1.1M731.6 584.9v1.0M732.8 582.9v1.3M734.0 579.6v0.9M735.2 565.3v2.8M736.4 574.3v2.0M737.6 582.4v1.0M738.8 574.7v4.2M739.9 574.3v1.1M741.1 579.9v0.5M742.3 577.4v0.4M743.5 573.2v1.5M744.7 576.8v1.2M745.9 574.2v0.4M747.0 582.8v1.3M748.2 580.4v2.8M749.4 571.1v6.5M750.6 580.6v2.0M751.8 574.2v0.6M753.0 576.0v1.6M754.1 562.7v6.7M755.3 577.1v1.9M756.5 579.4v0.8" stroke="#2a50f0" stroke-width="1.35"/>
<path d="M34.6 540.5v2.1M35.8 537.7v3.4M37.0 536.1v1.8M38.2 537.7v1.4M39.4 535.7v1.4M40.6 536.0v0.4M41.8 538.7v0.9M42.9 536.8v0.3M44.1 539.8v0.3M46.5 536.5v0.3M47.7 535.6v0.3M48.9 535.6v0.2M50.1 535.8v0.5M51.3 535.8v0.6M52.5 537.7v4.2M53.7 536.2v6.6M54.9 535.8v1.4M59.6 537.5v0.8M60.8 537.2v1.1M62.0 536.7v0.2M64.4 537.1v0.2M65.6 541.6v0.3M69.3 535.4v0.2M79.9 535.4v0.4M108.5 535.6v0.7M109.7 535.6v1.0M110.9 536.7v0.2M113.3 537.3v0.2M114.5 536.7v1.0M115.7 536.3v0.4M116.8 535.5v1.8M118.0 535.9v2.9M119.2 537.2v0.8M120.4 536.0v0.2M121.6 535.9v1.0M122.8 536.1v0.5M126.4 536.5v0.3M127.6 538.0v0.2M128.8 536.1v0.7M133.5 537.0v0.2M134.7 537.0v0.3M135.9 535.9v2.2M137.1 535.7v3.7M138.3 536.9v0.6M140.7 535.7v0.2M153.7 535.3v0.2M159.6 535.3v0.2M160.7 535.6v1.3M161.9 535.6v1.1M163.1 535.8v0.2M164.3 536.2v0.4M165.4 535.5v0.2M170.9 535.7v0.7M172.1 535.5v0.9M173.3 535.8v0.4M174.6 535.7v2.2M175.8 535.8v0.5M182.7 535.8v0.3M183.9 536.7v1.6M185.1 539.5v0.3M187.6 536.7v0.2M192.4 538.8v0.3M193.6 537.5v1.6M194.8 535.6v2.3M196.0 535.7v0.4M197.3 536.7v0.7M198.5 537.0v3.8M199.7 537.3v0.7M200.9 536.2v0.2M202.1 537.5v0.5M203.3 537.4v2.1M204.5 536.8v0.4M205.7 537.7v0.3M208.2 535.8v0.3M209.4 536.4v1.7M210.6 535.9v0.4M215.4 557.2v1.1M216.6 552.1v0.8M217.8 553.1v2.7M219.0 548.2v2.2M220.2 547.6v0.4M221.4 549.1v1.2M222.7 541.8v3.2M223.9 545.6v1.3M225.1 552.8v2.2M226.3 550.5v1.4M227.5 548.4v0.3M228.7 548.4v0.7M229.9 561.3v3.0M231.1 551.2v1.1M232.3 549.4v0.5M233.5 557.1v0.6M234.7 551.4v1.5M235.9 549.3v0.8M237.1 547.7v0.4M239.6 551.5v0.2M240.8 549.8v0.8M242.0 552.6v0.4M244.4 547.3v0.7M245.6 550.8v0.9M246.8 555.7v3.5M248.0 560.0v1.4M252.8 551.8v0.2M257.7 544.8v0.5M258.9 551.5v2.9M260.1 557.1v1.0M261.3 558.6v1.3M262.5 559.8v1.0M263.7 558.4v0.9M264.9 550.8v0.2M266.1 548.3v0.8M267.3 545.6v0.6M268.5 548.6v0.2M269.8 549.4v0.3M271.0 553.5v0.2M272.2 549.8v0.8M273.4 553.4v0.3M274.6 553.8v0.7M277.0 549.1v0.2M278.2 557.6v0.8M279.4 555.8v0.2M281.8 540.1v0.2M284.2 543.6v0.6M285.5 541.3v2.9M286.7 541.9v0.8M287.9 549.1v0.3M289.1 552.8v1.0M290.3 553.2v0.4M291.5 546.3v0.6M295.1 562.6v4.9M296.3 555.8v1.1M297.5 562.4v1.4M298.7 566.9v0.7M299.9 558.1v0.2M301.1 560.2v0.4M302.3 556.9v0.3M303.5 575.1v0.2M304.7 554.2v0.2M308.3 544.7v0.6M309.5 555.0v2.4M310.7 560.0v1.7M311.9 558.5v0.6M313.1 552.6v1.1M314.3 561.0v5.0M315.5 558.3v2.1M316.7 551.1v1.0M317.9 561.2v0.3M319.1 562.0v0.3M320.3 550.1v0.8M321.5 553.1v0.2M322.7 553.1v0.3M326.3 551.8v0.5M327.5 553.9v2.3M328.7 554.8v2.8M329.9 556.2v2.2M331.1 554.5v1.3M332.2 557.2v3.4M333.4 543.5v0.6M335.8 550.1v0.4M338.2 552.5v0.8M339.4 555.8v4.8M340.6 553.7v2.0M341.8 546.8v1.8M343.0 553.0v1.0M344.2 553.8v2.8M345.4 558.0v0.7M346.6 549.6v0.4M349.0 542.9v0.2M351.4 547.9v0.3M352.6 560.7v0.3M353.8 560.0v1.0M355.0 545.7v2.3M356.2 551.2v0.6M357.4 557.1v0.2M358.6 553.7v0.4M359.8 557.3v0.4M361.0 563.6v1.8M362.2 555.9v0.3M364.6 543.0v0.2M365.8 550.0v0.4M367.0 547.0v0.2M370.6 549.6v2.2M371.8 556.2v1.8M373.0 558.1v0.2M375.4 548.9v0.2M376.5 555.3v0.7M378.9 556.1v0.2M380.1 557.0v1.2M381.3 547.5v0.6M382.5 555.6v1.4M383.7 563.0v0.7M384.9 560.1v0.7M386.1 551.1v0.4M387.2 545.0v0.5M388.4 544.4v2.4M389.6 542.4v0.5M390.8 549.5v0.3M394.4 565.1v0.3M395.6 552.9v0.3M396.8 546.8v0.6M398.0 562.5v0.2M400.3 557.6v0.2M408.7 546.6v0.3M412.2 547.6v0.2M413.4 545.4v0.6M418.2 562.7v1.3M419.4 555.7v3.4M420.6 553.2v1.1M421.8 552.7v0.5M423.0 550.1v3.3M424.2 554.7v1.4M425.4 572.0v0.2M426.5 567.1v0.2M427.7 564.0v0.5M428.9 562.9v0.9M430.1 542.0v0.3M431.3 542.2v0.3M437.3 566.9v0.5M438.5 556.8v1.0M439.7 555.0v0.4M440.9 555.1v1.1M442.0 575.2v1.2M443.2 553.3v0.5M444.4 545.1v0.2M445.6 543.5v0.2M446.8 551.1v0.4M448.0 548.7v0.4M449.2 554.2v1.5M450.4 545.2v0.9M451.6 548.0v0.2M452.8 559.7v0.9M454.0 558.2v1.0M455.2 556.6v1.2M456.4 555.2v0.3M458.7 560.2v0.2M459.9 546.8v0.8M461.1 549.7v0.8M462.3 558.4v0.2M463.5 551.1v0.7M464.7 552.8v5.0M465.9 551.0v1.3M469.5 554.4v0.6M470.7 560.6v1.6M471.9 554.9v0.4M474.2 556.5v0.3M475.4 555.7v0.3M476.6 559.7v0.8M477.8 557.2v0.6M479.0 555.1v0.9M480.2 551.2v1.6M481.4 561.8v0.5M482.6 543.4v0.5M483.8 550.7v1.4M485.0 551.3v2.0M486.2 554.8v0.4M488.6 555.2v0.3M489.7 548.9v0.9M490.9 545.7v0.3M492.1 550.5v0.3M493.3 561.1v0.2M495.7 560.4v0.4M500.5 579.0v1.8M501.7 581.3v2.3M502.8 584.4v1.0M504.0 579.2v0.3M505.2 570.9v0.2M506.4 572.6v1.3M507.6 561.8v4.8M508.7 560.6v1.4M509.9 562.1v0.4M511.1 560.7v0.8M512.3 568.8v0.5M513.4 572.0v0.3M514.6 562.2v0.4M515.8 557.3v0.8M517.0 552.5v0.4M518.1 552.2v0.2M519.3 561.9v0.9M520.5 565.6v0.8M521.7 571.3v0.3M522.9 564.1v0.2M524.0 553.8v0.3M525.2 544.4v1.2M528.8 592.0v0.7M530.0 583.4v0.3M531.2 587.7v0.7M532.3 582.5v2.7M533.5 576.7v0.5M534.7 585.2v0.8M535.9 587.2v0.7M537.1 588.5v0.7M538.3 573.7v3.0M539.5 579.2v2.3M540.6 589.2v0.9M541.8 580.7v2.4M543.0 587.9v0.4M544.2 584.8v0.4M545.4 582.2v0.4M546.6 576.6v0.3M547.8 579.8v2.3M548.9 576.5v4.1M550.1 581.2v4.6M551.3 582.7v0.8M552.5 584.9v0.4M553.7 581.9v0.8M554.9 579.4v1.5M556.1 583.9v0.5M557.2 573.6v3.1M558.4 565.5v12.2M559.6 574.6v2.3M560.8 582.8v0.7M562.0 586.3v4.0M563.2 581.1v2.8M564.4 581.6v2.2M565.5 586.6v0.8M566.7 586.1v0.9M567.9 581.7v2.0M571.6 574.2v1.0M572.8 568.6v0.6M574.0 569.4v0.3M575.2 564.4v1.7M576.5 572.0v4.0M577.7 565.1v1.2M578.9 563.3v0.3M584.9 569.8v0.8M586.2 573.5v1.6M587.4 574.7v2.3M588.6 578.8v1.9M589.8 571.6v0.5M593.4 583.7v0.6M594.6 582.2v0.9M595.9 581.6v0.3M597.1 587.9v0.7M598.3 574.2v3.8M599.5 563.9v1.7M600.7 570.1v5.3M601.9 582.9v1.4M603.1 573.4v0.3M604.3 573.1v0.4M605.6 576.3v0.5M606.8 580.2v1.9M608.0 580.0v8.5M609.2 573.0v12.9M610.4 560.6v3.1M611.6 572.8v3.2M612.8 567.5v2.2M614.0 571.7v0.6M615.3 572.3v0.4M616.5 570.7v0.8M617.7 569.6v4.5M618.9 571.0v1.1M622.1 580.0v0.5M623.3 563.0v1.4M624.4 560.1v6.6M625.6 559.3v7.5M626.8 573.6v1.6M628.0 574.3v0.8M629.1 571.0v0.9M630.3 569.9v2.0M631.5 570.7v0.8M632.7 570.2v2.2M633.8 566.0v0.5M635.0 564.5v0.2M636.2 558.6v1.1M637.4 566.7v0.7M638.5 567.8v0.9M639.7 566.1v4.3M644.1 584.2v0.2M645.4 576.5v1.0M646.6 572.8v1.5M647.8 562.0v6.0M649.0 567.0v8.7M650.2 576.7v1.4M651.5 577.3v0.5M652.7 580.6v0.3M653.9 578.2v1.6M655.1 575.1v3.9M656.3 566.0v5.4M657.6 579.2v1.1M663.7 562.8v1.3M664.9 570.9v2.0M666.1 567.5v2.9M669.3 575.8v2.2M670.5 563.4v7.9M671.7 565.1v6.5M673.0 564.2v2.3M674.2 573.8v4.8M675.4 582.3v2.0M676.6 573.3v1.1M677.8 569.6v0.5M679.0 577.4v1.3M680.2 589.0v0.3M681.5 586.7v0.5M682.7 574.7v0.4M683.9 577.2v0.8M685.1 572.7v2.2M686.3 563.2v6.0M687.5 572.7v1.5M690.0 573.2v0.2M691.2 563.1v1.0M692.4 562.5v0.4M693.6 562.4v0.7M694.8 569.5v3.3M696.0 570.5v0.8M697.2 574.9v0.3M698.5 565.2v0.2M699.7 580.1v1.2M700.9 572.9v9.3M702.1 576.5v7.0M703.3 563.1v1.5M704.5 567.0v0.2M707.0 558.5v0.4M708.2 568.6v0.6M709.4 566.1v3.1M710.6 575.1v0.6M713.9 562.5v0.9M715.1 572.4v1.7M716.3 580.1v1.9M717.4 572.2v6.8M718.6 580.7v1.8M719.8 578.3v0.3M721.0 571.6v4.1M722.2 577.5v14.0M723.4 575.2v4.0M724.5 569.5v1.4M725.7 572.4v0.9M726.9 585.2v0.2M731.6 585.9v0.3M735.2 568.1v0.2M736.4 576.3v0.5M737.6 583.5v0.4M738.8 578.8v1.7M739.9 575.4v2.4M741.1 580.5v2.5M742.3 577.7v2.4M743.5 574.7v0.4M744.7 578.1v0.8M745.9 574.6v2.6M747.0 584.1v0.6M748.2 583.2v0.3M749.4 577.6v1.7M750.6 582.5v0.6M751.8 574.8v1.4M753.0 577.6v0.3M755.3 579.0v0.3M756.5 580.3v0.5M759.7 582.5v0.8M760.9 568.1v2.7M762.0 564.2v2.7M763.2 569.4v3.2M764.4 579.3v0.9M765.6 574.2v0.2M766.8 560.8v0.4M770.3 577.7v0.4M771.5 576.5v1.6M772.6 569.1v1.7M773.8 564.3v9.6" stroke="#e67dfa" stroke-width="1.35"/>
<path d="M34.6 542.6v1.5M35.8 541.1v6.6M37.0 537.9v3.3M38.2 539.1v0.5M39.4 537.1v1.3M40.6 536.4v4.7M41.8 539.7v1.0M42.9 537.1v0.3M44.1 540.1v1.6M45.3 536.5v0.5M46.5 536.8v1.1M47.7 536.0v1.1M48.9 535.8v2.8M50.1 536.3v1.8M51.3 536.4v5.9M52.5 541.8v4.0M53.7 542.8v5.3M54.9 537.2v5.1M56.1 535.6v1.8M57.3 535.9v0.4M58.4 536.0v1.2M59.6 538.2v4.9M60.8 538.3v16.9M62.0 537.0v4.4M63.2 537.3v4.7M64.4 537.3v2.2M65.6 541.9v2.4M78.8 535.7v0.5M84.7 535.3v0.3M91.8 535.7v0.2M93.0 535.4v0.2M94.1 535.6v0.4M102.4 535.3v0.2M103.6 535.2v1.0M108.5 536.4v0.3M109.7 536.6v2.0M110.9 536.9v2.3M112.1 535.9v0.7M113.3 537.6v0.7M114.5 537.8v0.8M115.7 536.7v0.3M118.0 538.8v0.5M119.2 538.0v0.2M120.4 536.3v1.1M121.6 536.9v4.8M122.8 536.6v2.6M124.0 536.3v9.1M125.2 535.9v2.6M126.4 536.9v2.4M127.6 538.1v0.4M128.8 536.8v0.6M130.0 536.9v3.8M131.2 536.5v3.2M132.4 535.8v0.6M133.5 537.3v1.2M134.7 537.3v1.3M135.9 538.1v1.2M137.1 539.4v3.3M138.3 537.5v2.7M139.5 536.3v3.6M140.7 535.9v1.9M141.9 537.1v0.7M146.7 535.7v0.4M147.8 535.3v2.4M149.0 535.5v3.0M150.2 535.5v0.8M156.0 535.5v0.5M157.2 535.6v2.7M158.4 535.5v1.4M159.6 535.5v0.2M160.7 536.9v0.3M161.9 536.7v0.3M166.6 535.4v0.3M170.9 536.4v0.9M172.1 536.4v3.1M173.3 536.3v3.1M174.6 537.8v1.0M175.8 536.3v0.2M177.0 536.0v0.5M180.3 538.1v0.9M181.5 535.8v1.5M182.7 536.2v1.4M183.9 538.3v0.6M185.1 539.8v2.0M186.4 536.8v0.3M187.6 536.9v0.6M188.8 536.9v3.8M190.0 536.0v2.0M191.2 536.3v1.3M192.4 539.0v1.4M193.6 539.1v3.1M194.8 537.9v3.5M196.0 536.1v1.3M197.3 537.3v1.8M198.5 540.8v3.3M199.7 538.1v2.5M200.9 536.4v0.7M202.1 538.0v1.1M203.3 539.5v3.8M204.5 537.2v8.4M205.7 538.0v8.4M206.9 536.9v4.1M208.2 536.0v1.3M209.4 538.1v5.2M210.6 536.3v1.3M211.8 535.3v1.1M216.6 553.0v0.2M217.8 555.8v0.6M219.0 550.4v1.8M220.2 548.0v0.8M221.4 550.4v2.3M222.7 545.0v1.0M223.9 546.9v6.1M225.1 554.9v1.6M226.3 551.9v0.7M227.5 548.7v0.5M228.7 549.2v3.7M229.9 564.3v0.7M231.1 552.3v1.0M232.3 549.9v3.1M233.5 557.6v1.4M234.7 553.0v3.1M235.9 550.1v1.8M237.1 548.1v0.6M238.4 546.3v0.9M239.6 551.7v0.9M240.8 550.6v3.5M242.0 553.0v3.0M243.2 554.6v3.3M244.4 548.0v2.0M245.6 551.7v5.2M246.8 559.3v0.9M248.0 561.3v1.4M249.2 553.3v1.4M250.4 548.2v7.1M251.6 548.2v4.5M252.8 551.9v0.9M254.1 563.5v0.3M255.3 548.3v2.2M256.5 542.3v6.0M257.7 545.2v0.8M260.1 558.1v1.5M261.3 559.9v7.3M262.5 560.8v1.6M263.7 559.3v3.1M264.9 551.0v0.7M268.5 548.7v2.2M269.8 549.6v7.0M271.0 553.7v2.1M272.2 550.7v1.1M273.4 553.7v1.4M274.6 554.5v5.5M275.8 551.3v2.3M277.0 549.2v2.8M278.2 558.4v0.4M281.8 540.2v0.6M283.0 540.7v1.1M284.2 544.3v0.7M285.5 544.2v0.9M286.7 542.7v1.2M287.9 549.4v0.9M289.1 553.8v0.6M290.3 553.6v1.8M291.5 546.9v0.3M295.1 567.5v0.2M297.5 563.8v0.2M298.7 567.5v1.1M299.9 558.3v2.6M301.1 560.6v1.3M302.3 557.2v0.4M303.5 575.2v0.7M304.7 554.4v0.7M305.9 543.2v1.8M307.1 541.1v1.4M308.3 545.3v0.3M309.5 557.4v0.3M310.7 561.6v0.9M311.9 559.1v2.2M313.1 553.6v5.2M314.3 566.0v0.9M315.5 560.4v0.4M317.9 561.4v1.0M319.1 562.3v3.0M320.3 551.0v5.7M321.5 553.4v3.2M322.7 553.4v2.8M323.9 555.4v3.5M325.1 559.7v2.7M326.3 552.3v0.4M327.5 556.2v0.4M328.7 557.6v1.7M329.9 558.3v1.2M331.1 555.8v4.5M332.2 560.6v2.9M333.4 544.1v2.7M334.6 544.2v1.4M335.8 550.4v0.4M337.0 549.4v0.5M338.2 553.3v1.3M339.4 560.6v7.2M340.6 555.7v3.0M341.8 548.6v2.4M343.0 554.0v1.5M344.2 556.6v1.7M345.4 558.6v8.5M346.6 550.0v2.6M347.8 548.4v0.8M349.0 543.1v2.1M350.2 542.1v0.7M351.4 548.2v0.2M352.6 561.0v1.1M353.8 561.0v0.6M355.0 548.0v1.7M356.2 551.7v4.7M357.4 557.3v2.0M358.6 554.1v1.0M359.8 557.7v0.4M363.4 552.4v1.5M364.6 543.2v5.6M365.8 550.4v1.5M367.0 547.2v2.4M373.0 558.2v0.4M374.2 543.0v1.5M375.4 549.1v0.4M376.5 556.1v1.0M377.7 557.6v0.7M378.9 556.3v2.7M380.1 558.2v0.9M381.3 548.1v1.5M382.5 557.0v0.9M383.7 563.6v0.6M384.9 560.8v0.5M386.1 551.6v2.8M387.2 545.6v6.3M388.4 546.8v4.4M389.6 542.9v4.5M390.8 549.8v1.1M392.0 548.6v4.0M393.2 554.9v3.4M394.4 565.3v0.8M395.6 553.2v0.2M396.8 547.4v0.6M398.0 562.7v3.2M399.1 559.0v5.1M400.3 557.8v7.2M401.5 551.0v1.0M405.1 553.5v0.8M406.3 548.4v3.2M407.5 556.0v1.5M408.7 546.9v4.2M409.8 551.5v4.7M411.0 544.5v4.9M412.2 547.8v0.8M413.4 546.0v0.9M414.6 543.6v4.6M418.2 564.1v1.5M419.4 559.1v3.1M420.6 554.4v0.9M421.8 553.2v1.5M423.0 553.4v0.9M424.2 556.1v1.5M425.4 572.2v0.8M426.5 567.3v3.9M427.7 564.5v0.9M428.9 563.8v0.4M430.1 542.3v1.3M431.3 542.5v3.2M432.5 554.6v1.7M433.7 557.6v2.0M434.9 550.3v0.6M439.7 555.5v0.2M440.9 556.1v1.0M443.2 553.8v0.2M444.4 545.3v1.6M445.6 543.7v0.7M446.8 551.5v0.6M448.0 549.0v0.3M449.2 555.6v0.5M450.4 546.1v0.6M451.6 548.2v2.1M452.8 560.6v2.7M454.0 559.3v2.3M455.2 557.8v1.4M456.4 555.5v1.0M457.6 562.3v0.8M458.7 560.4v0.6M459.9 547.5v0.7M461.1 550.5v0.3M462.3 558.6v1.1M463.5 551.8v1.1M464.7 557.8v1.6M465.9 552.3v0.3M467.1 547.0v0.5M468.3 556.4v0.4M469.5 554.9v0.3M470.7 562.1v0.3M471.9 555.3v0.7M473.1 548.3v1.0M474.2 556.8v0.6M475.4 556.1v3.0M476.6 560.4v5.3M477.8 557.8v1.3M479.0 556.0v0.6M480.2 552.8v1.8M481.4 562.3v0.7M482.6 543.8v1.1M483.8 552.1v2.5M485.0 553.4v0.4M486.2 555.2v0.5M487.4 550.8v1.2M488.6 555.5v2.8M489.7 549.8v1.8M490.9 546.0v0.3M492.1 550.9v0.8M493.3 561.2v0.3M494.5 550.1v1.4M495.7 560.8v1.0M528.8 592.7v0.3M530.0 583.7v0.2M531.2 588.4v0.8M532.3 585.2v1.3M533.5 577.2v1.6M534.7 586.0v0.3M535.9 587.9v0.3M537.1 589.2v0.5M538.3 576.7v0.8M539.5 581.5v0.6M541.8 583.1v0.2M543.0 588.3v0.3M544.2 585.2v0.3M546.6 576.9v0.2M548.9 580.7v0.3M550.1 585.8v1.3M551.3 583.5v3.0M552.5 585.3v2.5M553.7 582.6v0.6M554.9 580.8v0.3M556.1 584.4v0.7M557.2 576.7v0.3M560.8 583.4v0.2M562.0 590.3v0.4M563.2 583.9v0.3M564.4 583.8v1.0M565.5 587.4v3.8M566.7 587.0v0.8M567.9 583.7v1.3" stroke="#78e6ee" stroke-width="1.35"/>
<path d="M34.6 544.0v0.5M35.8 547.7v0.9M37.0 541.2v2.6M38.2 539.6v0.8M39.4 538.4v0.4M40.6 541.2v0.6M41.8 540.6v0.2M42.9 537.4v0.5M44.1 541.7v2.3M45.3 536.9v9.3M46.5 537.9v4.7M47.7 537.1v10.8M48.9 538.6v2.8M50.1 538.1v1.3M51.3 542.4v0.8M52.5 545.8v2.6M53.7 548.1v3.0M54.9 542.2v1.5M56.1 537.3v3.1M57.3 536.4v2.6M58.4 537.1v5.0M59.6 543.1v1.7M60.8 555.2v4.2M62.0 541.3v1.7M63.2 542.1v8.1M64.4 539.5v15.3M65.6 544.3v6.8M69.3 535.6v0.4M71.7 535.3v0.4M72.8 535.3v0.2M75.2 535.8v0.5M76.4 535.9v1.4M77.6 535.8v1.2M78.8 536.2v0.2M79.9 535.9v0.5M81.1 535.6v0.2M82.3 535.5v0.5M83.5 535.4v0.2M90.6 535.8v0.2M93.0 535.5v0.3M94.1 536.0v0.6M95.3 535.5v0.3M96.5 535.3v0.2M97.7 535.3v0.2M101.2 535.3v0.5M102.4 535.5v0.2M107.3 536.2v3.0M108.5 536.7v5.1M109.7 538.5v1.4M110.9 539.2v1.4M112.1 536.5v0.4M113.3 538.3v0.4M114.5 538.6v1.4M115.7 537.0v1.1M116.8 537.4v1.7M118.0 539.3v5.3M119.2 538.1v1.9M120.4 537.3v0.2M121.6 541.7v0.8M122.8 539.2v4.0M124.0 545.4v0.7M125.2 538.5v0.7M126.4 539.3v2.9M127.6 538.6v0.5M131.2 539.7v0.4M132.4 536.4v2.0M133.5 538.5v1.4M134.7 538.5v0.3M135.9 539.3v1.5M137.1 542.8v5.1M138.3 540.2v9.0M139.5 539.9v4.7M140.7 537.8v0.7M141.9 537.7v1.2M157.2 538.4v0.4M158.4 536.9v0.9M159.6 535.7v4.5M160.7 537.2v1.2M161.9 536.9v0.6M163.1 536.2v0.4M164.3 536.6v0.2M166.6 535.7v0.4M170.9 537.3v0.9M172.1 539.5v0.9M175.8 536.5v0.5M177.0 536.5v0.2M180.3 539.1v2.6M181.5 537.3v3.7M182.7 537.5v1.0M183.9 538.9v0.5M185.1 541.8v1.2M186.4 537.1v0.2M187.6 537.5v0.3M191.2 537.6v0.6M192.4 540.4v3.0M193.6 542.1v3.4M194.8 541.4v0.8M198.5 544.1v0.5M199.7 540.6v2.7M200.9 537.0v1.6M202.1 539.1v3.4M203.3 543.2v1.5M204.5 545.6v0.3M206.9 541.0v1.1M208.2 537.4v5.8M209.4 543.3v1.2M211.8 536.4v0.2M215.4 558.3v0.2M216.6 553.1v2.6M217.8 556.4v10.2M219.0 552.2v2.5M220.2 548.8v5.9M221.4 552.7v5.0M222.7 545.9v0.9M223.9 553.0v3.8M225.1 556.5v1.5M226.3 552.6v2.2M227.5 549.2v4.4M228.7 552.9v2.8M229.9 565.0v0.5M231.1 553.3v1.6M232.3 553.0v0.4M233.5 559.0v0.6M234.7 556.0v1.0M235.9 551.8v2.1M237.1 548.7v5.0M238.4 547.2v2.4M239.6 552.6v7.8M240.8 554.1v1.9M242.0 555.9v2.9M243.2 557.9v1.2M244.4 550.0v4.8M245.6 556.9v3.5M246.8 560.2v12.4M248.0 562.8v5.6M249.2 554.6v4.6M250.4 555.3v1.3M251.6 552.7v1.5M252.8 552.8v1.4M254.1 563.8v6.6M255.3 550.5v9.8M256.5 548.3v8.0M257.7 546.0v1.3M258.9 554.5v2.3M260.1 559.6v1.9M261.3 567.2v3.5M262.5 562.4v13.7M263.7 562.5v4.5M264.9 551.7v9.6M266.1 549.1v9.4M267.3 546.4v8.5M268.5 550.9v8.6M269.8 556.7v8.1M271.0 555.7v7.4M272.2 551.8v6.8M273.4 555.1v2.2M274.6 560.1v6.3M275.8 553.6v2.7M277.0 552.1v14.2M278.2 558.8v2.9M279.4 556.1v2.7M280.6 545.0v3.7M281.8 540.9v12.2M283.0 541.8v9.8M284.2 545.0v1.7M285.5 545.0v2.8M286.7 543.9v10.8M287.9 550.4v9.4M289.1 554.4v2.5M290.3 555.4v3.3M291.5 547.2v0.5M295.1 567.6v15.5M296.3 557.0v22.1M297.5 564.0v17.3M298.7 568.6v11.0M299.9 560.9v9.0M301.1 561.9v10.9M302.3 557.6v14.6M303.5 575.9v5.4M304.7 555.1v6.5M305.9 545.0v7.3M307.1 542.4v18.4M308.3 545.7v17.7M309.5 557.7v10.3M310.7 562.6v6.9M311.9 561.3v12.9M313.1 558.9v18.1M314.3 566.9v7.4M315.5 560.8v12.9M316.7 552.2v11.5M317.9 562.4v10.5M319.1 565.3v8.9M320.3 556.7v10.9M321.5 556.6v13.9M322.7 556.2v21.0M323.9 558.9v5.6M325.1 562.4v7.9M326.3 552.7v14.0M327.5 556.6v21.3M328.7 559.3v9.2M329.9 559.6v9.3M331.1 560.2v6.9M332.2 563.5v4.4M333.4 546.8v5.6M334.6 545.7v9.1M335.8 550.9v24.1M337.0 549.9v10.7M338.2 554.6v3.1M339.4 567.8v8.3M340.6 558.7v8.6M341.8 551.0v6.3M343.0 555.5v3.5M344.2 558.2v8.3M345.4 567.1v2.7M346.6 552.6v3.4M347.8 549.2v10.6M349.0 545.2v27.2M350.2 542.7v14.7M351.4 548.5v15.8M352.6 562.2v7.2M353.8 561.7v5.7M355.0 549.7v10.6M356.2 556.4v16.4M357.4 559.3v13.2M358.6 555.1v22.1M359.8 558.1v19.0M361.0 565.5v8.2M362.2 556.3v12.3M363.4 554.0v14.4M364.6 548.8v11.3M365.8 551.9v8.7M367.0 549.5v13.4M370.6 551.8v2.4M371.8 558.0v1.7M373.0 558.6v2.8M374.2 544.5v2.2M375.4 549.5v0.8M376.5 557.0v2.6M377.7 558.3v1.8M378.9 559.0v2.2M380.1 559.0v6.2M381.3 549.6v2.7M382.5 558.0v4.9M383.7 564.2v2.3M384.9 561.3v0.6M386.1 554.3v2.3M387.2 551.8v1.2M388.4 551.2v1.2M389.6 547.4v4.1M390.8 550.8v4.8M392.0 552.6v3.0M393.2 558.3v2.8M394.4 566.1v2.2M395.6 553.4v4.7M396.8 548.0v4.8M398.0 566.0v3.0M399.1 564.1v3.1M400.3 565.0v4.2M401.5 552.0v1.7M402.7 553.8v2.9M403.9 559.8v2.4M405.1 554.3v3.5M406.3 551.6v2.1M407.5 557.6v1.1M408.7 551.1v0.6M409.8 556.2v2.9M411.0 549.4v2.0M412.2 548.6v2.3M413.4 546.9v1.6M414.6 548.2v0.4M418.2 565.5v3.1M419.4 562.1v15.2M420.6 555.3v12.7M421.8 554.7v3.6M423.0 554.3v10.8M424.2 557.6v11.3M425.4 573.1v6.9M426.5 571.2v6.5M427.7 565.4v3.9M428.9 564.3v11.2M430.1 543.6v18.4M431.3 545.7v15.9M432.5 556.3v10.7M433.7 559.5v5.4M434.9 550.9v13.6M436.1 557.8v18.4M437.3 567.5v6.9M438.5 557.8v14.9M439.7 555.7v11.2M440.9 557.1v3.0M442.0 576.5v3.8M443.2 554.0v7.2M444.4 546.9v13.5M445.6 544.4v11.0M446.8 552.1v11.2M448.0 549.4v9.3M449.2 556.2v2.9M450.4 546.6v1.2M451.6 550.3v3.8M452.8 563.3v5.8M454.0 561.6v9.6M455.2 559.2v7.9M456.4 556.5v3.2M457.6 563.2v2.3M458.7 561.0v9.4M459.9 548.3v7.8M461.1 550.8v12.1M462.3 559.7v11.3M463.5 552.9v20.2M464.7 559.4v8.5M465.9 552.6v7.5M467.1 547.5v14.9M468.3 556.8v6.9M469.5 555.2v8.5M470.7 562.5v5.2M471.9 555.9v4.9M473.1 549.3v11.1M474.2 557.5v5.0M475.4 559.0v11.8M476.6 565.7v6.3M477.8 559.1v6.4M479.0 556.6v19.7M480.2 554.6v9.4M481.4 562.9v15.0M482.6 545.0v30.3M483.8 554.6v10.7M485.0 553.8v5.4M486.2 555.7v5.0M487.4 552.0v3.4M488.6 558.3v5.0M489.7 551.6v15.4M490.9 546.3v8.4M492.1 551.7v3.5M493.3 561.6v8.5M494.5 551.5v20.5M495.7 561.8v12.3M496.9 546.6v19.0M500.5 580.8v14.2M501.7 583.6v5.8M502.8 585.4v4.2M504.0 579.5v3.5M505.2 571.2v8.5M506.4 573.9v14.1M507.6 566.6v13.8M508.7 562.0v13.6M509.9 562.6v12.1M511.1 561.5v21.6M512.3 569.2v15.7M513.4 572.3v9.3M514.6 562.6v22.8M515.8 558.1v26.8M517.0 552.9v35.1M518.1 552.4v20.3M519.3 562.8v5.3M520.5 566.4v8.6M521.7 571.6v7.3M522.9 564.3v16.2M524.0 554.1v24.0M525.2 545.6v48.0M528.8 593.0v2.0M530.0 583.9v6.7M531.2 589.2v2.0M532.3 586.5v3.7M533.5 578.8v7.4M534.7 586.3v3.0M535.9 588.3v3.6M537.1 589.7v3.2M538.3 577.5v8.1M539.5 582.1v8.0M540.6 590.2v3.3M541.8 583.3v10.6M543.0 588.6v4.6M544.2 585.5v2.2M545.4 582.7v3.3M546.6 577.1v13.9M547.8 582.3v6.0M548.9 581.0v3.4M550.1 587.1v5.0M551.3 586.5v1.7M552.5 587.8v1.9M553.7 583.2v6.0M554.9 581.1v5.9M556.1 585.1v2.7M557.2 577.0v5.3M558.4 577.8v1.1M559.6 577.0v0.6M560.8 583.7v2.9M562.0 590.7v1.7M563.2 584.2v5.7M564.4 584.8v1.4M565.5 591.2v1.6M566.7 587.9v3.4M567.9 585.1v2.1M571.6 575.2v13.5M572.8 569.3v7.8M574.0 569.7v13.8M575.2 566.0v11.1M576.5 575.9v9.9M577.7 566.2v19.0M578.9 563.6v30.3M580.1 582.3v13.1M581.3 567.0v23.0M582.5 569.6v22.5M583.7 570.8v18.2M584.9 570.5v11.8M586.2 575.1v13.1M587.4 577.0v8.5M588.6 580.8v7.6M589.8 572.1v15.4M591.0 573.6v13.1M592.2 576.9v9.5M593.4 584.3v6.2M594.6 583.1v2.1M595.9 581.9v4.1M597.1 588.6v3.5M598.3 578.0v6.6M599.5 565.6v5.6M600.7 575.4v11.4M601.9 584.2v7.5M603.1 573.7v10.8M604.3 573.4v3.5M605.6 576.8v7.0M606.8 582.1v2.7M608.0 588.4v3.6M609.2 585.9v5.0M610.4 563.6v24.7M611.6 576.0v17.9M612.8 569.7v20.9M614.0 572.3v5.5M615.3 572.6v7.6M616.5 571.5v14.0M617.7 574.1v8.0M618.9 572.1v17.6M622.1 580.6v7.3M623.3 564.4v24.5M624.4 566.7v23.2M625.6 566.8v20.8M626.8 575.2v11.3M628.0 575.1v11.0M629.1 571.9v4.8M630.3 571.9v12.8M631.5 571.5v14.9M632.7 572.5v9.3M633.8 566.5v23.6M635.0 564.7v27.6M636.2 559.6v27.0M637.4 567.4v18.5M638.5 568.8v19.7M639.7 570.5v18.1M642.9 580.2v10.1M644.1 584.5v3.7M645.4 577.5v3.2M646.6 574.3v12.1M647.8 568.0v19.5M649.0 575.8v16.1M650.2 578.1v11.2M651.5 577.7v7.7M652.7 580.9v10.2M653.9 579.8v9.7M655.1 579.0v9.1M656.3 571.4v12.6M657.6 580.4v7.6M658.8 587.9v5.9M660.0 569.8v19.1M661.2 569.2v20.0M662.4 563.8v25.2M663.7 564.1v21.2M664.9 572.9v17.2M666.1 570.3v11.5M669.3 578.0v10.0M670.5 571.3v19.3M671.7 571.6v14.0M673.0 566.5v20.0M674.2 578.6v12.9M675.4 584.2v12.2M676.6 574.4v21.0M677.8 570.1v23.7M679.0 578.7v14.8M680.2 589.3v7.0M681.5 587.1v8.6M682.7 575.2v17.8M683.9 577.9v12.7M685.1 574.9v21.0M686.3 569.2v27.4M687.5 574.2v14.5M688.7 566.5v15.8M690.0 573.4v17.5M691.2 564.1v26.1M692.4 562.9v22.3M693.6 563.1v14.8M694.8 572.8v17.3M696.0 571.3v16.8M697.2 575.2v15.0M698.5 565.4v26.3M699.7 581.4v9.2M700.9 582.2v9.2M702.1 583.5v9.9M703.3 564.6v24.0M704.5 567.2v17.3M705.7 577.1v10.7M707.0 558.9v28.3M708.2 569.2v16.6M709.4 569.2v6.3M710.6 575.8v9.6M715.1 574.1v0.7M716.3 582.0v3.0M717.4 579.0v3.2M718.6 582.5v1.8M719.8 578.6v4.3M721.0 575.7v3.7M722.2 591.5v1.5M723.4 579.2v1.0M724.5 570.9v0.9M725.7 573.3v0.5M726.9 585.4v1.6M728.1 584.5v2.5M729.3 584.6v0.4M731.6 586.2v1.4M732.8 584.3v4.4M734.0 580.6v2.3M735.2 568.3v2.2M736.4 576.8v1.5M737.6 583.8v4.4M738.8 580.6v2.8M739.9 577.8v6.0M741.1 583.0v2.4M742.3 580.1v5.0M743.5 575.1v1.8M744.7 578.9v0.5M745.9 577.3v0.9M747.0 584.7v0.7M748.2 583.6v1.6M749.4 579.3v4.3M750.6 583.2v4.9M751.8 576.2v1.7M753.0 577.9v2.2M754.1 569.5v0.6M755.3 579.3v1.1M756.5 580.8v1.5M759.7 583.3v3.7M760.9 570.7v3.9M762.0 566.9v13.5M763.2 572.6v4.7M764.4 580.2v5.9M765.6 574.5v10.2M766.8 561.3v15.2M767.9 563.0v16.0M769.1 577.9v7.7M770.3 578.1v5.9M771.5 578.1v7.8M772.6 570.8v20.6M773.8 573.9v17.5" stroke="#32eb0a" stroke-width="1.35"/>
<path d="M34.6 544.5v0.4M35.8 548.6v2.0M37.0 543.7v0.5M38.2 540.4v0.3M39.4 538.8v0.3M40.6 541.8v1.4M41.8 540.8v5.8M42.9 537.8v3.5M44.1 543.9v0.6M45.3 546.3v0.7M46.5 542.6v0.4M47.7 547.9v0.4M48.9 541.5v0.7M50.1 539.4v0.6M52.5 548.4v0.6M53.7 551.0v1.5M54.9 543.7v0.3M58.4 542.1v0.2M59.6 544.8v1.3M60.8 559.5v1.1M62.0 543.1v0.3M63.2 550.2v1.4M64.4 554.8v6.0M65.6 551.1v1.6M71.7 535.7v0.4M77.6 537.0v0.2M79.9 536.4v0.6M81.1 535.8v0.2M82.3 536.0v0.3M84.7 535.8v0.3M97.7 535.4v0.2M107.3 539.2v0.2M108.5 541.8v1.1M109.7 539.9v0.5M110.9 540.6v1.4M112.1 536.9v2.8M113.3 538.7v0.9M114.5 540.0v0.3M115.7 538.1v0.8M116.8 539.1v0.2M118.0 544.6v0.2M119.2 540.0v0.7M120.4 537.5v1.0M121.6 542.5v1.9M122.8 543.2v0.3M124.0 546.1v0.5M125.2 539.2v3.3M126.4 542.2v1.3M127.6 539.1v0.2M128.8 537.5v0.3M130.0 540.8v0.5M131.2 540.1v1.4M132.4 538.5v0.3M137.1 547.9v0.7M138.3 549.2v1.7M139.5 544.6v2.1M140.7 538.5v0.4M141.9 538.9v0.2M145.5 536.0v0.2M146.7 536.2v0.2M149.0 538.4v0.2M156.0 536.1v0.2M159.6 540.2v0.4M163.1 536.6v0.4M164.3 536.8v0.2M169.7 536.0v3.8M170.9 538.2v1.4M172.1 540.4v0.5M173.3 539.5v0.2M174.6 538.9v0.8M175.8 536.9v0.4M177.0 536.8v0.9M180.3 541.6v1.0M181.5 541.0v0.2M185.1 543.0v0.2M186.4 537.4v0.9M187.6 537.8v0.4M188.8 540.9v0.2M190.0 538.1v0.2M191.2 538.2v0.3M193.6 545.6v0.2M194.8 542.2v0.8M196.0 537.4v0.2M199.7 543.3v0.2M200.9 538.6v0.6M202.1 542.5v0.3M203.3 544.7v0.2M204.5 545.8v0.7M205.7 546.4v0.3M206.9 542.1v0.2M208.2 543.2v1.0M209.4 544.5v0.7M210.6 537.6v0.4M211.8 536.6v1.5M215.4 558.5v1.3M216.6 555.7v0.9M217.8 566.6v0.7M219.0 554.7v2.3M220.2 554.7v0.5M221.4 557.7v0.2M222.7 546.8v0.6M223.9 556.8v0.3M225.1 558.0v0.9M226.3 554.8v0.3M227.5 553.6v0.3M228.7 555.7v1.7M229.9 565.5v0.7M231.1 554.9v2.4M232.3 553.4v0.9M233.5 559.7v2.4M234.7 557.0v2.6M235.9 553.9v5.0M237.1 553.6v3.3M238.4 549.6v0.6M239.6 560.4v0.5M240.8 556.0v0.9M242.0 558.9v0.8M243.2 559.1v0.3M244.4 554.9v0.7M245.6 560.5v1.5M246.8 572.6v0.5M248.0 568.4v0.5M249.2 559.2v1.3M250.4 556.6v4.2M251.6 554.2v1.4M252.8 554.2v0.8M254.1 570.4v1.3M255.3 560.2v0.7M256.5 556.3v0.6M257.7 547.4v2.1M258.9 556.8v2.5M260.1 561.5v1.3M261.3 570.8v3.0M262.5 576.1v1.2M263.7 567.0v3.4M264.9 561.4v6.8M266.1 558.6v1.5M267.3 554.9v1.1M268.5 559.5v3.3M269.8 564.7v1.1M271.0 563.1v2.0M272.2 558.7v3.6M273.4 557.3v3.5M274.6 566.3v2.4M275.8 556.3v2.8M277.0 566.3v1.4M278.2 561.7v1.3M279.4 558.8v0.3M280.6 548.7v1.0M281.8 553.1v3.0M283.0 551.5v4.5M284.2 546.7v0.8M285.5 547.8v0.6M286.7 554.7v2.7M287.9 559.7v1.7M289.1 556.9v2.4M290.3 558.8v1.2M291.5 547.7v0.4M295.1 583.1v0.3M296.3 579.1v1.1M297.5 581.2v0.8M298.7 579.7v0.8M299.9 569.9v1.6M301.1 572.9v3.6M302.3 572.3v6.4M303.5 581.3v2.1M304.7 561.6v6.1M305.9 552.3v3.5M307.1 560.9v3.6M308.3 563.4v2.2M309.5 568.1v0.7M310.7 569.5v1.0M311.9 574.3v2.9M313.1 577.0v2.2M314.3 574.3v2.3M315.5 573.6v0.4M316.7 563.7v0.7M317.9 572.9v2.3M319.1 574.3v1.2M320.3 567.6v4.8M321.5 570.5v4.0M322.7 577.2v0.7M323.9 564.5v0.7M325.1 570.3v3.0M326.3 566.7v5.4M327.5 577.9v1.4M328.7 568.5v3.4M329.9 568.9v3.9M331.1 567.1v1.0M332.2 567.9v1.0M333.4 552.5v1.8M334.6 554.8v4.5M335.8 575.0v0.9M338.2 557.7v0.3M339.4 576.1v0.9M340.6 567.3v3.4M341.8 557.3v1.7M343.0 559.0v5.1M344.2 566.5v1.7M345.4 569.8v0.2M346.6 556.0v1.5M347.8 559.8v6.6M349.0 572.3v1.0M350.2 557.4v1.2M351.4 564.3v0.4M352.6 569.4v0.4M353.8 567.3v2.9M355.0 560.3v3.4M356.2 572.8v2.5M357.4 572.5v4.9M358.6 577.2v1.8M359.8 577.1v4.9M361.0 573.7v1.4M362.2 568.6v1.8M363.4 568.4v0.8M364.6 560.1v2.7M365.8 560.6v3.5M367.0 562.9v0.5M418.2 568.6v1.1M419.4 577.3v0.4M420.6 568.0v0.4M421.8 558.3v1.4M423.0 565.1v0.8M424.2 568.9v1.0M425.4 579.9v0.3M426.5 577.7v0.7M427.7 569.3v2.6M428.9 575.4v0.7M431.3 561.6v0.5M432.5 567.0v1.7M433.7 564.9v1.6M434.9 564.5v2.0M436.1 576.2v0.9M437.3 574.4v4.2M438.5 572.6v2.1M439.7 566.9v0.5M440.9 560.2v0.7M442.0 580.3v1.8M443.2 561.1v2.5M444.4 560.4v1.5M445.6 555.4v6.4M446.8 563.3v1.4M448.0 558.7v0.3M449.2 559.1v1.9M450.4 547.8v6.8M451.6 554.1v2.5M452.8 569.1v4.5M454.0 571.1v7.5M455.2 567.1v3.0M456.4 559.7v2.4M457.6 565.4v1.7M458.7 570.3v1.1M459.9 556.1v4.8M461.1 562.9v1.9M462.3 571.0v3.1M463.5 573.1v1.2M464.7 568.0v5.1M465.9 560.1v1.8M467.1 562.4v0.3M468.3 563.7v0.5M469.5 563.7v1.7M470.7 567.7v2.3M471.9 560.8v5.6M473.1 560.4v1.5M474.2 562.5v0.8M475.4 570.9v4.5M476.6 572.0v0.9M477.8 565.6v0.3M479.0 576.2v1.7M480.2 564.0v0.7M481.4 578.0v2.4M482.6 575.3v0.5M483.8 565.3v1.3M485.0 559.2v0.7M486.2 560.7v2.4M487.4 555.4v1.4M488.6 563.3v3.9M489.7 567.0v2.4M490.9 554.6v1.8M492.1 555.2v0.7M493.3 570.0v0.5M494.5 572.0v3.0M495.7 574.1v1.1M496.9 565.6v0.2M500.5 595.0v0.3M501.7 589.4v0.6M502.8 589.6v1.6M504.0 583.0v5.3M505.2 579.7v11.8M506.4 588.0v6.2M507.6 580.4v8.0M508.7 575.5v4.2M509.9 574.7v2.7M511.1 583.1v3.0M512.3 584.9v1.2M513.4 581.5v1.5M514.6 585.4v2.7M515.8 584.9v2.7M517.0 588.0v5.5M518.1 572.7v2.9M519.3 568.1v4.6M520.5 575.0v6.5M521.7 578.9v3.1M522.9 580.6v3.5M524.0 578.1v7.7M525.2 593.6v1.2M571.6 588.7v3.8M572.8 577.1v8.4M574.0 583.5v2.9M575.2 577.1v3.8M576.5 585.9v2.4M577.7 585.2v1.7M578.9 593.9v0.5M580.1 595.4v1.3M581.3 590.0v4.8M582.5 592.1v1.5M583.7 589.0v2.5M584.9 582.3v2.5M586.2 588.2v0.7M587.4 585.5v2.9M588.6 588.4v2.3M589.8 587.5v3.1M591.0 586.7v2.2M592.2 586.5v1.1M593.4 590.5v0.7M594.6 585.2v4.3M595.9 586.0v3.6M597.1 592.1v2.5M598.3 584.7v4.8M599.5 571.2v17.5M600.7 586.8v4.1M601.9 591.7v0.5M603.1 584.5v0.7M604.3 576.9v0.4M605.6 583.8v1.7M606.8 584.8v2.4M608.0 592.0v0.9M609.2 591.0v0.7M610.4 588.3v3.0M611.6 594.0v0.9M612.8 590.6v1.4M614.0 577.8v1.1M615.3 580.2v6.3M616.5 585.5v4.5M617.7 582.1v1.0M618.9 589.7v0.5M622.1 587.9v0.5M623.3 588.8v1.5M624.4 589.9v0.4M625.6 587.6v0.4M626.8 586.6v0.2M628.0 586.1v0.2M629.1 576.7v0.3M631.5 586.4v0.8M632.7 581.8v6.8M633.8 590.0v1.7M635.0 592.3v0.5M636.2 586.7v1.5M637.4 585.9v0.7M638.5 588.5v0.8M639.7 588.5v3.8M642.9 590.3v2.2M644.1 588.2v1.6M645.4 580.7v0.9M646.6 586.4v2.5M647.8 587.5v7.1M649.0 591.9v2.6M650.2 589.3v5.8M651.5 585.4v7.7M652.7 591.1v1.7M653.9 589.6v2.4M655.1 588.1v6.7M656.3 584.0v7.1M657.6 588.0v1.5M658.8 593.8v1.1M660.0 588.9v4.0M661.2 589.2v3.7M662.4 589.0v0.6M663.7 585.3v0.3M664.9 590.1v0.9M666.1 581.8v5.4M669.3 588.0v6.5M670.5 590.5v5.5M671.7 585.6v9.3M673.0 586.5v10.5M674.2 591.5v4.0M675.4 596.5v0.8M676.6 595.4v1.5M677.8 593.8v1.4M679.0 593.6v3.3M680.2 596.4v0.6M681.5 595.8v0.5M682.7 592.9v2.7M683.9 590.6v6.3M685.1 596.0v1.7M686.3 596.6v0.5M687.5 588.7v5.2M688.7 582.3v14.2M690.0 590.9v5.5M691.2 590.2v4.8M692.4 585.2v7.2M693.6 577.8v17.5M694.8 590.0v4.4M696.0 588.1v3.6M697.2 590.2v4.6M698.5 591.6v3.4M699.7 590.5v5.1M700.9 591.4v4.5M702.1 593.4v1.9M703.3 588.6v3.1M704.5 584.4v8.7M705.7 587.8v4.1M707.0 587.2v9.7M708.2 585.9v11.3M709.4 575.5v21.6M710.6 585.4v7.1" stroke="#ccff00" stroke-width="1.35"/>
<path d="M34.6 544.9v0.4M35.8 550.6v0.7M37.0 544.3v0.3M38.2 540.7v0.9M39.4 539.1v3.8M40.6 543.2v0.7M41.8 546.6v0.2M42.9 541.3v1.2M44.1 544.5v2.2M45.3 547.0v0.6M46.5 542.9v0.2M47.7 548.3v0.3M48.9 542.2v0.6M50.1 540.0v0.8M51.3 543.3v2.4M52.5 549.0v3.2M53.7 552.5v3.3M54.9 544.1v2.0M56.1 540.4v2.2M57.3 539.0v1.9M58.4 542.4v0.6M59.6 546.0v0.4M60.8 560.6v0.4M62.0 543.4v1.9M63.2 551.6v1.0M69.3 536.1v0.3M70.5 535.9v0.2M71.7 536.1v1.0M72.8 535.6v0.2M77.6 537.1v0.3M81.1 536.0v0.3M84.7 536.1v0.2M87.0 535.7v0.2M88.2 535.8v0.7M89.4 535.5v0.3M90.6 536.1v0.2M91.8 536.0v0.2M93.0 535.8v0.2M96.5 535.6v0.5M97.7 535.7v0.5M98.9 535.5v0.3M100.1 535.5v0.2M107.3 539.4v0.4M108.5 542.9v0.6M109.7 540.4v1.4M110.9 542.1v0.6M112.1 539.7v0.8M113.3 539.6v0.5M114.5 540.3v2.1M115.7 538.8v0.6M116.8 539.2v1.6M118.0 544.8v1.8M119.2 540.7v1.1M120.4 538.6v2.9M121.6 544.4v0.5M122.8 543.5v0.5M124.0 546.6v2.7M125.2 542.5v0.9M126.4 543.5v1.1M127.6 539.3v2.3M128.8 537.7v3.7M130.0 541.4v1.0M131.2 541.5v3.1M132.4 538.7v9.3M133.5 539.9v2.8M134.7 538.9v1.6M135.9 540.9v6.9M137.1 548.5v2.7M138.3 550.9v0.5M139.5 546.7v2.1M140.7 538.9v1.3M141.9 539.1v2.0M145.5 536.2v0.3M146.7 536.4v1.4M147.8 537.9v0.4M149.0 538.6v0.7M150.2 536.4v0.2M151.4 535.8v0.2M152.5 535.5v1.1M153.7 535.5v0.3M154.9 535.6v0.6M156.0 536.2v0.2M157.2 538.9v0.3M163.1 537.0v0.2M164.3 537.0v0.3M165.4 535.9v0.2M166.6 536.1v0.9M169.7 539.8v2.7M170.9 539.6v3.4M172.1 540.9v1.1M173.3 539.7v0.6M174.6 539.7v0.2M181.5 541.2v0.2M182.7 538.5v1.3M183.9 539.4v2.3M185.1 543.2v0.7M186.4 538.3v1.6M187.6 538.3v1.2M188.8 541.0v0.5M190.0 538.3v1.8M191.2 538.5v0.8M192.4 543.5v2.1M193.6 545.7v0.6M194.8 543.0v1.3M196.0 537.6v2.0M197.3 539.4v0.6M204.5 546.5v0.5M205.7 546.8v1.6M206.9 542.4v3.7M208.2 544.2v0.6M209.4 545.2v0.7M210.6 538.1v5.3M211.8 538.1v4.9M500.5 595.3v3.1M501.7 590.0v8.4M502.8 591.2v7.2M504.0 588.3v10.1M505.2 591.4v7.0M506.4 594.2v4.2M507.6 588.4v10.0M508.7 579.7v18.7M509.9 577.4v21.0M511.1 586.1v12.3M512.3 586.2v12.2M513.4 583.0v15.4M514.6 588.1v10.3M515.8 587.6v10.8M517.0 593.4v5.0M518.1 575.6v22.8M519.3 572.7v25.7M520.5 581.4v17.0M521.7 582.0v16.4M522.9 584.0v14.4M524.0 585.7v12.7M525.2 594.9v3.5M528.8 595.0v3.4M530.0 590.6v7.8M531.2 591.2v7.2M532.3 590.1v8.3M533.5 586.2v12.2M534.7 589.3v9.1M535.9 591.9v6.5M537.1 592.9v5.5M538.3 585.6v12.8M539.5 590.1v8.3M540.6 593.6v4.8M541.8 593.9v4.5M543.0 593.2v5.2M544.2 587.7v10.7M545.4 586.0v12.4M546.6 591.0v7.4M547.8 588.3v10.1M548.9 584.4v14.0M550.1 592.1v6.3M551.3 588.2v10.2M552.5 589.7v8.7M553.7 589.2v9.2M554.9 587.1v11.3M556.1 587.8v10.6M557.2 582.3v16.1M558.4 578.9v19.5M559.6 577.6v20.8M560.8 586.6v11.8M562.0 592.4v6.0M563.2 589.9v8.5M564.4 586.2v12.2M565.5 592.8v5.6M566.7 591.3v7.1M567.9 587.2v11.2M571.6 592.5v5.9M572.8 585.5v12.9M574.0 586.3v12.1M575.2 580.9v17.5M576.5 588.3v10.1M577.7 586.9v11.5M578.9 594.4v4.0M580.1 596.7v1.7M581.3 594.8v3.6M582.5 593.6v4.8M583.7 591.4v7.0M584.9 584.9v13.5M586.2 588.9v9.5M587.4 588.4v10.0M588.6 590.7v7.7M589.8 590.6v7.8M591.0 588.8v9.6M592.2 587.6v10.8M593.4 591.1v7.3M594.6 589.5v8.9M595.9 589.6v8.8M597.1 594.6v3.8M598.3 589.5v8.9M599.5 588.7v9.7M600.7 590.9v7.5M601.9 592.2v6.2M603.1 585.2v13.2M604.3 577.3v21.1M605.6 585.5v12.9M606.8 587.2v11.2M608.0 592.9v5.5M609.2 591.6v6.8M610.4 591.4v7.0M611.6 594.9v3.5M612.8 592.0v6.4M614.0 578.8v19.6M615.3 586.6v11.8M616.5 590.1v8.3M617.7 583.1v15.3M618.9 590.2v8.2M622.1 588.4v10.0M623.3 590.4v8.0M624.4 590.2v8.2M625.6 588.0v10.4M626.8 586.8v11.6M628.0 586.3v12.1M629.1 577.0v21.4M630.3 584.9v13.5M631.5 587.2v11.2M632.7 588.6v9.8M633.8 591.8v6.6M635.0 592.8v5.6M636.2 588.2v10.2M637.4 586.6v11.8M638.5 589.2v9.2M639.7 592.3v6.1M642.9 592.5v5.9M644.1 589.8v8.6M645.4 581.6v16.8M646.6 588.8v9.6M647.8 594.7v3.7M649.0 594.5v3.9M650.2 595.0v3.4M651.5 593.2v5.2M652.7 592.8v5.6M653.9 591.9v6.5M655.1 594.8v3.6M656.3 591.1v7.3M657.6 589.5v8.9M658.8 594.9v3.5M660.0 593.0v5.4M661.2 592.9v5.5M662.4 589.5v8.9M663.7 585.6v12.8M664.9 591.0v7.4M666.1 587.2v11.2M669.3 594.4v4.0M670.5 596.1v2.3M671.7 594.9v3.5M673.0 597.0v1.4M674.2 595.4v3.0M675.4 597.2v1.2M676.6 596.9v1.5M677.8 595.2v3.2M679.0 596.9v1.5M680.2 597.0v1.4M681.5 596.2v2.2M682.7 595.6v2.8M683.9 596.9v1.5M685.1 597.7v0.7M686.3 597.1v1.3M687.5 593.9v4.5M688.7 596.5v1.9M690.0 596.5v1.9M691.2 595.0v3.4M692.4 592.4v6.0M693.6 595.3v3.1M694.8 594.5v3.9M696.0 591.7v6.7M697.2 594.7v3.7M698.5 595.0v3.4M699.7 595.6v2.8M700.9 595.9v2.5M702.1 595.3v3.1M703.3 591.7v6.7M704.5 593.1v5.3M705.7 591.9v6.5M707.0 596.9v1.5M708.2 597.2v1.2M709.4 597.2v1.2M710.6 592.5v5.9M713.9 563.5v34.9M715.1 574.8v23.6M716.3 585.0v13.4M717.4 582.2v16.2M718.6 584.2v14.2M719.8 582.9v15.5M721.0 579.4v19.0M722.2 593.1v5.3M723.4 580.2v18.2M724.5 571.8v26.6M725.7 573.8v24.6M726.9 587.0v11.4M728.1 587.1v11.3M729.3 585.0v13.4M730.5 589.0v9.4M731.6 587.6v10.8M732.8 588.8v9.6M734.0 582.9v15.5M735.2 570.5v27.9M736.4 578.2v20.2M737.6 588.2v10.2M738.8 583.4v15.0M739.9 583.9v14.5M741.1 585.4v13.0M742.3 585.1v13.3M743.5 576.9v21.5M744.7 579.4v19.0M745.9 578.2v20.2M747.0 585.4v13.0M748.2 585.1v13.3M749.4 583.5v14.9M750.6 588.1v10.3M751.8 577.9v20.5M753.0 580.2v18.2M754.1 570.1v28.3M755.3 580.4v18.0M756.5 582.3v16.1M759.7 587.0v11.4M760.9 574.6v23.8M762.0 580.3v18.1M763.2 577.3v21.1M764.4 586.1v12.3M765.6 584.7v13.7M766.8 576.5v21.9M767.9 579.0v19.4M769.1 585.6v12.8M770.3 584.0v14.4M771.5 585.8v12.6M772.6 591.4v7.0M773.8 591.4v7.0" stroke="#41affa" stroke-width="1.35"/>
<path d="M215.4 595.1v3.3M216.6 593.9v4.5M217.8 591.5v6.9M219.0 594.8v3.6M220.2 594.2v4.2M221.4 595.1v3.3M222.7 593.5v4.9M223.9 593.0v5.4M225.1 591.2v7.2M226.3 591.6v6.8M227.5 595.1v3.3M228.7 588.9v9.5M229.9 590.5v7.9M231.1 591.2v7.2M232.3 587.8v10.6M233.5 592.4v6.0M234.7 590.6v7.8M235.9 589.9v8.5M237.1 591.1v7.3M238.4 594.4v4.0M239.6 591.3v7.1M240.8 590.5v7.9M242.0 588.6v9.8M243.2 593.4v5.0M244.4 595.0v3.4M245.6 593.5v4.9M246.8 595.8v2.6M248.0 595.1v3.3M249.2 591.5v6.9M250.4 593.4v5.0M251.6 594.4v4.0M252.8 594.3v4.1M254.1 594.8v3.6M255.3 595.1v3.3M256.5 591.9v6.5M257.7 595.6v2.8M258.9 587.4v11.0M260.1 587.4v11.0M261.3 595.5v2.9M262.5 597.1v1.3M263.7 596.6v1.8M264.9 595.7v2.7M266.1 593.5v4.9M267.3 593.2v5.2M268.5 592.4v6.0M269.8 594.1v4.3M271.0 595.8v2.6M272.2 595.1v3.3M273.4 594.4v4.0M274.6 594.5v3.9M275.8 592.8v5.6M277.0 594.9v3.5M278.2 595.7v2.7M279.4 594.9v3.5M280.6 594.6v3.8M281.8 594.6v3.8M283.0 592.9v5.5M284.2 592.2v6.2M285.5 592.1v6.3M286.7 595.4v3.0M287.9 593.1v5.3M289.1 590.3v8.1M290.3 589.9v8.5M291.5 592.8v5.6M370.6 576.0v22.4M371.8 584.2v14.2M373.0 590.5v7.9M374.2 588.3v10.1M375.4 588.2v10.2M376.5 582.8v15.6M377.7 582.6v15.8M378.9 584.1v14.3M380.1 580.0v18.4M381.3 581.3v17.1M382.5 584.5v13.9M383.7 590.1v8.3M384.9 591.7v6.7M386.1 589.7v8.7M387.2 577.1v21.3M388.4 575.3v23.1M389.6 578.9v19.5M390.8 584.8v13.6M392.0 583.1v15.3M393.2 592.2v6.2M394.4 592.4v6.0M395.6 583.4v15.0M396.8 569.3v29.1M398.0 583.7v14.7M399.1 583.8v14.6M400.3 586.9v11.5M401.5 589.6v8.8M402.7 589.4v9.0M403.9 579.6v18.8M405.1 586.2v12.2M406.3 588.1v10.3M407.5 585.4v13.0M408.7 570.8v27.6M409.8 582.3v16.1M411.0 582.5v15.9M412.2 578.8v19.6M413.4 582.9v15.5M414.6 589.3v9.1M418.2 590.8v7.6M419.4 592.8v5.6M420.6 595.7v2.7M421.8 596.8v1.6M423.0 593.1v5.3M424.2 596.1v2.3M425.4 597.3v1.1M426.5 597.9v0.5M427.7 597.6v0.8M428.9 595.5v2.9M430.1 597.6v0.8M431.3 597.2v1.2M432.5 592.9v5.5M433.7 596.6v1.8M434.9 597.4v1.0M436.1 596.5v1.9M437.3 597.7v0.7M438.5 597.8v0.6M439.7 597.8v0.6M440.9 597.7v0.7M442.0 598.1v0.3M443.2 597.9v0.5M444.4 596.3v2.1M445.6 596.6v1.8M446.8 597.6v0.8M448.0 597.9v0.5M449.2 596.6v1.8M450.4 594.6v3.8M451.6 596.9v1.5M452.8 596.8v1.6M454.0 597.3v1.1M455.2 595.7v2.7M456.4 596.0v2.4M457.6 596.4v2.0M458.7 596.0v2.4M459.9 597.4v1.0M461.1 597.2v1.2M462.3 594.8v3.6M463.5 595.9v2.5M464.7 595.5v2.9M465.9 597.4v1.0M467.1 595.6v2.8M468.3 594.0v4.4M469.5 596.7v1.7M470.7 597.6v0.8M471.9 596.9v1.5M473.1 597.7v0.7M474.2 597.6v0.8M475.4 595.6v2.8M476.6 597.0v1.4M477.8 596.9v1.5M479.0 596.9v1.5M480.2 597.5v0.9M481.4 597.6v0.8M482.6 597.5v0.9M483.8 597.5v0.9M485.0 596.5v1.9M486.2 594.8v3.6M487.4 596.5v1.9M488.6 596.0v2.4M489.7 596.3v2.1M490.9 595.2v3.2M492.1 596.7v1.7M493.3 597.7v0.7M494.5 597.9v0.5M495.7 596.8v1.6M496.9 596.5v1.9" stroke="#ff8048" stroke-width="1.35"/>
</g>
<g filter="url(#bl2)"><rect x="31.0" y="531.0" width="745.2" height="4.2" fill="#000"/><rect x="31.0" y="598.4" width="745.2" height="3.6" fill="#000"/><rect x="31.0" y="531.0" width="3.0" height="71.0" fill="#000"/><rect x="774.4" y="531.0" width="1.8" height="71.0" fill="#000"/><rect x="66.2" y="531.0" width="2.5" height="71.0" fill="#000"/><rect x="104.2" y="531.0" width="2.5" height="71.0" fill="#000"/><rect x="142.5" y="531.0" width="2.4" height="71.0" fill="#000"/><rect x="167.2" y="531.0" width="1.9" height="71.0" fill="#000"/><rect x="177.6" y="531.0" width="2.1" height="71.0" fill="#000"/><rect x="212.4" y="531.0" width="2.4" height="71.0" fill="#000"/><rect x="292.1" y="531.0" width="2.4" height="71.0" fill="#000"/><rect x="367.6" y="531.0" width="2.4" height="71.0" fill="#000"/><rect x="415.2" y="531.0" width="2.4" height="71.0" fill="#000"/><rect x="497.5" y="531.0" width="2.4" height="71.0" fill="#000"/><rect x="525.8" y="531.0" width="2.4" height="71.0" fill="#000"/><rect x="568.5" y="531.0" width="2.5" height="71.0" fill="#000"/><rect x="619.5" y="531.0" width="2.0" height="71.0" fill="#000"/><rect x="640.3" y="531.0" width="2.0" height="71.0" fill="#000"/><rect x="666.7" y="531.0" width="2.0" height="71.0" fill="#000"/><rect x="711.2" y="531.0" width="2.1" height="71.0" fill="#000"/><rect x="757.1" y="531.0" width="2.0" height="71.0" fill="#000"/></g>
<g filter="url(#bl)">
<rect x="33.4" y="708.6" width="30.6" height="68.3" fill="#32eb0a"/>
<rect x="65.9" y="708.6" width="32.8" height="68.3" fill="#32eb0a"/>
<rect x="100.5" y="708.6" width="37.5" height="68.3" fill="#32eb0a"/>
<rect x="139.5" y="708.6" width="29.5" height="68.3" fill="#d2fc10"/>
<rect x="170.4" y="708.6" width="31.2" height="68.3" fill="#32eb0a"/>
<rect x="203.0" y="708.6" width="33.0" height="68.3" fill="#32eb0a"/>
<rect x="237.5" y="708.6" width="31.3" height="68.3" fill="#32eb0a"/>
<rect x="270.3" y="708.6" width="31.1" height="68.3" fill="#32eb0a"/>
<rect x="302.8" y="708.6" width="13.4" height="68.3" fill="#ccff00"/>
<rect x="317.6" y="708.6" width="11.8" height="68.3" fill="#ccff00"/>
<rect x="330.9" y="708.6" width="12.8" height="68.3" fill="#ccff00"/>
<rect x="345.2" y="708.6" width="14.2" height="68.3" fill="#ccff00"/>
<rect x="360.8" y="708.6" width="38.8" height="68.3" fill="#ccff00"/>
<rect x="400.7" y="708.6" width="15.4" height="68.3" fill="#ccff00"/>
<rect x="416.9" y="708.6" width="14.4" height="68.3" fill="#ccff00"/>
<rect x="430.7" y="708.6" width="29.2" height="68.3" fill="#ccff00"/>
<rect x="461.3" y="708.6" width="15.0" height="68.3" fill="#ccff00"/>
<rect x="477.0" y="708.6" width="21.2" height="68.3" fill="#ccff00"/>
<rect x="499.0" y="708.6" width="12.8" height="68.3" fill="#ccff00"/>
<rect x="513.3" y="708.6" width="23.0" height="68.3" fill="#ccff00"/>
<rect x="537.7" y="708.6" width="13.9" height="68.3" fill="#ccff00"/>
<rect x="552.4" y="708.6" width="12.4" height="68.3" fill="#ccff00"/>
<rect x="565.7" y="708.6" width="14.6" height="68.3" fill="#ccff00"/>
<rect x="581.2" y="708.6" width="11.6" height="68.3" fill="#ccff00"/>
<rect x="594.9" y="708.6" width="32.9" height="68.3" fill="#ccff00"/>
<rect x="629.1" y="708.6" width="11.9" height="68.3" fill="#ccff00"/>
<rect x="642.3" y="708.6" width="15.1" height="68.3" fill="#64f0d2"/>
<rect x="658.7" y="708.6" width="22.5" height="68.3" fill="#64f0d2"/>
<rect x="683.4" y="708.6" width="8.2" height="68.3" fill="#e67dfa"/>
<rect x="693.0" y="708.6" width="18.3" height="68.3" fill="#e67dfa"/>
<rect x="712.7" y="708.6" width="26.9" height="68.3" fill="#e67dfa"/>
<rect x="741.4" y="708.6" width="18.4" height="68.3" fill="#e67dfa"/>
<rect x="761.4" y="708.6" width="10.3" height="68.3" fill="#e67dfa"/>
<path d="M34.3 708.6v13.4M35.5 708.6v10.4M36.7 708.6v20.2M37.9 708.6v21.9M39.1 708.6v22.2M40.3 708.6v10.7M41.5 708.6v11.8M42.7 708.6v21.2M43.9 708.6v13.3M45.1 708.6v6.0M46.3 708.6v7.1M47.5 708.6v9.1M48.7 708.6v12.2M49.9 708.6v6.7M51.1 708.6v8.5M52.3 708.6v10.5M53.5 708.6v9.1M54.7 708.6v16.2M55.9 708.6v16.4M57.1 708.6v15.2M58.3 708.6v11.7M59.5 708.6v8.6M60.7 708.6v13.1M61.9 708.6v9.4M63.1 708.6v12.5M66.8 708.6v27.3M68.0 708.6v15.0M69.2 708.6v7.8M70.4 708.6v14.8M71.6 708.6v25.3M72.8 708.6v14.9M74.0 708.6v13.0M75.1 708.6v7.9M76.3 708.6v11.1M77.5 708.6v5.5M78.7 708.6v4.0M79.9 708.6v6.2M81.1 708.6v9.7M82.3 708.6v10.0M83.5 708.6v11.0M84.7 708.6v18.9M85.9 708.6v10.5M87.1 708.6v18.6M88.3 708.6v13.6M89.5 708.6v9.5M90.6 708.6v15.6M91.8 708.6v13.4M93.0 708.6v15.5M94.2 708.6v18.3M95.4 708.6v11.9M96.6 708.6v19.4M97.8 708.6v12.1M101.4 708.6v18.6M102.6 708.6v19.3M103.8 708.6v15.0M105.0 708.6v17.0M106.2 708.6v30.0M107.3 708.6v12.4M108.5 708.6v8.6M109.7 708.6v7.8M110.9 708.6v10.6M112.1 708.6v14.1M113.3 708.6v15.6M114.5 708.6v14.7M115.7 708.6v15.1M116.9 708.6v13.2M118.1 708.6v20.9M119.2 708.6v26.6M120.4 708.6v19.7M121.6 708.6v10.8M122.8 708.6v8.1M124.0 708.6v15.0M125.2 708.6v6.9M126.4 708.6v11.7M127.6 708.6v12.3M128.8 708.6v17.9M130.0 708.6v25.3M131.2 708.6v14.8M132.3 708.6v13.9M133.5 708.6v14.0M134.7 708.6v18.9M135.9 708.6v10.2M137.1 708.6v21.3M140.4 708.6v9.8M141.6 708.6v14.7M142.8 708.6v8.0M144.0 708.6v9.5M145.2 708.6v18.7M146.4 708.6v26.0M147.6 708.6v29.7M148.8 708.6v18.3M150.0 708.6v5.0M151.2 708.6v7.0M152.4 708.6v7.9M153.6 708.6v9.9M154.9 708.6v13.6M156.1 708.6v12.7M157.3 708.6v9.9M158.5 708.6v12.6M159.7 708.6v7.1M160.9 708.6v10.6M162.1 708.6v18.2M163.3 708.6v13.0M164.5 708.6v16.6M165.7 708.6v24.4M166.9 708.6v18.3M168.1 708.6v12.8M171.3 708.6v2.4M172.5 708.6v2.2M173.6 708.6v6.2M174.8 708.6v10.9M176.0 708.6v11.4M177.2 708.6v16.5M178.3 708.6v11.8M179.5 708.6v9.3M180.7 708.6v13.0M181.9 708.6v11.1M183.1 708.6v12.2M184.2 708.6v15.7M185.4 708.6v9.1M186.6 708.6v5.2M187.8 708.6v6.5M188.9 708.6v12.7M190.1 708.6v7.9M191.3 708.6v13.1M192.5 708.6v15.1M193.7 708.6v11.4M194.8 708.6v13.9M196.0 708.6v9.1M197.2 708.6v4.0M198.4 708.6v5.1M199.5 708.6v4.4M200.7 708.6v9.8M203.9 708.6v23.8M205.1 708.6v20.0M206.3 708.6v15.4M207.5 708.6v17.1M208.7 708.6v7.7M209.9 708.6v5.7M211.1 708.6v5.7M212.3 708.6v17.2M213.5 708.6v13.7M214.7 708.6v20.6M215.9 708.6v17.9M217.1 708.6v10.4M218.3 708.6v13.3M219.5 708.6v14.7M220.7 708.6v18.0M221.9 708.6v17.5M223.1 708.6v10.2M224.3 708.6v13.0M225.5 708.6v22.9M226.7 708.6v12.5M227.9 708.6v9.0M229.1 708.6v14.1M230.3 708.6v11.6M231.5 708.6v26.7M232.7 708.6v20.3M233.9 708.6v16.1M235.1 708.6v4.5M238.4 708.6v11.1M239.6 708.6v16.7M240.8 708.6v16.4M241.9 708.6v15.7M243.1 708.6v19.4M244.3 708.6v12.3M245.5 708.6v8.0M246.7 708.6v20.6M247.8 708.6v13.7M249.0 708.6v11.6M250.2 708.6v8.6M251.4 708.6v3.7M252.6 708.6v8.4M253.7 708.6v13.8M254.9 708.6v10.4M256.1 708.6v17.4M257.3 708.6v13.7M258.5 708.6v13.7M259.6 708.6v12.2M260.8 708.6v19.6M262.0 708.6v22.6M263.2 708.6v14.6M264.4 708.6v31.9M265.5 708.6v20.5M266.7 708.6v8.8M267.9 708.6v7.3M271.2 708.6v10.8M272.4 708.6v13.2M273.7 708.6v12.8M274.9 708.6v12.1M276.1 708.6v23.1M277.3 708.6v13.2M278.5 708.6v12.6M279.8 708.6v12.0M281.0 708.6v18.0M282.2 708.6v17.0M283.4 708.6v12.4M284.6 708.6v5.7M285.9 708.6v8.9M287.1 708.6v23.3M288.3 708.6v11.4M289.5 708.6v13.2M290.7 708.6v13.9M292.0 708.6v12.7M293.2 708.6v11.9M294.4 708.6v8.3M295.6 708.6v5.1M296.8 708.6v11.6M298.1 708.6v18.4M299.3 708.6v9.0M300.5 708.6v4.1M303.7 708.6v26.2M304.8 708.6v9.1M306.0 708.6v12.8M307.2 708.6v13.6M308.3 708.6v8.8M309.5 708.6v12.4M310.7 708.6v17.1M311.8 708.6v13.1M313.0 708.6v18.5M314.2 708.6v24.3M315.3 708.6v23.0M346.1 708.6v1.2M347.4 708.6v3.6M348.6 708.6v2.9M349.8 708.6v0.5M351.1 708.6v1.1M352.3 708.6v2.9M353.5 708.6v6.0M354.8 708.6v1.8M356.0 708.6v2.4M357.2 708.6v1.6M358.5 708.6v0.2M417.8 708.6v0.4M422.4 708.6v0.6M423.5 708.6v2.2M424.7 708.6v1.5M425.8 708.6v3.7M427.0 708.6v0.9M477.9 708.6v1.1M479.1 708.6v4.1M480.3 708.6v1.9M481.5 708.6v1.9M482.8 708.6v4.0M484.0 708.6v7.0M485.2 708.6v4.6M486.4 708.6v6.5M487.6 708.6v12.1M488.8 708.6v8.0M490.0 708.6v3.5M491.2 708.6v8.7M492.4 708.6v2.7M493.7 708.6v5.6M494.9 708.6v3.6M496.1 708.6v9.3M497.3 708.6v4.1M501.1 708.6v0.7M502.4 708.6v2.2M503.6 708.6v1.6M504.8 708.6v6.3M506.0 708.6v1.3M507.2 708.6v0.4M508.5 708.6v1.7M509.7 708.6v1.8M510.9 708.6v2.3M583.3 708.6v0.2M584.6 708.6v1.2M585.8 708.6v1.3M587.0 708.6v0.3M590.7 708.6v0.3M595.8 708.6v10.8M597.0 708.6v24.9M598.2 708.6v30.3M599.4 708.6v12.5M600.6 708.6v5.3M601.8 708.6v10.4M603.0 708.6v8.7M604.2 708.6v20.0M605.4 708.6v20.6M606.6 708.6v8.8M607.8 708.6v12.3M609.0 708.6v13.4M610.2 708.6v5.8M611.4 708.6v6.9M612.5 708.6v2.9M613.7 708.6v5.4M614.9 708.6v13.9M616.1 708.6v13.1M617.3 708.6v11.0M618.5 708.6v7.7M619.7 708.6v5.8M620.9 708.6v13.6M622.1 708.6v20.3M623.3 708.6v10.9M624.5 708.6v6.7M625.7 708.6v11.2M626.9 708.6v2.8M713.6 708.6v7.5M714.8 708.6v5.2M716.0 708.6v3.7M717.2 708.6v7.5M718.4 708.6v5.0M719.6 708.6v6.1M720.8 708.6v1.1M722.0 708.6v1.0M723.2 708.6v0.5M724.4 708.6v1.5M725.6 708.6v2.0M726.7 708.6v3.4M727.9 708.6v2.2M729.1 708.6v5.6M730.3 708.6v1.6M731.5 708.6v0.7M732.7 708.6v0.4M733.9 708.6v1.8M735.1 708.6v0.9M736.3 708.6v1.9M737.5 708.6v1.5M738.7 708.6v2.8" stroke="#5f00fa" stroke-width="1.35"/>
<path d="M34.3 722.0v2.4M35.5 719.0v8.6M36.7 728.8v2.0M39.1 730.8v0.2M40.3 719.3v0.4M41.5 720.4v2.1M42.7 729.8v2.1M43.9 721.9v4.6M45.1 714.6v1.0M46.3 715.7v2.0M47.5 717.7v5.0M48.7 720.8v1.6M49.9 715.3v2.1M51.1 717.1v0.4M52.3 719.1v3.3M53.5 717.7v8.7M54.7 724.8v4.7M55.9 725.0v0.9M57.1 723.8v1.7M58.3 720.3v2.7M59.5 717.2v6.1M60.7 721.7v3.1M61.9 718.0v0.3M66.8 735.9v0.7M68.0 723.6v0.6M69.2 716.4v0.3M70.4 723.4v0.2M71.6 733.9v0.4M72.8 723.5v1.3M74.0 721.6v0.4M76.3 719.7v0.2M77.5 714.1v0.7M78.7 712.6v0.8M79.9 714.8v4.1M81.1 718.3v1.2M83.5 719.6v1.0M84.7 727.5v4.2M85.9 719.1v0.9M89.5 718.1v0.4M90.6 724.2v2.3M91.8 722.0v3.1M93.0 724.1v2.1M94.2 726.9v3.1M95.4 720.5v0.5M96.6 728.0v0.2M97.8 720.7v0.2M499.9 708.6v0.3M507.2 709.0v1.2M508.5 710.3v3.4M509.7 710.4v1.3M595.8 719.4v4.2M597.0 733.5v0.7M598.2 738.9v0.2M599.4 721.1v1.1M600.6 713.9v1.5M601.8 719.0v6.3M603.0 717.3v5.7M604.2 728.6v4.1M605.4 729.2v2.4M606.6 717.4v0.6M607.8 720.9v5.4M609.0 722.0v13.4M610.2 714.4v3.1M611.4 715.5v1.1M612.5 711.5v0.3M613.7 714.0v0.8M614.9 722.5v0.5M616.1 721.7v0.4M617.3 719.6v1.2M618.5 716.3v0.2M619.7 714.4v0.4M620.9 722.2v1.6M622.1 728.9v0.8M623.3 719.5v1.1M624.5 715.3v1.1M625.7 719.8v7.4M626.9 711.4v11.1M713.6 716.1v1.4M714.8 713.8v5.7M716.0 712.3v2.2M717.2 716.1v1.0M718.4 713.6v1.2M719.6 714.7v0.9M723.2 709.1v0.7M724.4 710.1v0.3M725.6 710.6v0.3M726.7 712.0v0.3M730.3 710.2v0.7M731.5 709.3v3.6M732.7 709.0v2.1M733.9 710.4v0.7M735.1 709.5v1.9M736.3 710.5v3.2M737.5 710.1v0.5" stroke="#1c1498" stroke-width="1.35"/>
<path d="M34.3 724.4v0.9M35.5 727.6v3.6M36.7 730.8v0.9M37.9 730.7v0.9M39.1 731.0v4.1M40.3 719.7v0.8M41.5 722.5v1.6M42.7 731.9v3.0M43.9 726.5v1.5M45.1 715.7v0.9M46.3 717.8v0.7M47.5 722.7v2.8M48.7 722.4v6.2M49.9 717.3v15.8M51.1 717.5v21.0M52.3 722.3v6.4M53.5 726.3v2.6M54.7 729.5v5.7M55.9 725.9v3.1M57.1 725.5v3.3M58.3 723.0v9.6M59.5 723.3v19.1M60.7 724.8v14.9M61.9 718.4v8.1M63.1 721.1v1.7M66.8 736.7v0.7M68.0 724.2v1.5M69.2 716.7v5.2M70.4 723.6v4.5M71.6 734.3v6.8M72.8 724.8v3.7M74.0 722.0v2.0M75.1 716.6v0.5M76.3 719.9v2.2M77.5 714.9v8.7M78.7 713.4v1.1M79.9 718.9v2.0M81.1 719.5v10.2M82.3 718.7v7.6M83.5 720.6v1.8M84.7 731.7v2.4M85.9 720.0v9.7M87.1 727.3v2.9M88.3 722.3v1.9M89.5 718.6v3.7M90.6 726.6v1.0M91.8 725.2v2.4M93.0 726.1v0.7M94.2 730.0v2.4M95.4 720.9v9.4M96.6 728.2v2.7M97.8 720.9v0.2M101.4 727.2v6.5M102.6 727.9v4.1M103.8 723.6v1.3M105.0 725.6v0.3M106.2 738.6v0.6M107.3 721.0v1.6M108.5 717.2v2.4M109.7 716.4v13.7M110.9 719.2v5.1M112.1 722.7v4.4M113.3 724.2v3.7M114.5 723.3v5.3M115.7 723.7v3.3M116.9 721.8v5.5M118.1 729.5v0.8M119.2 735.2v0.7M120.4 728.3v5.9M121.6 719.4v10.2M122.8 716.7v2.4M124.0 723.6v1.9M125.2 715.5v0.8M126.4 720.3v4.7M127.6 720.9v8.7M128.8 726.5v9.2M130.0 733.9v2.5M131.2 723.4v2.2M132.3 722.5v1.8M133.5 722.6v2.7M134.7 727.5v1.6M135.9 718.8v2.1M137.1 729.9v1.6M140.4 718.4v27.0M141.6 723.3v6.1M142.8 716.6v2.4M144.0 718.1v0.5M145.2 727.3v1.2M146.4 734.6v0.4M147.6 738.3v0.5M148.8 726.9v1.8M150.0 713.6v9.0M151.2 715.6v3.9M152.4 716.5v6.2M153.6 718.5v7.6M154.9 722.2v9.1M156.1 721.3v1.9M157.3 718.5v2.5M158.5 721.2v14.2M159.7 715.7v22.5M160.9 719.2v16.1M162.1 726.8v2.0M165.7 733.0v3.6M166.9 726.9v17.9M168.1 721.4v10.8M171.3 711.0v8.4M172.5 710.8v19.8M173.6 714.8v6.9M174.8 719.5v11.9M176.0 720.0v19.5M177.2 725.1v9.0M178.3 720.4v0.9M180.7 721.6v1.3M181.9 719.7v2.3M183.1 720.8v3.7M184.2 724.3v3.3M185.4 717.7v2.3M186.6 713.8v0.5M187.8 715.1v1.0M188.9 721.3v3.5M190.1 716.5v13.2M191.3 721.7v5.8M192.5 723.7v0.9M193.7 720.0v3.1M194.8 722.5v0.9M196.0 717.7v0.7M197.2 712.6v6.2M198.4 713.7v16.4M199.5 713.0v6.2M200.7 718.4v0.7M203.9 732.4v13.1M205.1 728.6v19.1M206.3 724.0v10.2M207.5 725.7v1.8M208.7 716.3v1.7M209.9 714.3v1.3M211.1 714.3v2.0M212.3 725.8v1.8M213.5 722.3v3.6M214.7 729.2v0.6M215.9 726.5v2.0M217.1 719.0v15.7M218.3 721.9v15.2M219.5 723.3v4.0M220.7 726.6v9.5M221.9 726.1v5.0M223.1 718.8v1.6M224.3 721.6v0.4M226.7 721.1v3.1M227.9 717.6v16.6M229.1 722.7v6.5M230.3 720.2v3.7M231.5 735.3v2.5M232.7 728.9v0.9M233.9 724.7v3.2M235.1 713.1v6.9M238.4 719.7v29.0M239.6 725.3v5.3M240.8 725.0v1.7M241.9 724.3v5.5M243.1 728.0v4.8M244.3 720.9v1.4M245.5 716.6v5.6M246.7 729.2v9.8M247.8 722.3v14.5M249.0 720.2v9.2M250.2 717.2v15.8M251.4 712.3v6.2M252.6 717.0v5.2M253.7 722.4v9.1M254.9 719.0v12.0M256.1 726.0v7.1M257.3 722.3v7.6M258.5 722.3v2.0M259.6 720.8v1.2M260.8 728.2v6.1M262.0 731.2v1.5M263.2 723.2v2.1M264.4 740.5v0.8M265.5 729.1v1.5M266.7 717.4v1.0M267.9 715.9v3.8M271.2 719.4v6.6M272.4 721.8v16.2M273.7 721.4v4.7M274.9 720.7v3.7M276.1 731.7v3.2M277.3 721.8v2.4M278.5 721.2v9.7M279.8 720.6v4.8M281.0 726.6v0.8M282.2 725.6v3.3M283.4 721.0v10.2M284.6 714.3v24.4M285.9 717.5v5.9M287.1 731.9v0.3M288.3 720.0v0.2M289.5 721.8v1.6M290.7 722.5v13.1M292.0 721.3v4.2M293.2 720.5v2.9M294.4 716.9v0.8M295.6 713.7v1.2M296.8 720.2v8.9M298.1 727.0v11.2M299.3 717.6v16.9M300.5 712.7v7.3M303.7 734.8v1.8M304.8 717.7v1.9M306.0 721.4v2.0M307.2 722.2v16.7M308.3 717.4v21.7M309.5 721.0v19.5M310.7 725.7v26.1M311.8 721.7v9.3M313.0 727.1v8.4M314.2 732.9v3.6M315.3 731.6v5.6M318.5 708.6v0.5M319.8 708.6v1.8M321.0 708.6v1.2M322.3 708.6v0.6M323.5 708.6v2.0M324.7 708.6v0.7M326.0 708.6v0.8M331.8 708.6v0.3M333.0 708.6v1.5M334.2 708.6v6.3M335.5 708.6v2.8M336.7 708.6v8.1M337.9 708.6v4.5M339.1 708.6v9.4M340.4 708.6v5.8M341.6 708.6v12.5M342.8 708.6v3.6M346.1 709.8v4.4M347.4 712.2v7.3M348.6 711.5v2.7M349.8 709.1v6.3M351.1 709.7v2.3M352.3 711.5v4.8M353.5 714.6v3.3M354.8 710.4v3.0M356.0 711.0v1.0M357.2 710.2v3.0M358.5 708.8v15.9M361.7 708.6v2.9M362.9 708.6v3.3M364.1 708.6v1.3M365.3 708.6v0.8M366.5 708.6v1.2M367.7 708.6v2.0M368.9 708.6v0.9M370.1 708.6v1.6M371.2 708.6v0.5M372.4 708.6v1.2M373.6 708.6v3.3M374.8 708.6v1.8M376.0 708.6v2.1M377.2 708.6v7.4M378.4 708.6v27.1M379.6 708.6v10.6M380.8 708.6v1.1M382.0 708.6v2.5M383.2 708.6v2.7M384.4 708.6v4.7M385.6 708.6v13.3M386.8 708.6v3.9M388.0 708.6v0.4M389.2 708.6v0.7M390.3 708.6v1.0M391.5 708.6v2.1M392.7 708.6v3.5M393.9 708.6v7.7M395.1 708.6v4.7M396.3 708.6v1.0M397.5 708.6v1.4M398.7 708.6v3.3M401.6 708.6v0.2M402.9 708.6v1.1M404.1 708.6v1.6M405.3 708.6v1.9M406.6 708.6v0.5M407.8 708.6v0.7M409.0 708.6v2.4M410.2 708.6v3.2M411.5 708.6v6.4M412.7 708.6v7.8M414.0 708.6v2.2M415.2 708.6v4.1M417.8 709.0v8.6M418.9 708.7v3.6M420.1 708.6v0.7M421.2 708.7v2.0M422.4 709.2v5.1M423.5 710.8v2.0M424.7 710.1v1.3M425.8 712.3v2.9M427.0 709.5v13.4M428.1 708.6v7.6M429.3 708.6v1.5M430.4 708.6v2.0M431.6 708.6v0.8M432.8 708.6v2.6M434.0 708.6v10.1M435.2 708.6v3.7M436.4 708.6v5.9M437.6 708.6v8.4M438.7 708.6v2.2M439.9 708.6v1.3M441.1 708.6v1.5M442.3 708.6v2.1M443.5 708.6v5.4M444.7 708.6v15.8M445.9 708.6v5.8M447.1 708.6v2.2M448.3 708.6v1.9M449.5 708.6v1.7M450.7 708.6v3.7M451.9 708.6v8.5M453.0 708.6v3.9M454.2 708.6v2.5M455.4 708.6v10.2M456.6 708.6v6.4M457.8 708.6v1.7M459.0 708.6v0.7M462.2 708.6v0.5M463.4 708.6v2.1M464.6 708.6v0.7M465.8 708.6v1.1M467.0 708.6v5.1M468.2 708.6v6.0M469.4 708.6v2.3M470.6 708.6v4.3M471.8 708.6v4.5M473.0 708.6v9.0M474.2 708.6v1.4M475.4 708.6v0.9M477.9 709.7v1.7M479.1 712.7v1.0M480.3 710.5v1.2M481.5 710.5v0.5M482.8 712.6v2.6M484.0 715.6v9.9M485.2 713.2v2.2M486.4 715.1v0.8M487.6 720.7v3.5M488.8 716.6v3.9M490.0 712.1v0.8M491.2 717.3v0.2M492.4 711.3v1.0M493.7 714.2v0.7M494.9 712.2v0.3M496.1 717.9v0.7M499.9 709.0v1.3M501.1 709.4v4.6M502.4 710.9v1.6M503.6 710.2v4.2M504.8 715.0v1.3M506.0 709.9v0.3M507.2 710.2v1.2M508.5 713.7v1.0M509.7 711.7v0.7M510.9 711.0v3.2M514.2 708.6v0.3M515.4 708.6v1.8M516.5 708.6v6.0M517.7 708.6v1.4M518.9 708.6v1.5M520.1 708.6v8.1M521.3 708.6v4.4M522.4 708.6v0.8M523.6 708.6v4.0M524.8 708.6v8.3M526.0 708.6v4.2M527.2 708.6v11.6M528.3 708.6v2.7M529.5 708.6v1.8M530.7 708.6v6.9M531.9 708.6v3.9M533.1 708.6v3.6M534.2 708.6v11.2M535.4 708.6v5.6M539.8 708.6v0.5M541.0 708.6v0.2M542.2 708.6v0.5M543.4 708.6v0.6M544.6 708.6v2.7M545.9 708.6v3.3M547.1 708.6v5.3M548.3 708.6v1.9M549.5 708.6v6.4M550.7 708.6v2.1M553.3 708.6v1.5M554.5 708.6v5.1M555.7 708.6v1.4M556.8 708.6v2.3M558.0 708.6v10.5M559.2 708.6v7.6M560.4 708.6v2.0M561.6 708.6v4.4M562.7 708.6v9.7M563.9 708.6v2.5M566.6 708.6v5.9M567.8 708.6v1.0M568.9 708.6v0.5M570.1 708.6v0.6M571.2 708.6v1.5M572.4 708.6v3.5M573.6 708.6v0.8M574.8 708.6v0.6M575.9 708.6v0.7M577.1 708.6v2.8M578.2 708.6v0.8M579.4 708.6v0.3M582.1 708.7v4.8M583.3 708.8v22.1M584.6 709.8v6.9M585.8 709.9v8.1M587.0 708.9v1.9M588.2 708.6v0.4M589.4 708.7v1.9M590.7 708.9v2.2M591.9 708.7v5.1M595.8 723.6v5.0M597.0 734.2v11.3M598.2 739.0v14.5M599.4 722.3v6.4M600.6 715.5v1.5M601.8 725.4v9.1M603.0 723.0v15.6M604.2 732.7v5.0M605.4 731.6v1.1M606.6 718.0v1.6M607.8 726.3v1.4M609.0 735.4v3.8M610.2 717.6v12.5M611.4 716.6v31.1M612.5 711.8v20.4M613.7 714.8v11.1M614.9 722.9v7.3M616.1 722.1v16.2M617.3 720.8v11.7M618.5 716.5v5.5M619.7 714.8v18.9M620.9 723.7v17.9M622.1 729.7v13.3M623.3 720.6v35.1M624.5 716.5v28.3M625.7 727.2v10.3M626.9 722.5v5.5M630.0 708.6v5.3M631.3 708.6v1.6M632.5 708.6v3.3M633.8 708.6v9.0M635.0 708.6v1.5M636.3 708.6v1.1M637.6 708.6v11.5M638.8 708.6v25.5M640.1 708.6v6.6" stroke="#e67dfa" stroke-width="1.35"/>
<path d="M34.3 725.4v2.1M35.5 731.2v1.6M36.7 731.6v7.7M37.9 731.6v6.9M39.1 735.0v3.5M40.3 720.5v4.6M41.5 724.1v2.2M42.7 734.9v0.7M43.9 728.0v1.7M45.1 716.6v0.5M46.3 718.4v0.4M47.5 725.5v1.7M48.7 728.6v0.9M49.9 733.1v2.2M51.1 738.5v0.7M52.3 728.7v5.7M53.5 728.9v7.9M54.7 735.2v3.5M55.9 729.0v12.5M57.1 728.8v3.9M58.3 732.5v0.9M59.5 742.4v1.9M60.7 739.7v1.4M61.9 726.5v1.8M63.1 722.9v0.5M66.8 737.3v5.3M68.0 725.7v3.4M69.2 721.9v0.4M70.4 728.1v0.6M71.6 741.1v0.7M72.8 728.5v0.6M74.0 724.0v3.5M75.1 717.0v8.2M76.3 722.0v2.4M77.5 723.6v0.4M79.9 721.0v0.2M81.1 729.8v1.4M82.3 726.3v6.6M83.5 722.4v2.9M84.7 734.1v1.6M85.9 729.7v2.2M87.1 730.3v2.4M88.3 724.2v11.1M89.5 722.2v8.0M90.6 727.6v2.4M91.8 727.6v2.7M93.0 726.8v1.6M94.2 732.4v1.1M95.4 730.3v0.6M96.6 730.9v0.6M97.8 721.1v1.3M101.4 733.6v0.2M102.6 732.0v2.0M103.8 724.9v0.6M105.0 725.9v0.9M106.2 739.2v0.7M107.3 722.6v1.9M108.5 719.7v1.7M109.7 730.1v0.9M110.9 724.3v2.4M112.1 727.1v1.8M113.3 727.9v4.4M114.5 728.6v3.9M115.7 727.0v1.4M116.9 727.3v3.4M118.1 730.3v0.8M119.2 735.9v2.4M120.4 734.1v1.6M121.6 729.6v5.1M122.8 719.1v2.0M124.0 725.5v0.6M125.2 716.3v0.6M126.4 725.0v1.0M127.6 729.6v0.8M128.8 735.7v1.5M130.0 736.5v1.8M131.2 725.6v2.2M132.3 724.3v6.7M133.5 725.3v6.0M134.7 729.1v3.0M135.9 720.9v1.1M137.1 731.5v6.3M140.4 745.4v0.3M141.6 729.5v0.3M142.8 719.0v0.3M145.2 728.4v0.8M146.4 735.1v2.4M147.6 738.9v0.3M151.2 719.6v0.4M152.4 722.7v1.3M153.6 726.1v0.7M154.9 731.3v0.6M156.1 723.2v1.4M157.3 721.0v1.3M158.5 735.3v0.9M159.7 738.2v1.2M160.9 735.3v1.3M162.1 728.8v0.4M163.3 721.7v1.4M164.5 725.3v2.9M165.7 736.6v1.1M166.9 744.8v0.4M171.3 719.4v0.3M172.5 730.6v1.9M173.6 721.7v2.4M174.8 731.4v0.5M176.0 739.5v0.4M177.2 734.1v0.4M178.3 721.3v0.2M179.5 718.0v1.0M180.7 722.9v3.5M181.9 722.0v9.9M183.1 724.4v2.4M184.2 727.6v1.0M185.4 720.0v5.4M186.6 714.4v1.4M187.8 716.0v1.6M188.9 724.8v1.9M190.1 729.7v0.7M191.3 727.5v0.7M192.5 724.6v0.5M193.7 723.1v1.9M194.8 723.4v0.3M197.2 718.8v0.6M198.4 730.1v0.4M200.7 719.1v0.2M203.9 745.6v1.5M205.1 747.7v0.6M206.3 734.2v0.9M207.5 727.5v2.6M208.7 718.0v1.2M209.9 715.6v1.8M211.1 716.3v0.5M212.3 727.6v0.5M213.5 725.8v1.9M214.7 729.7v1.2M215.9 728.5v0.5M217.1 734.7v1.5M218.3 737.1v1.4M219.5 727.3v1.2M220.7 736.1v6.9M221.9 731.1v2.3M224.3 722.0v0.2M225.5 731.6v1.0M226.7 724.2v4.5M227.9 734.2v1.0M229.1 729.2v0.9M230.3 723.9v4.0M231.5 737.8v1.1M232.7 729.8v0.3M233.9 727.9v0.2M235.1 719.9v0.6M238.4 748.7v3.1M239.6 730.6v2.2M240.8 726.6v0.5M241.9 729.8v0.7M243.1 732.8v0.3M244.3 722.3v0.9M245.5 722.1v4.5M246.7 739.0v1.6M247.8 736.8v4.0M249.0 729.4v2.9M250.2 733.1v6.9M251.4 718.6v2.2M252.6 722.2v0.7M253.7 731.5v0.2M254.9 731.1v0.8M256.1 733.1v0.8M257.3 729.9v0.8M258.5 724.3v1.4M259.6 722.1v1.7M260.8 734.3v0.5M262.0 732.7v0.2M263.2 725.3v0.5M264.4 741.3v3.1M265.5 730.6v3.6M266.7 718.3v1.7M267.9 719.7v3.3M271.2 726.0v1.0M272.4 738.0v3.0M273.7 726.1v0.9M274.9 724.4v0.6M276.1 734.9v1.7M277.3 724.2v5.1M278.5 730.8v0.8M279.8 725.4v0.9M281.0 727.4v2.6M282.2 728.9v1.5M283.4 731.2v2.2M284.6 738.6v1.6M285.9 723.5v6.3M287.1 732.2v2.5M288.3 720.2v0.6M289.5 723.4v1.7M290.7 735.6v1.7M292.0 725.5v0.2M293.2 723.4v0.5M294.4 717.7v2.1M295.6 714.8v1.2M296.8 729.1v1.4M298.1 738.2v4.6M299.3 734.5v1.1M300.5 719.9v1.2M303.7 736.6v8.7M304.8 719.6v2.8M306.0 723.4v7.0M307.2 739.0v11.8M308.3 739.1v1.7M309.5 740.6v4.2M310.7 751.8v0.9M311.8 731.0v2.3M313.0 735.5v10.1M314.2 736.6v3.4M315.3 737.2v0.2M318.5 709.1v6.4M319.8 710.4v4.4M321.0 709.8v6.1M322.3 709.2v2.2M323.5 710.6v4.0M324.7 709.3v4.5M326.0 709.4v4.4M327.2 708.7v1.6M328.5 708.6v1.3M361.7 711.5v2.5M362.9 711.9v0.5M364.1 709.9v0.2M365.3 709.4v1.1M366.5 709.8v4.2M367.7 710.6v1.3M368.9 709.5v0.8M370.1 710.2v2.0M371.2 709.1v0.7M372.4 709.8v2.4M373.6 711.9v0.8M376.0 710.7v0.3M377.2 716.0v1.8M378.4 735.7v0.8M379.6 719.2v0.5M380.8 709.7v0.7M382.0 711.1v2.9M383.2 711.3v1.5M384.4 713.3v0.3M385.6 721.9v0.2M386.8 712.5v0.8M388.0 709.0v0.4M389.2 709.3v0.4M390.3 709.6v0.2M391.5 710.7v0.6M392.7 712.1v0.2M393.9 716.3v0.2M397.5 710.0v0.3M398.7 711.9v0.3M401.6 708.8v0.7M402.9 709.7v0.2M404.1 710.2v0.5M405.3 710.5v0.4M406.6 709.1v2.2M407.8 709.3v3.5M409.0 711.0v0.6M410.2 711.8v0.4M411.5 715.0v0.7M412.7 716.4v0.9M414.0 710.8v2.5M415.2 712.7v0.5M431.6 709.4v0.6M432.8 711.2v1.7M434.0 718.7v1.0M435.2 712.3v1.1M436.4 714.5v0.4M437.6 717.0v0.7M438.7 710.8v1.4M439.9 709.9v1.0M441.1 710.1v1.0M442.3 710.7v4.8M443.5 714.0v1.9M444.7 724.4v3.2M445.9 714.4v0.6M447.1 710.8v0.4M448.3 710.5v2.2M449.5 710.3v1.9M450.7 712.3v2.7M451.9 717.1v9.1M453.0 712.5v9.2M454.2 711.1v2.2M455.4 718.8v3.6M456.6 715.0v2.0M457.8 710.3v0.6M462.2 709.1v4.4M463.4 710.7v1.1M464.6 709.3v0.2M469.4 710.9v0.3M470.6 712.9v1.3M471.8 713.1v1.8M473.0 717.6v2.4M474.2 710.0v0.7M475.4 709.5v0.9M479.1 713.8v0.6M480.3 711.7v0.4M481.5 711.0v1.8M482.8 715.2v1.2M484.0 725.5v0.9M485.2 715.5v0.4M486.4 715.9v0.2M487.6 724.1v0.5M488.8 720.5v0.8M490.0 712.9v2.6M491.2 717.4v6.0M492.4 712.3v1.4M493.7 714.8v1.1M494.9 712.5v4.9M496.1 718.6v3.5M497.3 712.8v9.0M538.6 708.7v14.5M539.8 709.1v2.6M541.0 708.8v0.7M542.2 709.1v1.8M543.4 709.2v1.1M544.6 711.3v2.5M545.9 711.9v2.0M547.1 713.9v4.3M548.3 710.5v13.6M549.5 715.0v3.1M550.7 710.7v0.2M566.6 714.5v0.8M567.8 709.6v1.4M568.9 709.1v6.9M570.1 709.2v3.9M571.2 710.1v0.6M572.4 712.1v0.6M573.6 709.4v0.2M574.8 709.2v0.2M575.9 709.3v0.2M577.1 711.4v1.3M578.2 709.4v1.2M579.4 708.9v2.1M630.0 713.9v8.5M631.3 710.2v5.4M632.5 711.9v2.6M633.8 717.6v0.6M635.0 710.1v3.5M636.3 709.7v17.1M637.6 720.1v5.6M638.8 734.1v0.8M640.1 715.2v0.2M695.1 776.5v0.4M704.5 776.4v0.5M705.7 776.5v0.4M706.9 776.7v0.2" stroke="#78e6ee" stroke-width="1.35"/>
<path d="M140.4 745.6v8.6M141.6 729.8v17.6M142.8 719.3v14.3M144.0 718.7v6.8M145.2 729.2v9.4M146.4 737.5v5.7M147.6 739.2v12.1M148.8 728.6v30.8M150.0 722.6v9.6M151.2 720.0v16.0M152.4 724.1v4.3M153.6 726.8v10.5M154.9 731.9v10.2M156.1 724.6v8.4M157.3 722.3v9.9M158.5 736.3v6.4M159.7 739.4v10.3M160.9 736.6v5.3M162.1 729.2v10.6M163.3 723.1v8.6M164.5 728.1v23.8M165.7 737.7v14.9M166.9 745.2v14.6M168.1 732.2v3.8M303.7 745.3v12.1M304.8 722.4v31.5M306.0 730.3v23.3M307.2 750.7v10.4M308.3 740.8v4.3M309.5 744.8v6.8M310.7 752.7v11.8M311.8 733.3v12.0M313.0 745.6v7.3M314.2 739.9v16.3M315.3 737.4v22.4M713.6 768.4v0.2M714.8 766.9v0.2M716.0 755.1v0.5M717.2 757.5v1.7M718.4 751.7v3.7M719.6 766.3v2.8M720.8 759.9v1.9M722.0 769.9v2.5M723.2 766.1v8.7M724.4 763.7v3.9M725.6 765.0v5.1M726.7 762.4v8.1M727.9 761.4v7.3M729.1 753.8v2.4M730.3 762.5v1.4M731.5 759.4v0.4M732.7 767.9v0.2M733.9 765.4v0.3M735.1 770.9v0.2M736.3 773.8v0.7M737.5 765.6v1.5M738.7 764.0v5.4" stroke="#32eb0a" stroke-width="1.35"/>
<path d="M643.2 775.2v1.7M644.4 774.7v2.2M645.6 773.6v3.3M646.8 776.1v0.8M648.0 776.1v0.8M649.2 772.8v4.1M650.5 775.9v1.0M651.7 776.6v0.3M652.9 776.5v0.4M654.1 775.4v1.5M655.3 774.3v2.6M656.5 776.4v0.5M659.6 776.5v0.4M660.8 774.9v2.0M662.0 774.9v2.0M663.3 775.4v1.5M664.5 776.7v0.2M665.7 776.6v0.3M666.9 775.9v1.0M668.1 775.8v1.1M669.3 773.3v3.6M670.6 774.2v2.7M671.8 768.6v8.3M673.0 774.5v2.4M674.2 771.9v5.0M675.4 775.6v1.3M679.1 776.4v0.5M684.3 774.4v2.4M685.6 775.2v1.5M686.9 771.8v4.5M688.1 773.0v0.8M713.6 768.6v2.3M714.8 767.1v0.7M716.0 755.6v2.0M717.2 759.2v13.6M718.4 755.4v19.7M719.6 769.1v6.5M720.8 761.9v11.5M722.0 772.5v3.4M723.2 774.8v2.0M724.4 767.6v8.4M725.6 770.1v2.8M726.7 770.4v0.5M727.9 768.7v6.8M729.1 756.2v20.2M730.3 763.9v8.7M731.5 759.8v15.4M732.7 768.1v4.2M733.9 765.7v9.8M735.1 771.2v2.4M736.3 774.5v1.5M737.5 767.1v7.6M738.7 769.4v1.4M742.3 771.7v5.1M743.5 768.5v8.3M744.7 773.6v3.0M745.9 769.5v6.9M747.0 772.9v0.9M748.2 764.7v0.7M749.4 767.0v5.9M750.6 769.3v4.6M751.8 772.0v4.0M753.0 773.0v3.0M754.2 775.7v0.4M756.5 776.6v0.3M757.7 775.4v1.5M758.9 775.9v0.6" stroke="#ccff00" stroke-width="1.35"/>
<path d="M34.3 773.2v0.5M35.5 772.1v2.0M36.7 766.7v6.9M37.9 772.3v2.1M39.1 769.8v2.9M40.3 771.0v3.7M41.5 763.0v4.3M42.7 757.0v10.2M43.9 764.8v6.8M45.1 751.7v20.2M46.3 764.8v10.6M47.5 765.4v9.5M48.7 768.5v4.2M49.9 762.3v2.0M51.1 768.2v4.6M52.3 759.4v10.1M53.5 761.8v2.8M54.7 765.0v4.1M55.9 769.9v1.5M57.1 772.2v2.2M58.3 772.4v1.4M59.5 769.0v3.1M60.7 767.4v2.9M61.9 771.0v2.8M63.1 770.5v2.6M66.8 771.1v5.2M68.0 773.1v1.5M69.2 767.7v2.0M70.4 764.9v5.6M71.6 772.6v3.3M72.8 773.0v1.9M74.0 770.2v5.4M75.1 773.0v1.6M76.3 768.3v1.2M77.5 765.9v1.2M78.7 758.0v3.7M79.9 768.4v1.0M81.1 771.3v2.3M82.3 762.1v4.1M83.5 753.3v3.3M84.7 760.2v0.8M85.9 754.5v2.4M87.1 762.5v2.8M88.3 762.7v1.2M89.5 769.6v0.3M90.6 766.8v0.4M91.8 769.2v2.3M93.0 764.7v2.9M94.2 760.9v6.7M95.4 766.8v3.5M96.6 761.7v4.9M97.8 764.3v6.3M101.4 743.4v32.9M102.6 761.6v13.4M103.8 754.6v16.3M105.0 750.4v24.4M106.2 768.1v7.7M107.3 770.1v4.8M108.5 755.2v18.4M109.7 757.5v17.4M110.9 755.2v20.4M112.1 759.8v13.7M113.3 762.5v12.8M114.5 754.4v21.3M115.7 748.7v23.1M116.9 757.8v13.1M118.1 757.6v17.0M119.2 767.5v6.0M120.4 766.1v9.8M121.6 755.9v19.3M122.8 740.3v35.8M124.0 758.7v15.1M125.2 742.3v31.2M126.4 753.0v19.8M127.6 761.8v9.2M128.8 761.2v12.9M130.0 762.5v7.1M131.2 767.1v7.5M132.3 761.9v14.1M133.5 743.8v31.0M134.7 756.6v15.1M135.9 765.8v1.7M137.1 768.7v6.0M171.3 773.4v3.5M172.5 768.5v8.4M173.6 761.2v15.7M174.8 769.1v7.8M176.0 774.6v2.3M177.2 775.8v1.1M178.3 776.3v0.6M179.5 773.0v3.9M180.7 762.9v14.0M181.9 770.9v6.0M183.1 774.6v2.3M184.2 775.3v1.6M185.4 771.7v5.2M186.6 775.6v1.3M187.8 775.7v1.2M188.9 774.3v2.6M190.1 776.1v0.8M191.3 773.6v3.3M192.5 771.8v5.1M193.7 775.2v1.7M194.8 774.4v2.5M196.0 775.7v1.2M197.2 775.7v1.2M198.4 775.1v1.8M199.5 775.8v1.1M200.7 773.7v3.2M203.9 758.6v12.3M205.1 759.8v14.1M206.3 761.7v4.8M207.5 746.8v6.3M208.7 732.9v11.2M209.9 737.8v2.9M211.1 737.1v2.3M212.3 763.0v4.3M213.5 758.4v11.2M214.7 769.8v2.3M215.9 773.6v0.6M217.1 770.0v3.0M218.3 768.8v3.0M219.5 756.5v1.7M220.7 769.0v0.7M221.9 761.8v2.8M223.1 762.7v1.3M224.3 771.9v1.2M225.5 770.2v4.9M226.7 768.5v5.6M227.9 773.5v2.1M229.1 769.5v4.7M230.3 764.9v6.7M231.5 768.4v2.2M232.7 763.0v3.6M233.9 767.8v4.1M235.1 759.1v13.8M238.4 772.9v2.3M239.6 771.6v1.3M240.8 772.7v2.3M241.9 767.4v5.7M243.1 770.7v3.1M244.3 766.8v9.1M245.5 771.2v4.2M246.7 774.3v1.9M247.8 768.6v5.6M249.0 762.2v2.3M250.2 771.0v3.1M251.4 772.1v4.3M252.6 771.2v5.1M253.7 773.9v2.6M254.9 770.7v4.8M256.1 764.2v3.3M257.3 760.6v10.4M258.5 763.6v4.1M259.6 759.3v1.2M260.8 764.3v4.7M262.0 768.1v4.7M263.2 758.5v5.2M264.4 766.8v1.7M265.5 766.2v6.4M266.7 765.6v8.5M267.9 766.4v7.9M271.2 751.9v6.7M272.4 772.9v1.0M273.7 765.4v3.8M274.9 760.3v11.3M276.1 765.1v5.1M277.3 751.4v1.7M278.5 757.5v6.8M279.8 761.8v8.5M281.0 766.9v1.7M282.2 760.2v5.0M283.4 759.7v13.1M284.6 766.3v3.0M285.9 771.4v0.4M287.1 758.9v2.3M288.3 767.6v3.7M289.5 769.1v2.5M290.7 772.6v1.8M292.0 769.3v4.3M293.2 766.8v2.8M294.4 768.3v0.7M295.6 764.5v2.6M296.8 756.8v11.6M298.1 762.7v2.7M299.3 768.3v2.5M300.5 761.8v2.0" stroke="#d2fc10" stroke-width="1.35"/>
<path d="M34.3 773.7v3.2M35.5 774.0v2.9M36.7 773.6v3.3M37.9 774.4v2.5M39.1 772.7v4.2M40.3 774.7v2.2M41.5 767.3v9.6M42.7 767.3v9.6M43.9 771.6v5.3M45.1 771.9v5.0M46.3 775.4v1.5M47.5 775.0v1.9M48.7 772.6v4.3M49.9 764.4v12.5M51.1 772.8v4.1M52.3 769.5v7.4M53.5 764.6v12.3M54.7 769.1v7.8M55.9 771.4v5.5M57.1 774.4v2.5M58.3 773.8v3.1M59.5 772.1v4.8M60.7 770.3v6.6M61.9 773.8v3.1M63.1 773.1v3.8M66.8 776.2v0.7M68.0 774.5v2.4M69.2 769.7v7.2M70.4 770.5v6.4M71.6 775.9v1.0M72.8 774.9v2.0M74.0 775.6v1.3M75.1 774.5v2.4M76.3 769.5v7.4M77.5 767.1v9.8M78.7 761.7v15.2M79.9 769.4v7.5M81.1 773.6v3.3M82.3 766.1v10.8M83.5 756.6v20.3M84.7 761.1v15.8M85.9 756.9v20.0M87.1 765.3v11.6M88.3 764.0v12.9M89.5 769.9v7.0M90.6 767.2v9.7M91.8 771.5v5.4M93.0 767.5v9.4M94.2 767.7v9.2M95.4 770.3v6.6M96.6 766.6v10.3M97.8 770.6v6.3M101.4 776.3v0.6M102.6 775.0v1.9M103.8 770.9v6.0M105.0 774.8v2.1M106.2 775.8v1.1M107.3 774.9v2.0M108.5 773.6v3.3M109.7 774.9v2.0M110.9 775.6v1.3M112.1 773.5v3.4M113.3 775.3v1.6M114.5 775.7v1.2M115.7 771.9v5.0M116.9 770.9v6.0M118.1 774.7v2.2M119.2 773.5v3.4M120.4 775.9v1.0M121.6 775.2v1.7M122.8 776.2v0.7M124.0 773.9v3.0M125.2 773.6v3.3M126.4 772.8v4.1M127.6 771.0v5.9M128.8 774.1v2.8M130.0 769.6v7.3M131.2 774.6v2.3M132.3 776.0v0.9M133.5 774.8v2.1M134.7 771.7v5.2M135.9 767.6v9.3M137.1 774.7v2.2M203.9 770.9v6.0M205.1 773.8v3.1M206.3 766.5v10.4M207.5 753.1v23.8M208.7 744.1v32.8M209.9 740.7v36.2M211.1 739.5v37.4M212.3 767.3v9.6M213.5 769.6v7.3M214.7 772.2v4.7M215.9 774.1v2.8M217.1 773.0v3.9M218.3 771.9v5.0M219.5 758.1v18.8M220.7 769.6v7.3M221.9 764.6v12.3M223.1 764.0v12.9M224.3 773.0v3.9M225.5 775.1v1.8M226.7 774.1v2.8M227.9 775.6v1.3M229.1 774.2v2.7M230.3 771.6v5.3M231.5 770.6v6.3M232.7 766.6v10.3M233.9 771.9v5.0M235.1 772.8v4.1M238.4 775.2v1.7M239.6 772.9v4.0M240.8 775.0v1.9M241.9 773.1v3.8M243.1 773.8v3.1M244.3 775.8v1.1M245.5 775.3v1.6M246.7 776.2v0.7M247.8 774.1v2.8M249.0 764.5v12.4M250.2 774.1v2.8M251.4 776.4v0.5M252.6 776.3v0.6M253.7 776.5v0.4M254.9 775.5v1.4M256.1 767.5v9.4M257.3 771.0v5.9M258.5 767.7v9.2M259.6 760.4v16.5M260.8 769.0v7.9M262.0 772.7v4.2M263.2 763.7v13.2M264.4 768.6v8.3M265.5 772.6v4.3M266.7 774.2v2.7M267.9 774.3v2.6M271.2 758.6v18.0M272.4 773.9v2.5M273.7 769.2v5.8M274.9 771.6v5.0M276.1 770.2v6.6M277.3 753.1v22.7M278.5 764.2v7.7M279.8 770.3v5.0M281.0 768.7v7.7M282.2 765.2v11.4M283.4 772.8v3.5M284.6 769.3v7.3M285.9 771.9v4.9M287.1 761.3v15.0M288.3 771.2v4.6M289.5 771.6v4.8M290.7 774.3v2.1M292.0 773.6v1.8M293.2 769.6v2.0M294.4 769.1v2.3M295.6 767.1v7.4M296.8 768.4v7.5M298.1 765.4v10.4M299.3 770.9v5.2M300.5 763.8v12.9M303.7 773.6v3.3M304.8 775.9v1.0M307.2 776.4v0.5M308.3 775.4v1.5M309.5 775.8v1.1M310.7 776.4v0.5M311.8 776.5v0.4M313.0 776.2v0.7M314.2 773.7v3.2M315.3 776.0v0.9" stroke="#41affa" stroke-width="1.35"/>
<path d="M271.2 776.6v0.3M272.4 776.4v0.5M273.7 774.9v2.0M274.9 776.6v0.3M277.3 775.8v1.1M278.5 772.0v4.9M279.8 775.2v1.7M281.0 776.4v0.5M282.2 776.6v0.3M283.4 776.3v0.6M284.6 776.6v0.3M285.9 776.7v0.2M287.1 776.3v0.6M288.3 775.8v1.1M289.5 776.4v0.5M290.7 776.4v0.5M292.0 775.4v1.5M293.2 771.6v5.3M294.4 771.4v5.5M295.6 774.5v2.4M296.8 775.9v1.0M298.1 775.8v1.1M299.3 776.1v0.8M300.5 776.7v0.2M685.6 776.7v0.2M686.9 776.3v0.6M688.1 773.8v3.1M689.4 775.6v1.3M713.6 770.9v6.0M714.8 767.8v9.1M716.0 757.6v19.3M717.2 772.8v4.1M718.4 775.2v1.7M719.6 775.6v1.3M720.8 773.3v3.6M722.0 775.9v1.0M724.4 776.0v0.9M725.6 772.9v4.0M726.7 771.0v5.9M727.9 775.5v1.4M729.1 776.4v0.5M730.3 772.6v4.3M731.5 775.2v1.7M732.7 772.3v4.6M733.9 775.5v1.4M735.1 773.5v3.4M736.3 776.0v0.9M737.5 774.7v2.2M738.7 770.9v6.0M743.5 776.7v0.2M744.7 776.7v0.2M745.9 776.4v0.5M747.0 773.9v3.0M748.2 765.4v11.5M749.4 772.9v4.0M750.6 773.9v3.0M751.8 776.0v0.9M753.0 776.0v0.9M754.2 776.1v0.8M755.3 776.7v0.2M758.9 776.4v0.5M762.3 776.5v0.4M763.5 776.5v0.4" stroke="#ff8048" stroke-width="1.35"/>
</g>
<g filter="url(#bl2)"><rect x="31.5" y="705.5" width="742.5" height="3.1" fill="#000"/><rect x="31.5" y="776.9" width="742.5" height="3.6" fill="#000"/><rect x="31.5" y="705.5" width="2.2" height="75.0" fill="#000"/><rect x="771.4" y="705.5" width="2.6" height="75.0" fill="#000"/><rect x="63.7" y="705.5" width="2.5" height="75.0" fill="#000"/><rect x="98.4" y="705.5" width="2.4" height="75.0" fill="#000"/><rect x="137.7" y="705.5" width="2.1" height="75.0" fill="#000"/><rect x="168.7" y="705.5" width="2.0" height="75.0" fill="#000"/><rect x="201.3" y="705.5" width="2.0" height="75.0" fill="#000"/><rect x="235.7" y="705.5" width="2.1" height="75.0" fill="#000"/><rect x="268.5" y="705.5" width="2.1" height="75.0" fill="#000"/><rect x="301.1" y="705.5" width="2.0" height="75.0" fill="#000"/><rect x="315.9" y="705.5" width="2.0" height="75.0" fill="#000"/><rect x="329.1" y="705.5" width="2.1" height="75.0" fill="#000"/><rect x="343.4" y="705.5" width="2.1" height="75.0" fill="#000"/><rect x="359.1" y="705.5" width="2.0" height="75.0" fill="#000"/><rect x="399.3" y="705.5" width="1.7" height="75.0" fill="#000"/><rect x="415.2" y="705.5" width="2.0" height="75.0" fill="#000"/><rect x="459.6" y="705.5" width="2.0" height="75.0" fill="#000"/><rect x="476.0" y="705.5" width="1.3" height="75.0" fill="#000"/><rect x="497.9" y="705.5" width="1.4" height="75.0" fill="#000"/><rect x="511.5" y="705.5" width="2.1" height="75.0" fill="#000"/><rect x="536.0" y="705.5" width="2.0" height="75.0" fill="#000"/><rect x="551.3" y="705.5" width="1.4" height="75.0" fill="#000"/><rect x="564.5" y="705.5" width="1.5" height="75.0" fill="#000"/><rect x="580.0" y="705.5" width="1.5" height="75.0" fill="#000"/><rect x="592.5" y="705.5" width="2.7" height="75.0" fill="#000"/><rect x="627.5" y="705.5" width="1.9" height="75.0" fill="#000"/><rect x="640.7" y="705.5" width="1.9" height="75.0" fill="#000"/><rect x="657.1" y="705.5" width="1.9" height="75.0" fill="#000"/><rect x="680.9" y="705.5" width="2.8" height="75.0" fill="#000"/><rect x="691.3" y="705.5" width="2.0" height="75.0" fill="#000"/><rect x="711.0" y="705.5" width="2.0" height="75.0" fill="#000"/><rect x="739.3" y="705.5" width="2.4" height="75.0" fill="#000"/><rect x="759.5" y="705.5" width="2.2" height="75.0" fill="#000"/><rect x="405.5" y="705.5" width="1" height="75.0" fill="#1a2a00" opacity="0.8"/><rect x="420.8" y="705.5" width="1" height="75.0" fill="#1a2a00" opacity="0.8"/><rect x="433.7" y="705.5" width="1" height="75.0" fill="#1a2a00" opacity="0.8"/><rect x="473.2" y="705.5" width="1" height="75.0" fill="#1a2a00" opacity="0.8"/><rect x="484.0" y="705.5" width="1" height="75.0" fill="#1a2a00" opacity="0.8"/><rect x="524.5" y="705.5" width="1" height="75.0" fill="#1a2a00" opacity="0.8"/><polygon points="428.4,756.0 431.6,756.0 431.6,773.5 430.1,773.5" fill="#000"/><polygon points="639.2,756.0 641.2,756.0 641.6,775.0 640.8,775.0" fill="#000"/><polygon points="430.0,705.5 431.8,705.5 431.8,756.5 430.0,756.5" fill="#000"/></g>
<rect x="31.5" y="703" width="742.5" height="2.6" fill="#b4b9b9"/>
<rect x="34" y="42.5" width="736" height="3.5" fill="#f3f7f0"/>
<rect x="33" y="223.8" width="738" height="3" fill="#f3f5f2"/>
<g font-family="Liberation Sans, sans-serif" text-anchor="end" fill="#000" stroke="#000" stroke-width="0.22" filter="url(#bt)">
<text transform="translate(53.8 124.4) rotate(-90)" font-size="16.3">Bantu</text>
<text transform="translate(77.0 128.3) rotate(-90)" font-size="16.3">Biaka</text>
<text transform="translate(109.0 125.5) rotate(-90)" font-size="16.3">Mandenka</text>
<text transform="translate(138.0 131.0) rotate(-90)" font-size="16.3">Mbuti</text>
<text transform="translate(155.5 128.5) rotate(-90)" font-size="16.3">San</text>
<text transform="translate(178.0 127.9) rotate(-90)" font-size="16.3">Yoruba</text>
<text transform="translate(234.2 127.2) rotate(-90)" font-size="16.3">Bedouin</text>
<text transform="translate(315.1 128.1) rotate(-90)" font-size="16.3">Druze</text>
<text transform="translate(379.6 127.6) rotate(-90)" font-size="16.3">Mozabite</text>
<text transform="translate(447.6 126.8) rotate(-90)" font-size="16.3">Palestinian</text>
<text transform="translate(507.5 128.5) rotate(-90)" font-size="16.3">Adygei</text>
<text transform="translate(549.0 128.1) rotate(-90)" font-size="16.3">Basque</text>
<text transform="translate(595.0 127.7) rotate(-90)" font-size="16.3">French</text>
<text transform="translate(633.2 128.2) rotate(-90)" font-size="16.3">Italian</text>
<text transform="translate(657.0 126.8) rotate(-90)" font-size="16.3">Orcadian</text>
<text transform="translate(689.0 125.7) rotate(-90)" font-size="16.3">Russian</text>
<text transform="translate(733.2 127.3) rotate(-90)" font-size="16.3">Sardinian</text>
<text transform="translate(768.2 129.3) rotate(-90)" font-size="16.3">Tuscan</text>
<text transform="translate(52.3 307.2) rotate(-90)" font-size="16.3">Balochi</text>
<text transform="translate(78.4 307.2) rotate(-90)" font-size="16.3">Brahui</text>
<text transform="translate(103.3 307.6) rotate(-90)" font-size="16.3">Burusho</text>
<text transform="translate(134.4 307.0) rotate(-90)" font-size="16.3">Hazara</text>
<text transform="translate(162.5 305.9) rotate(-90)" font-size="16.3">Kalash</text>
<text transform="translate(197.2 306.7) rotate(-90)" font-size="16.3">Makrani</text>
<text transform="translate(227.0 308.4) rotate(-90)" font-size="16.3">Pathan</text>
<text transform="translate(258.6 307.2) rotate(-90)" font-size="16.3">Sindhi</text>
<text transform="translate(279.5 310.8) rotate(-90)" font-size="16.3">Uygur</text>
<text transform="translate(294.0 307.5) rotate(-90)" font-size="16.3">Cambodian</text>
<text transform="translate(311.6 315.0) rotate(-90)" font-size="16.3">Dai</text>
<text transform="translate(323.2 313.3) rotate(-90)" font-size="16.3">Daur</text>
<text transform="translate(358.9 311.2) rotate(-90)" font-size="16.3">Han</text>
<text transform="translate(389.4 307.9) rotate(-90)" font-size="16.3">N. Han</text>
<text transform="translate(408.0 307.5) rotate(-90)" font-size="16.3">Hezhen</text>
<text transform="translate(439.0 305.4) rotate(-90)" font-size="16.3">Japanese</text>
<text transform="translate(625.0 305.5) rotate(-90)" font-size="16.3">Melanesian</text>
<text transform="translate(647.3 305.0) rotate(-90)" font-size="16.3">Papuan</text>
<text transform="translate(666.2 305.9) rotate(-90)" font-size="16.3">Colombian</text>
<text transform="translate(685.0 306.8) rotate(-90)" font-size="16.3">Karitiana</text>
<text transform="translate(717.8 308.4) rotate(-90)" font-size="16.3">Maya</text>
<text transform="translate(750.0 310.0) rotate(-90)" font-size="16.3">Pima</text>
<text transform="translate(768.0 308.1) rotate(-90)" font-size="16.3">Surui</text>
<text transform="translate(458.2 310.2) rotate(-90)" font-size="13.0">Lahu</text>
<text transform="translate(471.6 308.7) rotate(-90)" font-size="13.0">Miaozu</text>
<text transform="translate(484.0 311.1) rotate(-90)" font-size="13.0">Mongola</text>
<text transform="translate(495.5 309.2) rotate(-90)" font-size="13.0">Oroqen</text>
<text transform="translate(507.6 309.1) rotate(-90)" font-size="13.0">Naxi</text>
<text transform="translate(521.0 308.0) rotate(-90)" font-size="13.0">She</text>
<text transform="translate(535.7 308.6) rotate(-90)" font-size="13.0">Tu</text>
<text transform="translate(545.8 312.3) rotate(-90)" font-size="13.0">Tujia</text>
<text transform="translate(563.7 309.8) rotate(-90)" font-size="13.0">Xibo</text>
<text transform="translate(584.0 309.9) rotate(-90)" font-size="13.0">Yakut</text>
<text transform="translate(608.3 308.1) rotate(-90)" font-size="13.0">Yizu</text>
<text transform="translate(55.5 607.2) rotate(-90)" font-size="16.3">Bantu</text>
<text transform="translate(91.9 607.5) rotate(-90)" font-size="16.3">Biaka</text>
<text transform="translate(129.4 607.0) rotate(-90)" font-size="16.3">Mandenka</text>
<text transform="translate(161.0 609.2) rotate(-90)" font-size="16.3">Mbuti</text>
<text transform="translate(177.8 606.4) rotate(-90)" font-size="16.3">San</text>
<text transform="translate(205.3 605.8) rotate(-90)" font-size="16.3">Yoruba</text>
<text transform="translate(263.2 604.7) rotate(-90)" font-size="16.3">Bedouin</text>
<text transform="translate(338.9 604.3) rotate(-90)" font-size="16.3">Druze</text>
<text transform="translate(396.7 605.1) rotate(-90)" font-size="16.3">Mozabite</text>
<text transform="translate(463.7 604.7) rotate(-90)" font-size="16.3">Palestinian</text>
<text transform="translate(518.0 608.0) rotate(-90)" font-size="16.3">Adygei</text>
<text transform="translate(552.5 605.9) rotate(-90)" font-size="16.3">Basque</text>
<text transform="translate(599.4 605.2) rotate(-90)" font-size="16.3">French</text>
<text transform="translate(638.0 608.0) rotate(-90)" font-size="16.3">Italian</text>
<text transform="translate(661.2 603.9) rotate(-90)" font-size="16.3">Orcadian</text>
<text transform="translate(692.0 604.7) rotate(-90)" font-size="16.3">Russian</text>
<text transform="translate(740.9 605.4) rotate(-90)" font-size="16.3">Sardinian</text>
<text transform="translate(773.0 603.8) rotate(-90)" font-size="16.3">Tuscan</text>
<text transform="translate(56.8 785.2) rotate(-90)" font-size="16.3">Balochi</text>
<text transform="translate(90.6 787.2) rotate(-90)" font-size="16.3">Brahui</text>
<text transform="translate(127.2 783.6) rotate(-90)" font-size="16.3">Burusho</text>
<text transform="translate(156.8 784.3) rotate(-90)" font-size="16.3">Hazara</text>
<text transform="translate(188.5 783.2) rotate(-90)" font-size="16.3">Kalash</text>
<text transform="translate(223.1 784.4) rotate(-90)" font-size="16.3">Makrani</text>
<text transform="translate(257.0 782.7) rotate(-90)" font-size="16.3">Pathan</text>
<text transform="translate(289.2 781.9) rotate(-90)" font-size="16.3">Sindhi</text>
<text transform="translate(314.3 784.0) rotate(-90)" font-size="16.3">Uygur</text>
<text transform="translate(330.0 784.4) rotate(-90)" font-size="16.3">Cambodian</text>
<text transform="translate(346.1 784.4) rotate(-90)" font-size="16.3">Dai</text>
<text transform="translate(358.9 784.3) rotate(-90)" font-size="16.3">Daur</text>
<text transform="translate(384.3 783.5) rotate(-90)" font-size="16.3">Han</text>
<text transform="translate(418.2 783.5) rotate(-90)" font-size="16.3">N. Han</text>
<text transform="translate(431.0 786.6) rotate(-90)" font-size="16.3">Hezhen</text>
<text transform="translate(454.8 785.9) rotate(-90)" font-size="16.3">Japanese</text>
<text transform="translate(655.8 781.9) rotate(-90)" font-size="16.3">Melanesian</text>
<text transform="translate(673.7 784.4) rotate(-90)" font-size="16.3">Papuan</text>
<text transform="translate(695.8 781.5) rotate(-90)" font-size="16.3">Colombian</text>
<text transform="translate(710.2 784.6) rotate(-90)" font-size="16.3">Karitiana</text>
<text transform="translate(728.5 783.0) rotate(-90)" font-size="16.3">Maya</text>
<text transform="translate(754.0 787.1) rotate(-90)" font-size="16.3">Pima</text>
<text transform="translate(772.2 783.2) rotate(-90)" font-size="16.3">Surui</text>
<text transform="translate(474.4 787.4) rotate(-90)" font-size="13.0">Lahu</text>
<text transform="translate(490.4 786.2) rotate(-90)" font-size="13.0">Miaozu</text>
<text transform="translate(505.5 788.3) rotate(-90)" font-size="13.0">Mongola</text>
<text transform="translate(521.0 787.5) rotate(-90)" font-size="13.0">Oroqen</text>
<text transform="translate(537.6 787.4) rotate(-90)" font-size="13.0">Naxi</text>
<text transform="translate(553.6 787.7) rotate(-90)" font-size="13.0">She</text>
<text transform="translate(568.9 786.2) rotate(-90)" font-size="13.0">Tu</text>
<text transform="translate(583.0 788.3) rotate(-90)" font-size="13.0">Tujia</text>
<text transform="translate(600.0 786.6) rotate(-90)" font-size="13.0">Xibo</text>
<text transform="translate(619.2 785.4) rotate(-90)" font-size="13.0">Yakut</text>
<text transform="translate(638.5 783.7) rotate(-90)" font-size="13.0">Yizu</text>
</g>
<g font-family="Liberation Sans, sans-serif" font-weight="bold" font-size="23" filter="url(#bt)">
<text x="5.4" y="24.9" letter-spacing="0.6">(a)</text>
<text x="10.3" y="512.9" letter-spacing="0.6">(b)</text>
</g>
</svg>
</body></html>
